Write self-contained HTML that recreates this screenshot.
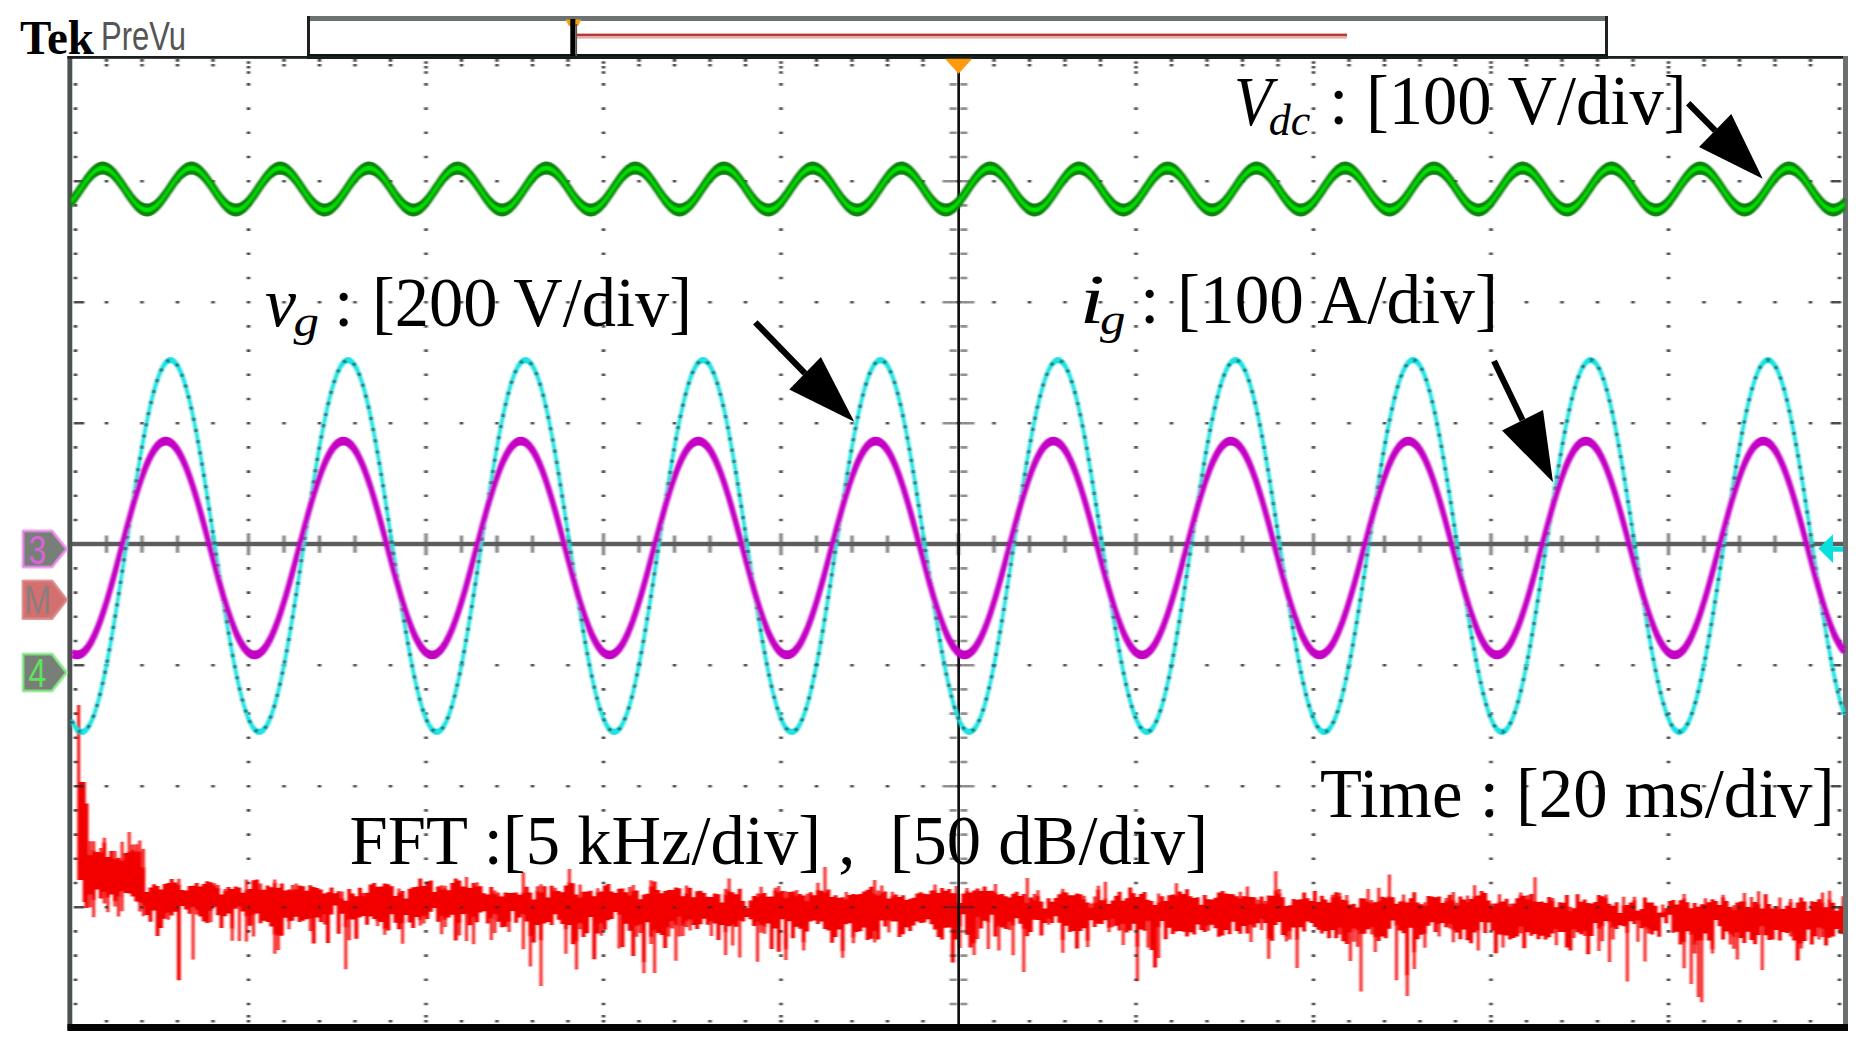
<!DOCTYPE html>
<html lang="en"><head><meta charset="utf-8"><title>Tek PreVu</title>
<style>html,body{margin:0;padding:0;background:#fff;overflow:hidden}svg{display:block}.s{font-family:"Liberation Serif","Times New Roman",serif;fill:#000}.i{font-style:italic}</style></head><body>
<svg width="1871" height="1052" viewBox="0 0 1871 1052">
<defs><filter id="bl" x="0" y="0" width="1871" height="1052" filterUnits="userSpaceOnUse"><feGaussianBlur stdDeviation="0.8 0.65"/></filter></defs>
<rect width="1871" height="1052" fill="#fff"/>
<rect x="307" y="16" width="1301" height="5" fill="#6c7272"/>
<rect x="307" y="16" width="3" height="42" fill="#1c2222"/>
<rect x="1605" y="16" width="3" height="42" fill="#1c2222"/>
<rect x="307" y="54" width="1301" height="5" fill="#0d1414"/>
<rect x="577" y="33.6" width="770" height="2.8" fill="#b83838"/>
<rect x="577" y="36.4" width="770" height="2.2" fill="#e8a8a8"/>
<path d="M565.5 19.5h16l-3.5 6.5h-9z" fill="#f5a010"/>
<rect x="570.3" y="19" width="5" height="39" fill="#000"/>
<rect x="575.3" y="24" width="1.8" height="32" fill="#555"/>
<text class="s" x="20" y="54" font-size="48.5" font-weight="bold" textLength="74" lengthAdjust="spacingAndGlyphs">Tek</text>
<text x="101" y="49.8" font-size="41" font-family="'Liberation Sans',Arial,sans-serif" fill="#555" textLength="85" lengthAdjust="spacingAndGlyphs">PreVu</text>
<g filter="url(#bl)">
<path d="M84.6 803.6h3.9v104.5h-3.9zM88.1 854.7h3.9v40.3h-3.9zM91.7 850.1h3.9v50.2h-3.9zM95.2 852.1h3.9v37.4h-3.9zM98.8 852.1h3.9v46.3h-3.9zM102.3 842.2h3.9v50.2h-3.9zM105.9 857.1h3.9v40.7h-3.9zM109.4 850.9h3.9v43.6h-3.9zM113 858.6h3.9v42.8h-3.9zM116.5 858h3.9v39.1h-3.9zM120.1 860.3h3.9v31.3h-3.9zM123.6 852.9h3.9v40.1h-3.9zM127.2 851.4h3.9v42.2h-3.9zM130.7 849.5h3.9v46.9h-3.9zM134.3 851.3h3.9v50.1h-3.9zM137.8 851.2h3.9v51.9h-3.9zM141.4 867.1h3.9v38.7h-3.9zM145 891.9h3.9v23.2h-3.9zM148.5 887.4h3.9v34.3h-3.9zM152.1 884.3h3.9v26.2h-3.9zM155.6 886h3.9v50h-3.9zM159.2 889.6h3.9v38.3h-3.9zM162.7 883.9h3.9v34.9h-3.9zM166.3 882.9h3.9v30.3h-3.9zM169.8 878.9h3.9v36.7h-3.9zM173.4 882.5h3.9v29.3h-3.9zM176.9 884.7h3.9v95.6h-3.9zM180.5 890.1h3.9v16h-3.9zM184 890.4h3.9v19.1h-3.9zM187.6 886h3.9v27.7h-3.9zM191.1 885.7h3.9v21.8h-3.9zM194.7 883h3.9v27.4h-3.9zM198.2 886.5h3.9v30h-3.9zM201.8 883.9h3.9v37.7h-3.9zM205.3 881.3h3.9v41.6h-3.9zM208.9 882.3h3.9v29h-3.9zM212.4 885.3h3.9v21.4h-3.9zM216 887.8h3.9v27.5h-3.9zM219.5 894.5h3.9v33.6h-3.9zM223.1 891h3.9v25.2h-3.9zM226.6 887h3.9v26.6h-3.9zM230.2 889h3.9v39.8h-3.9zM233.7 886.5h3.9v22.3h-3.9zM237.3 887.5h3.9v19.6h-3.9zM240.8 892.7h3.9v18.7h-3.9zM244.4 889.8h3.9v26.7h-3.9zM247.9 889h3.9v36.7h-3.9zM251.5 880.3h3.9v35.2h-3.9zM255 879.4h3.9v34h-3.9zM258.6 889.2h3.9v34.1h-3.9zM262.1 889.7h3.9v31h-3.9zM265.7 885.6h3.9v36.3h-3.9zM269.2 887.2h3.9v39.4h-3.9zM272.8 882.7h3.9v52h-3.9zM276.3 887.8h3.9v48.3h-3.9zM279.9 883.4h3.9v52.3h-3.9zM283.4 890.5h3.9v27.3h-3.9zM287 889.5h3.9v32.1h-3.9zM290.5 889.7h3.9v31.1h-3.9zM294.1 889h3.9v27.8h-3.9zM297.6 885.5h3.9v36.4h-3.9zM301.2 886.2h3.9v34.5h-3.9zM304.7 890.7h3.9v28.5h-3.9zM308.3 885.2h3.9v33.9h-3.9zM311.8 887h3.9v56.6h-3.9zM315.4 887.9h3.9v29.7h-3.9zM318.9 889.4h3.9v32.7h-3.9zM322.5 893.5h3.9v21.5h-3.9zM326 892.3h3.9v50.7h-3.9zM329.6 887.5h3.9v26.9h-3.9zM333.1 893.3h3.9v12.3h-3.9zM336.7 891.2h3.9v42.6h-3.9zM340.2 898h3.9v15.7h-3.9zM343.8 900.7h3.9v26.7h-3.9zM347.3 889h3.9v30.7h-3.9zM350.9 893.6h3.9v25.9h-3.9zM354.4 896.3h3.9v42.5h-3.9zM358 887.7h3.9v29.7h-3.9zM361.5 895.4h3.9v20.6h-3.9zM365.1 892.7h3.9v32.1h-3.9zM368.6 884.4h3.9v32.2h-3.9zM372.2 882.9h3.9v36.1h-3.9zM375.7 886.7h3.9v34.7h-3.9zM379.3 886.5h3.9v35.4h-3.9zM382.8 883.6h3.9v45.6h-3.9zM386.4 884.2h3.9v46.3h-3.9zM389.9 886.2h3.9v28.1h-3.9zM393.5 896.1h3.9v26.7h-3.9zM397 892.4h3.9v36.8h-3.9zM400.6 891h3.9v32.7h-3.9zM404.1 898.6h3.9v16.4h-3.9zM407.7 888.7h3.9v33.8h-3.9zM411.2 887.3h3.9v40.6h-3.9zM414.8 886.7h3.9v30.4h-3.9zM418.3 878.5h3.9v41.8h-3.9zM421.9 885.9h3.9v30.3h-3.9zM425.4 881.6h3.9v37.4h-3.9zM429 880.6h3.9v31.2h-3.9zM432.5 892h3.9v15.9h-3.9zM436.1 886.6h3.9v35.1h-3.9zM439.6 889.1h3.9v27.6h-3.9zM443.2 888.3h3.9v31.6h-3.9zM446.7 890.2h3.9v27.2h-3.9zM450.3 883h3.9v31.7h-3.9zM453.8 878.5h3.9v62.1h-3.9zM457.4 880.6h3.9v42.7h-3.9zM460.9 886.6h3.9v27.4h-3.9zM464.5 886.4h3.9v28.1h-3.9zM468 887.9h3.9v37.4h-3.9zM471.6 882.9h3.9v34.6h-3.9zM475.1 886.1h3.9v36.2h-3.9zM478.7 886.3h3.9v26.1h-3.9zM482.2 893.2h3.9v18.1h-3.9zM485.8 894.5h3.9v29.1h-3.9zM489.3 887.1h3.9v31.8h-3.9zM492.9 893.2h3.9v21.2h-3.9zM496.4 895.2h3.9v26.5h-3.9zM500 896.5h3.9v30.8h-3.9zM503.5 892.5h3.9v34.2h-3.9zM507.1 892.9h3.9v29h-3.9zM510.6 892.7h3.9v18.3h-3.9zM514.2 892.4h3.9v30.3h-3.9zM517.7 894.7h3.9v22.8h-3.9zM521.3 892.5h3.9v22.2h-3.9zM524.8 886.8h3.9v34.7h-3.9zM528.4 892.5h3.9v44h-3.9zM531.9 899.5h3.9v43.1h-3.9zM535.5 890.6h3.9v34.4h-3.9zM539 891.9h3.9v48.6h-3.9zM542.6 886.2h3.9v37.4h-3.9zM546.1 897.6h3.9v24.5h-3.9zM549.7 885.7h3.9v39.3h-3.9zM553.2 890.4h3.9v23.9h-3.9zM556.8 891h3.9v28.7h-3.9zM560.3 892.3h3.9v31.6h-3.9zM563.9 885.4h3.9v44h-3.9zM567.4 882.3h3.9v42.8h-3.9zM571 883.2h3.9v61h-3.9zM574.5 894.4h3.9v47.4h-3.9zM578.1 897.2h3.9v26.5h-3.9zM581.6 891.7h3.9v45.4h-3.9zM585.2 891.4h3.9v41.9h-3.9zM588.7 890.7h3.9v26.4h-3.9zM592.3 896.3h3.9v62.9h-3.9zM595.8 892h3.9v41.4h-3.9zM599.4 891.5h3.9v32.2h-3.9zM602.9 885.6h3.9v44.2h-3.9zM606.4 883.9h3.9v36.4h-3.9zM610 891.5h3.9v27.5h-3.9zM613.5 893h3.9v19.1h-3.9zM617.1 888.7h3.9v26.3h-3.9zM620.6 888.4h3.9v58.5h-3.9zM624.2 892.3h3.9v31.4h-3.9zM627.7 894.8h3.9v35.9h-3.9zM631.3 890.4h3.9v65.5h-3.9zM634.8 890.6h3.9v35.6h-3.9zM638.4 899.3h3.9v25.8h-3.9zM641.9 894.4h3.9v68h-3.9zM645.5 893.8h3.9v28.5h-3.9zM649 886.3h3.9v50.8h-3.9zM652.6 881.6h3.9v48.9h-3.9zM656.1 890.1h3.9v42.9h-3.9zM659.7 893.3h3.9v41.6h-3.9zM663.2 891.1h3.9v57h-3.9zM666.8 890.1h3.9v37.5h-3.9zM670.3 889.9h3.9v31.6h-3.9zM673.9 887.5h3.9v37.9h-3.9zM677.4 888.3h3.9v28.8h-3.9zM681 896.2h3.9v29.7h-3.9zM684.5 893h3.9v28.7h-3.9zM688.1 887.8h3.9v32.4h-3.9zM691.6 897.3h3.9v27.8h-3.9zM695.2 891.3h3.9v37.6h-3.9zM698.7 890.8h3.9v33.4h-3.9zM702.3 893h3.9v25.7h-3.9zM705.8 896.7h3.9v28h-3.9zM709.4 897h3.9v24.8h-3.9zM712.9 893.4h3.9v30.2h-3.9zM716.5 894.3h3.9v45.6h-3.9zM720 902.6h3.9v22.5h-3.9zM723.6 894.3h3.9v38.2h-3.9zM727.1 890.6h3.9v35.7h-3.9zM730.7 892.2h3.9v33h-3.9zM734.2 894.3h3.9v32.5h-3.9zM737.8 888.8h3.9v32.3h-3.9zM741.3 901.1h3.9v20.5h-3.9zM744.9 908.2h3.9v8.9h-3.9zM748.4 900.6h3.9v18.6h-3.9zM752 896.1h3.9v29.8h-3.9zM755.5 896.6h3.9v26h-3.9zM759.1 893.8h3.9v31.6h-3.9zM762.6 892.9h3.9v34.2h-3.9zM766.2 896.8h3.9v26.6h-3.9zM769.7 896.5h3.9v52.5h-3.9zM773.3 890.1h3.9v38.4h-3.9zM776.8 891.8h3.9v59.9h-3.9zM780.4 891.1h3.9v28.2h-3.9zM783.9 897.6h3.9v51.9h-3.9zM787.5 891.9h3.9v29.4h-3.9zM791 891.5h3.9v46.7h-3.9zM794.6 895.6h3.9v31.1h-3.9zM798.1 893.9h3.9v34.8h-3.9zM801.7 895.5h3.9v46.9h-3.9zM805.2 900.8h3.9v30.7h-3.9zM808.8 892.3h3.9v29.3h-3.9zM812.3 895.2h3.9v25.3h-3.9zM815.9 889.8h3.9v34.3h-3.9zM819.4 890.7h3.9v30.8h-3.9zM823 892.1h3.9v37h-3.9zM826.5 889.6h3.9v40.9h-3.9zM830.1 897h3.9v45.8h-3.9zM833.6 895.3h3.9v41.7h-3.9zM837.2 897.7h3.9v31.8h-3.9zM840.7 897.2h3.9v54.1h-3.9zM844.3 898.8h3.9v25.4h-3.9zM847.8 894.9h3.9v28.4h-3.9zM851.4 894h3.9v43.7h-3.9zM854.9 894.6h3.9v37.5h-3.9zM858.5 894.1h3.9v37.2h-3.9zM862 891.6h3.9v35.8h-3.9zM865.6 889.8h3.9v50.1h-3.9zM869.1 886.8h3.9v52h-3.9zM872.7 893.2h3.9v38.3h-3.9zM876.2 894.9h3.9v44.5h-3.9zM879.8 892.6h3.9v28h-3.9zM883.3 891.4h3.9v35.2h-3.9zM886.9 898.5h3.9v22h-3.9zM890.4 896.2h3.9v25.4h-3.9zM894 894.6h3.9v26.8h-3.9zM897.5 896.9h3.9v40.1h-3.9zM901.1 895.3h3.9v39h-3.9zM904.6 900.1h3.9v27.2h-3.9zM908.2 898.8h3.9v32.1h-3.9zM911.7 897.8h3.9v27.6h-3.9zM915.3 893.4h3.9v28h-3.9zM918.8 892.2h3.9v30.9h-3.9zM922.4 893.8h3.9v28.8h-3.9zM925.9 894.3h3.9v24.9h-3.9zM929.5 890.5h3.9v33.7h-3.9zM933 890.1h3.9v39.4h-3.9zM936.6 893h3.9v43.9h-3.9zM940.1 888.1h3.9v51.5h-3.9zM943.7 890.7h3.9v37.1h-3.9zM947.2 889.1h3.9v38.3h-3.9zM950.8 893.2h3.9v69.2h-3.9zM954.3 893h3.9v46.6h-3.9zM957.9 903.1h3.9v23.4h-3.9zM961.4 893.6h3.9v20.6h-3.9zM965 890.7h3.9v44h-3.9zM968.5 892.5h3.9v55.1h-3.9zM972.1 890.4h3.9v53.1h-3.9zM975.6 888.4h3.9v29.1h-3.9zM979.2 891.1h3.9v37.4h-3.9zM982.7 886.5h3.9v34.3h-3.9zM986.3 891.1h3.9v31.3h-3.9zM989.8 890.8h3.9v24h-3.9zM993.4 892.1h3.9v44.5h-3.9zM996.9 894.4h3.9v32.3h-3.9zM1000.5 894h3.9v33.5h-3.9zM1004 896.2h3.9v32.9h-3.9zM1007.6 897.5h3.9v24.8h-3.9zM1011.1 893.8h3.9v31.9h-3.9zM1014.7 891.8h3.9v26.5h-3.9zM1018.2 895.9h3.9v27.8h-3.9zM1021.8 894h3.9v35.2h-3.9zM1025.3 902.5h3.9v33.7h-3.9zM1028.9 897.6h3.9v34.4h-3.9zM1032.4 899.7h3.9v20h-3.9zM1036 895.7h3.9v24.3h-3.9zM1039.5 901.6h3.9v34h-3.9zM1043.1 908.5h3.9v14.4h-3.9zM1046.6 898.3h3.9v20.9h-3.9zM1050.2 901.7h3.9v21.4h-3.9zM1053.7 898.1h3.9v18.1h-3.9zM1057.3 894.3h3.9v28.5h-3.9zM1060.8 891.5h3.9v48.7h-3.9zM1064.4 892.5h3.9v33.3h-3.9zM1067.9 895.3h3.9v36.7h-3.9zM1071.5 895.2h3.9v35.9h-3.9zM1075 893.6h3.9v55h-3.9zM1078.6 894.2h3.9v36.7h-3.9zM1082.1 898.9h3.9v29.4h-3.9zM1085.7 902.6h3.9v38.5h-3.9zM1089.2 907.2h3.9v13.1h-3.9zM1092.8 902.3h3.9v24.8h-3.9zM1096.3 889.6h3.9v34.2h-3.9zM1099.9 900.3h3.9v23.6h-3.9zM1103.4 898.2h3.9v22.1h-3.9zM1107 904h3.9v23.9h-3.9zM1110.5 900.5h3.9v18.9h-3.9zM1114.1 895.7h3.9v30.1h-3.9zM1117.6 891.7h3.9v38.7h-3.9zM1121.2 900.7h3.9v23.6h-3.9zM1124.7 898.3h3.9v34.2h-3.9zM1128.3 887.5h3.9v43.1h-3.9zM1131.8 893.2h3.9v30.6h-3.9zM1135.4 896.9h3.9v50h-3.9zM1138.9 894.1h3.9v35.4h-3.9zM1142.5 892.1h3.9v38.7h-3.9zM1146 899.7h3.9v21.8h-3.9zM1149.6 900.9h3.9v49.2h-3.9zM1153.1 905h3.9v62.5h-3.9zM1156.7 902h3.9v25.6h-3.9zM1160.2 896.2h3.9v24.8h-3.9zM1163.8 900.9h3.9v38.3h-3.9zM1167.3 895.2h3.9v32.6h-3.9zM1170.9 894.5h3.9v39.6h-3.9zM1174.4 895.2h3.9v36.2h-3.9zM1178 891.5h3.9v39.5h-3.9zM1181.5 893.9h3.9v37.8h-3.9zM1185.1 889.2h3.9v47.3h-3.9zM1188.6 896.3h3.9v35.9h-3.9zM1192.2 898h3.9v36.6h-3.9zM1195.7 897.3h3.9v27.1h-3.9zM1199.3 904.7h3.9v25.4h-3.9zM1202.8 894.9h3.9v37h-3.9zM1206.4 899.2h3.9v26.7h-3.9zM1209.9 899.5h3.9v25.2h-3.9zM1213.5 897.8h3.9v30.5h-3.9zM1217 892.6h3.9v44.2h-3.9zM1220.6 890.9h3.9v44.7h-3.9zM1224.1 893.4h3.9v36.7h-3.9zM1227.7 893.9h3.9v40.4h-3.9zM1231.2 894.3h3.9v27.4h-3.9zM1234.8 896.2h3.9v34.8h-3.9zM1238.3 898.1h3.9v35.7h-3.9zM1241.9 896.2h3.9v29.8h-3.9zM1245.4 896.1h3.9v37.5h-3.9zM1249 896.9h3.9v28.3h-3.9zM1252.5 897.3h3.9v30.2h-3.9zM1256.1 903.5h3.9v19.8h-3.9zM1259.6 896.5h3.9v23.3h-3.9zM1263.2 903.3h3.9v19.6h-3.9zM1266.7 895.6h3.9v43.4h-3.9zM1270.3 895.8h3.9v45h-3.9zM1273.8 889.9h3.9v35.1h-3.9zM1277.4 893.2h3.9v28.9h-3.9zM1280.9 897.3h3.9v37.6h-3.9zM1284.5 906h3.9v30.9h-3.9zM1288 905.2h3.9v26.2h-3.9zM1291.6 899h3.9v28.6h-3.9zM1295.1 899.8h3.9v40.1h-3.9zM1298.7 899.3h3.9v28h-3.9zM1302.2 892.4h3.9v39.1h-3.9zM1305.8 898.3h3.9v23.2h-3.9zM1309.3 900.9h3.9v22.2h-3.9zM1312.9 891.1h3.9v35.9h-3.9zM1316.4 902.1h3.9v27.6h-3.9zM1320 895.7h3.9v37.8h-3.9zM1323.5 899.6h3.9v31.5h-3.9zM1327.1 902.6h3.9v35.6h-3.9zM1330.6 897h3.9v33h-3.9zM1334.2 892.3h3.9v46h-3.9zM1337.7 895.9h3.9v32.3h-3.9zM1341.3 899.8h3.9v41.5h-3.9zM1344.8 900.5h3.9v43.5h-3.9zM1348.4 904.4h3.9v28.4h-3.9zM1351.9 903.7h3.9v25.2h-3.9zM1355.5 907.4h3.9v23.7h-3.9zM1359 898.2h3.9v36h-3.9zM1362.6 898.5h3.9v35.3h-3.9zM1366.1 901.4h3.9v27.8h-3.9zM1369.7 902.7h3.9v25h-3.9zM1373.2 902.3h3.9v34.9h-3.9zM1376.8 900.8h3.9v40.2h-3.9zM1380.3 896.7h3.9v39.8h-3.9zM1383.9 897.5h3.9v40.7h-3.9zM1387.4 896.1h3.9v32.7h-3.9zM1391 897.2h3.9v23.2h-3.9zM1394.5 903.7h3.9v22.2h-3.9zM1398.1 901.6h3.9v28.8h-3.9zM1401.6 900.5h3.9v32.7h-3.9zM1405.2 902.5h3.9v73.1h-3.9zM1408.7 898.3h3.9v29.5h-3.9zM1412.3 892.2h3.9v60.2h-3.9zM1415.8 902.4h3.9v36.9h-3.9zM1419.4 904.2h3.9v30.5h-3.9zM1422.9 905.2h3.9v28.7h-3.9zM1426.5 896h3.9v29.8h-3.9zM1430 896.5h3.9v25.7h-3.9zM1433.6 897.3h3.9v34.7h-3.9zM1437.1 896.4h3.9v28.2h-3.9zM1440.7 902.9h3.9v20h-3.9zM1444.2 900.7h3.9v26.6h-3.9zM1447.8 894.7h3.9v29.8h-3.9zM1451.3 899.7h3.9v30.9h-3.9zM1454.9 905h3.9v27.4h-3.9zM1458.4 896.6h3.9v42.6h-3.9zM1462 899.6h3.9v29.8h-3.9zM1465.5 901.3h3.9v38.9h-3.9zM1469.1 899h3.9v44.2h-3.9zM1472.6 896h3.9v36.4h-3.9zM1476.2 895.6h3.9v35.2h-3.9zM1479.7 890.9h3.9v31.2h-3.9zM1483.3 893h3.9v40.1h-3.9zM1486.8 900.6h3.9v21.9h-3.9zM1490.4 906.3h3.9v24.2h-3.9zM1493.9 903.6h3.9v49.6h-3.9zM1497.5 901.4h3.9v33.1h-3.9zM1501 901.5h3.9v34h-3.9zM1504.6 898.7h3.9v36.7h-3.9zM1508.1 906.3h3.9v33.1h-3.9zM1511.7 903.5h3.9v34.5h-3.9zM1515.2 898.2h3.9v38.4h-3.9zM1518.8 895.2h3.9v31.8h-3.9zM1522.3 895.8h3.9v52.4h-3.9zM1525.9 898.9h3.9v33.3h-3.9zM1529.4 894.1h3.9v41.6h-3.9zM1533 901h3.9v32.9h-3.9zM1536.5 902h3.9v37.3h-3.9zM1540.1 901.4h3.9v34.3h-3.9zM1543.6 903.1h3.9v36.3h-3.9zM1547.2 896.9h3.9v40.3h-3.9zM1550.7 900.4h3.9v33h-3.9zM1554.3 907.3h3.9v22.3h-3.9zM1557.8 902.2h3.9v29.9h-3.9zM1561.4 902.7h3.9v29.3h-3.9zM1564.9 894.9h3.9v52.5h-3.9zM1568.5 910.6h3.9v39.9h-3.9zM1572 908.3h3.9v21.4h-3.9zM1575.6 894.2h3.9v38h-3.9zM1579.1 901.8h3.9v32.4h-3.9zM1582.7 899.5h3.9v31.9h-3.9zM1586.2 903h3.9v51.2h-3.9zM1589.8 903.5h3.9v32.4h-3.9zM1593.3 902.1h3.9v21h-3.9zM1596.9 895.1h3.9v33.9h-3.9zM1600.4 896.3h3.9v30.3h-3.9zM1604 897.7h3.9v23.4h-3.9zM1607.5 903.7h3.9v18.9h-3.9zM1611.1 905.8h3.9v21.9h-3.9zM1614.6 902.2h3.9v26.9h-3.9zM1618.2 913h3.9v12.3h-3.9zM1621.7 905.3h3.9v21h-3.9zM1625.3 905.1h3.9v28.2h-3.9zM1628.8 902.6h3.9v18.6h-3.9zM1632.4 900.1h3.9v23.8h-3.9zM1635.9 910.7h3.9v10.1h-3.9zM1639.5 909h3.9v19.2h-3.9zM1643 897.6h3.9v29.9h-3.9zM1646.6 902.6h3.9v27h-3.9zM1650.1 902.5h3.9v32.1h-3.9zM1653.7 905.8h3.9v24.9h-3.9zM1657.2 912.8h3.9v24h-3.9zM1660.8 911.4h3.9v5.9h-3.9zM1664.3 908.3h3.9v15h-3.9zM1667.9 901.1h3.9v13.6h-3.9zM1671.4 900h3.9v32.8h-3.9zM1675 904.6h3.9v27.2h-3.9zM1678.5 900.2h3.9v44.2h-3.9zM1682.1 898.2h3.9v44h-3.9zM1685.6 902.3h3.9v29h-3.9zM1689.2 908.3h3.9v26.8h-3.9zM1692.7 903h3.9v41.9h-3.9zM1696.3 906.7h3.9v34.2h-3.9zM1699.8 904.2h3.9v36.4h-3.9zM1703.4 904h3.9v29.4h-3.9zM1706.9 902.3h3.9v38.3h-3.9zM1710.5 899.2h3.9v50.4h-3.9zM1714 900.9h3.9v19h-3.9zM1717.6 905h3.9v21.2h-3.9zM1721.1 896.9h3.9v42.7h-3.9zM1724.7 900.9h3.9v30.7h-3.9zM1728.2 907h3.9v27.5h-3.9zM1731.8 909.4h3.9v27.9h-3.9zM1735.3 902.5h3.9v30.5h-3.9zM1738.9 901.5h3.9v36.4h-3.9zM1742.4 900.9h3.9v42.2h-3.9zM1746 907h3.9v24.8h-3.9zM1749.5 907h3.9v33h-3.9zM1753.1 902.1h3.9v42.2h-3.9zM1756.6 903.4h3.9v31.5h-3.9zM1760.2 908.4h3.9v18h-3.9zM1763.7 894.2h3.9v41.1h-3.9zM1767.3 904h3.9v36.1h-3.9zM1770.8 908.6h3.9v30.9h-3.9zM1774.4 906.3h3.9v23.8h-3.9zM1777.9 908.4h3.9v32h-3.9zM1781.5 909.1h3.9v23h-3.9zM1785 905.8h3.9v27.3h-3.9zM1788.6 902.1h3.9v30h-3.9zM1792.1 908h3.9v32.4h-3.9zM1795.7 902.6h3.9v57.8h-3.9zM1799.2 897.6h3.9v46.3h-3.9zM1802.8 901.6h3.9v39.3h-3.9zM1806.3 911.1h3.9v18.4h-3.9zM1809.9 901.3h3.9v43.2h-3.9zM1813.4 902.1h3.9v34.2h-3.9zM1817 899.3h3.9v28.6h-3.9zM1820.5 902.3h3.9v27.2h-3.9zM1824.1 907.2h3.9v38.2h-3.9zM1827.6 899.3h3.9v38.5h-3.9zM1831.2 902.7h3.9v33.9h-3.9zM1834.7 910.7h3.9v18.4h-3.9zM1838.3 906.2h3.9v27.6h-3.9zM1841.8 896.3h3.9v37.9h-3.9zM77.3 705h2.8v77h5.6v120h-3v-22h-5.4z" fill="#f20000"/><path d="M88.6 841.3h3v14.4h-3zM88.6 894h3v13.2h-3zM92.2 841.3h3v9.9h-3zM92.2 899.3h3v18h-3zM99.3 847.9h3v5.2h-3zM102.8 837.7h3v5.5h-3zM102.8 891.4h3v12h-3zM106.4 896.7h3v15.6h-3zM113.5 850.9h3v8.7h-3zM113.5 900.3h3v6.1h-3zM117 896.1h3v20.3h-3zM120.6 841.7h3v19.6h-3zM120.6 890.5h3v20.7h-3zM127.7 832h3v20.4h-3zM131.2 844.5h3v6h-3zM134.8 844.2h3v8.1h-3zM138.3 840.5h3v11.7h-3zM138.3 902.1h3v9.3h-3zM141.9 849h3v19.2h-3zM141.9 904.9h3v11.3h-3zM166.8 912.2h3v7.5h-3zM177.4 878.8h3v6.9h-3zM191.6 906.5h3v53.1h-3zM195.2 909.4h3v5.1h-3zM209.4 910.3h3v11.9h-3zM212.9 883.2h3v3.2h-3zM216.5 885.1h3v3.7h-3zM223.6 888.9h3v3.1h-3zM230.7 927.8h3v12.9h-3zM237.8 906h3v34.9h-3zM244.9 879.6h3v11.3h-3zM244.9 915.6h3v25.9h-3zM252 914.5h3v22h-3zM259.1 883.4h3v6.8h-3zM273.3 879.6h3v4.1h-3zM273.3 933.7h3v20.1h-3zM276.8 935.1h3v14.8h-3zM287.5 920.7h3v8.6h-3zM291 885.1h3v5.6h-3zM294.6 883.5h3v6.5h-3zM308.8 918.1h3v12.9h-3zM323 914h3v10.4h-3zM340.7 891.4h3v7.6h-3zM344.3 926.4h3v42.8h-3zM347.8 918.8h3v21.4h-3zM362 893.1h3v3.3h-3zM376.2 920.4h3v5.8h-3zM383.3 928.1h3v6.7h-3zM397.5 888.6h3v4.8h-3zM401.1 922.7h3v21.1h-3zM418.8 919.3h3v6.1h-3zM422.4 915.2h3v8.2h-3zM440.1 885.2h3v4.8h-3zM440.1 915.7h3v18.6h-3zM443.7 885.7h3v3.6h-3zM443.7 918.9h3v8.2h-3zM457.9 922.3h3v13.3h-3zM465 877.1h3v10.4h-3zM465 913.5h3v27.4h-3zM472.1 916.5h3v27.8h-3zM475.6 882.2h3v4.8h-3zM489.8 917.8h3v22.1h-3zM493.4 890.4h3v3.8h-3zM493.4 913.4h3v19.7h-3zM496.9 892.6h3v3.7h-3zM507.6 920.9h3v11.2h-3zM521.8 872.4h3v21.2h-3zM521.8 913.7h3v35.5h-3zM528.9 935.5h3v31.1h-3zM536 886.2h3v5.4h-3zM539.5 884.3h3v8.6h-3zM539.5 939.5h3v46.6h-3zM553.7 887.7h3v3.7h-3zM564.4 928.4h3v25.4h-3zM567.9 869h3v14.3h-3zM575 940.8h3v28.7h-3zM578.6 884.6h3v13.6h-3zM578.6 922.7h3v6.5h-3zM596.3 888.3h3v4.7h-3zM599.9 922.7h3v13h-3zM617.6 914h3v34.5h-3zM628.2 887h3v8.9h-3zM631.8 885h3v6.4h-3zM635.3 925.2h3v11.5h-3zM638.9 924.1h3v8.8h-3zM642.4 961.5h3v11.7h-3zM649.5 880.3h3v7h-3zM649.5 936.1h3v8h-3zM653.1 929.5h3v43.6h-3zM667.3 926.5h3v9.9h-3zM670.8 920.6h3v8h-3zM674.4 924.4h3v36.3h-3zM677.9 916.2h3v20.2h-3zM681.5 924.8h3v11.3h-3zM685 885.5h3v8.5h-3zM685 920.7h3v6.3h-3zM688.6 919.1h3v11.5h-3zM709.9 920.8h3v15.2h-3zM724.1 888.7h3v6.6h-3zM724.1 931.6h3v23.4h-3zM727.6 878.5h3v13.1h-3zM731.2 924.2h3v21.4h-3zM738.3 920.1h3v37.3h-3zM756 893.6h3v4h-3zM756 921.6h3v40.2h-3zM759.6 886.8h3v7.9h-3zM759.6 924.4h3v8.4h-3zM763.1 926.1h3v7.6h-3zM773.8 887.7h3v3.4h-3zM777.3 886h3v6.7h-3zM784.4 891.3h3v7.3h-3zM784.4 948.5h3v11.4h-3zM795.1 890.1h3v6.5h-3zM802.2 941.4h3v9.2h-3zM805.7 893.8h3v8h-3zM816.4 882.8h3v7.9h-3zM823.5 867.1h3v26.1h-3zM841.2 950.2h3v7.6h-3zM844.8 891.9h3v8h-3zM851.9 936.7h3v6.6h-3zM873.2 879.9h3v14.3h-3zM873.2 930.4h3v12.1h-3zM876.7 890.6h3v5.3h-3zM880.3 885.6h3v8h-3zM887.4 919.5h3v13.1h-3zM890.9 891.7h3v5.5h-3zM933.5 884.4h3v6.8h-3zM954.8 886.1h3v7.9h-3zM958.4 925.5h3v22.4h-3zM965.5 888.1h3v3.6h-3zM972.6 942.5h3v12.4h-3zM976.1 916.4h3v22.6h-3zM986.8 921.4h3v27.6h-3zM993.9 884.1h3v9h-3zM997.4 925.6h3v24.9h-3zM1008.1 921.3h3v8.8h-3zM1011.6 924.8h3v30.5h-3zM1022.3 928.2h3v43.9h-3zM1025.8 878h3v25.5h-3zM1032.9 894h3v6.7h-3zM1036.5 890.3h3v6.3h-3zM1047.1 918.2h3v6.5h-3zM1061.3 888.7h3v3.8h-3zM1061.3 939.2h3v13.5h-3zM1082.6 895.8h3v4.2h-3zM1086.2 940h3v6.9h-3zM1089.7 903.6h3v4.6h-3zM1093.3 896.5h3v6.7h-3zM1096.8 885.7h3v4.9h-3zM1103.9 881.8h3v17.4h-3zM1107.5 927h3v5.3h-3zM1111 918.4h3v8.9h-3zM1121.7 923.3h3v21.7h-3zM1135.9 945.9h3v35.3h-3zM1146.5 920.5h3v26.9h-3zM1157.2 893.5h3v9.5h-3zM1157.2 926.6h3v31.3h-3zM1174.9 883.3h3v12.9h-3zM1206.9 924.8h3v6h-3zM1238.8 891.7h3v7.4h-3zM1245.9 886.5h3v10.6h-3zM1249.5 924.2h3v17.8h-3zM1256.6 899.8h3v4.8h-3zM1260.1 918.8h3v11.1h-3zM1263.7 900.9h3v3.4h-3zM1267.2 938h3v20.8h-3zM1274.3 871.2h3v19.7h-3zM1277.9 889.1h3v5.2h-3zM1285 935.9h3v5.6h-3zM1288.5 930.5h3v9.1h-3zM1295.6 938.8h3v29.3h-3zM1331.1 894.7h3v3.4h-3zM1338.2 892.8h3v4.1h-3zM1338.2 927.2h3v7.3h-3zM1345.3 895.1h3v6.4h-3zM1348.9 931.9h3v29.2h-3zM1352.4 927.9h3v13.8h-3zM1356 930.1h3v16.7h-3zM1359.5 933.2h3v58.4h-3zM1366.6 889h3v13.5h-3zM1370.2 900.1h3v3.6h-3zM1370.2 926.8h3v7.8h-3zM1373.7 936.2h3v15.9h-3zM1377.3 887.8h3v13.9h-3zM1387.9 874.6h3v22.5h-3zM1395 924.8h3v55.4h-3zM1402.1 894.5h3v7.1h-3zM1405.7 974.6h3v21.4h-3zM1412.8 951.4h3v17.5h-3zM1423.4 902.3h3v3.9h-3zM1423.4 932.9h3v14.9h-3zM1437.6 923.7h3v12.9h-3zM1444.7 897.9h3v3.8h-3zM1448.3 923.5h3v5.1h-3zM1451.8 892.1h3v8.6h-3zM1451.8 929.6h3v12.7h-3zM1455.4 902.8h3v3.2h-3zM1466 895.4h3v7h-3zM1473.1 885.2h3v11.8h-3zM1476.7 929.8h3v20.8h-3zM1490.9 903.5h3v3.8h-3zM1498 894.3h3v8.1h-3zM1501.5 934.6h3v12.9h-3zM1508.6 903.8h3v3.5h-3zM1519.3 892.4h3v3.8h-3zM1519.3 926h3v7.3h-3zM1526.4 895.3h3v4.6h-3zM1533.5 877.2h3v24.8h-3zM1551.2 897.9h3v3.4h-3zM1554.8 928.7h3v16.6h-3zM1569 906.8h3v4.8h-3zM1572.5 928.7h3v9.4h-3zM1583.2 930.4h3v5.7h-3zM1597.4 928h3v23.1h-3zM1600.9 925.5h3v15.8h-3zM1604.5 894.4h3v4.3h-3zM1608 921.6h3v40.5h-3zM1611.6 926.7h3v12.7h-3zM1622.2 896.7h3v9.6h-3zM1625.8 932.3h3v49.3h-3zM1632.9 896.8h3v4.3h-3zM1636.4 919.7h3v22.1h-3zM1643.5 926.6h3v34.9h-3zM1647.1 928.6h3v5h-3zM1661.3 904.6h3v7.8h-3zM1682.6 894h3v5.1h-3zM1682.6 941.2h3v27h-3zM1689.7 934.1h3v49.9h-3zM1693.2 943.8h3v9.7h-3zM1696.8 939.9h3v57.1h-3zM1700.3 939.6h3v62.7h-3zM1703.9 898.3h3v6.7h-3zM1711 948.6h3v5h-3zM1721.6 894.7h3v3.2h-3zM1728.7 933.5h3v11h-3zM1732.3 905.2h3v5.2h-3zM1732.3 936.3h3v12.4h-3zM1735.8 932h3v27.5h-3zM1742.9 893h3v8.9h-3zM1750 896.9h3v11.1h-3zM1757.1 891.3h3v13.1h-3zM1760.7 925.4h3v44.6h-3zM1778.4 897.6h3v11.8h-3zM1789.1 899h3v4.1h-3zM1789.1 931.1h3v5.4h-3zM1799.7 942.9h3v5.5h-3zM1817.5 926.9h3v12.5h-3zM1821 892.5h3v10.8h-3zM1821 928.5h3v8.4h-3zM1828.1 890.7h3v9.6h-3z" fill="#f62222"/>
<path d="M247 83.1h3v2.6h-3zM247 107.3h3v2.6h-3zM247 131.5h3v2.6h-3zM247 155.7h3v2.6h-3zM247 179.9h3v2.6h-3zM247 204.1h3v2.6h-3zM247 228.3h3v2.6h-3zM247 252.5h3v2.6h-3zM247 276.7h3v2.6h-3zM247 300.9h3v2.6h-3zM247 325.1h3v2.6h-3zM247 349.3h3v2.6h-3zM247 373.5h3v2.6h-3zM247 397.7h3v2.6h-3zM247 421.9h3v2.6h-3zM247 446.1h3v2.6h-3zM247 470.3h3v2.6h-3zM247 494.5h3v2.6h-3zM247 518.7h3v2.6h-3zM247 542.9h3v2.6h-3zM247 567.1h3v2.6h-3zM247 591.3h3v2.6h-3zM247 615.5h3v2.6h-3zM247 639.7h3v2.6h-3zM247 663.9h3v2.6h-3zM247 688.1h3v2.6h-3zM247 712.3h3v2.6h-3zM247 736.5h3v2.6h-3zM247 760.7h3v2.6h-3zM247 784.9h3v2.6h-3zM247 809.1h3v2.6h-3zM247 833.3h3v2.6h-3zM247 857.5h3v2.6h-3zM247 881.7h3v2.6h-3zM247 905.9h3v2.6h-3zM247 930.1h3v2.6h-3zM247 954.3h3v2.6h-3zM247 978.5h3v2.6h-3zM247 1002.7h3v2.6h-3zM247 61.2h3v2.6h-3zM247 66h3v2.6h-3zM247 71.2h3v2.6h-3zM247 1020h3v2.6h-3zM247 1015h3v2.6h-3zM424.5 83.1h3v2.6h-3zM424.5 107.3h3v2.6h-3zM424.5 131.5h3v2.6h-3zM424.5 155.7h3v2.6h-3zM424.5 179.9h3v2.6h-3zM424.5 204.1h3v2.6h-3zM424.5 228.3h3v2.6h-3zM424.5 252.5h3v2.6h-3zM424.5 276.7h3v2.6h-3zM424.5 300.9h3v2.6h-3zM424.5 325.1h3v2.6h-3zM424.5 349.3h3v2.6h-3zM424.5 373.5h3v2.6h-3zM424.5 397.7h3v2.6h-3zM424.5 421.9h3v2.6h-3zM424.5 446.1h3v2.6h-3zM424.5 470.3h3v2.6h-3zM424.5 494.5h3v2.6h-3zM424.5 518.7h3v2.6h-3zM424.5 542.9h3v2.6h-3zM424.5 567.1h3v2.6h-3zM424.5 591.3h3v2.6h-3zM424.5 615.5h3v2.6h-3zM424.5 639.7h3v2.6h-3zM424.5 663.9h3v2.6h-3zM424.5 688.1h3v2.6h-3zM424.5 712.3h3v2.6h-3zM424.5 736.5h3v2.6h-3zM424.5 760.7h3v2.6h-3zM424.5 784.9h3v2.6h-3zM424.5 809.1h3v2.6h-3zM424.5 833.3h3v2.6h-3zM424.5 857.5h3v2.6h-3zM424.5 881.7h3v2.6h-3zM424.5 905.9h3v2.6h-3zM424.5 930.1h3v2.6h-3zM424.5 954.3h3v2.6h-3zM424.5 978.5h3v2.6h-3zM424.5 1002.7h3v2.6h-3zM424.5 61.2h3v2.6h-3zM424.5 66h3v2.6h-3zM424.5 71.2h3v2.6h-3zM424.5 1020h3v2.6h-3zM424.5 1015h3v2.6h-3zM602 83.1h3v2.6h-3zM602 107.3h3v2.6h-3zM602 131.5h3v2.6h-3zM602 155.7h3v2.6h-3zM602 179.9h3v2.6h-3zM602 204.1h3v2.6h-3zM602 228.3h3v2.6h-3zM602 252.5h3v2.6h-3zM602 276.7h3v2.6h-3zM602 300.9h3v2.6h-3zM602 325.1h3v2.6h-3zM602 349.3h3v2.6h-3zM602 373.5h3v2.6h-3zM602 397.7h3v2.6h-3zM602 421.9h3v2.6h-3zM602 446.1h3v2.6h-3zM602 470.3h3v2.6h-3zM602 494.5h3v2.6h-3zM602 518.7h3v2.6h-3zM602 542.9h3v2.6h-3zM602 567.1h3v2.6h-3zM602 591.3h3v2.6h-3zM602 615.5h3v2.6h-3zM602 639.7h3v2.6h-3zM602 663.9h3v2.6h-3zM602 688.1h3v2.6h-3zM602 712.3h3v2.6h-3zM602 736.5h3v2.6h-3zM602 760.7h3v2.6h-3zM602 784.9h3v2.6h-3zM602 809.1h3v2.6h-3zM602 833.3h3v2.6h-3zM602 857.5h3v2.6h-3zM602 881.7h3v2.6h-3zM602 905.9h3v2.6h-3zM602 930.1h3v2.6h-3zM602 954.3h3v2.6h-3zM602 978.5h3v2.6h-3zM602 1002.7h3v2.6h-3zM602 61.2h3v2.6h-3zM602 66h3v2.6h-3zM602 71.2h3v2.6h-3zM602 1020h3v2.6h-3zM602 1015h3v2.6h-3zM779.5 83.1h3v2.6h-3zM779.5 107.3h3v2.6h-3zM779.5 131.5h3v2.6h-3zM779.5 155.7h3v2.6h-3zM779.5 179.9h3v2.6h-3zM779.5 204.1h3v2.6h-3zM779.5 228.3h3v2.6h-3zM779.5 252.5h3v2.6h-3zM779.5 276.7h3v2.6h-3zM779.5 300.9h3v2.6h-3zM779.5 325.1h3v2.6h-3zM779.5 349.3h3v2.6h-3zM779.5 373.5h3v2.6h-3zM779.5 397.7h3v2.6h-3zM779.5 421.9h3v2.6h-3zM779.5 446.1h3v2.6h-3zM779.5 470.3h3v2.6h-3zM779.5 494.5h3v2.6h-3zM779.5 518.7h3v2.6h-3zM779.5 542.9h3v2.6h-3zM779.5 567.1h3v2.6h-3zM779.5 591.3h3v2.6h-3zM779.5 615.5h3v2.6h-3zM779.5 639.7h3v2.6h-3zM779.5 663.9h3v2.6h-3zM779.5 688.1h3v2.6h-3zM779.5 712.3h3v2.6h-3zM779.5 736.5h3v2.6h-3zM779.5 760.7h3v2.6h-3zM779.5 784.9h3v2.6h-3zM779.5 809.1h3v2.6h-3zM779.5 833.3h3v2.6h-3zM779.5 857.5h3v2.6h-3zM779.5 881.7h3v2.6h-3zM779.5 905.9h3v2.6h-3zM779.5 930.1h3v2.6h-3zM779.5 954.3h3v2.6h-3zM779.5 978.5h3v2.6h-3zM779.5 1002.7h3v2.6h-3zM779.5 61.2h3v2.6h-3zM779.5 66h3v2.6h-3zM779.5 71.2h3v2.6h-3zM779.5 1020h3v2.6h-3zM779.5 1015h3v2.6h-3zM1134.5 83.1h3v2.6h-3zM1134.5 107.3h3v2.6h-3zM1134.5 131.5h3v2.6h-3zM1134.5 155.7h3v2.6h-3zM1134.5 179.9h3v2.6h-3zM1134.5 204.1h3v2.6h-3zM1134.5 228.3h3v2.6h-3zM1134.5 252.5h3v2.6h-3zM1134.5 276.7h3v2.6h-3zM1134.5 300.9h3v2.6h-3zM1134.5 325.1h3v2.6h-3zM1134.5 349.3h3v2.6h-3zM1134.5 373.5h3v2.6h-3zM1134.5 397.7h3v2.6h-3zM1134.5 421.9h3v2.6h-3zM1134.5 446.1h3v2.6h-3zM1134.5 470.3h3v2.6h-3zM1134.5 494.5h3v2.6h-3zM1134.5 518.7h3v2.6h-3zM1134.5 542.9h3v2.6h-3zM1134.5 567.1h3v2.6h-3zM1134.5 591.3h3v2.6h-3zM1134.5 615.5h3v2.6h-3zM1134.5 639.7h3v2.6h-3zM1134.5 663.9h3v2.6h-3zM1134.5 688.1h3v2.6h-3zM1134.5 712.3h3v2.6h-3zM1134.5 736.5h3v2.6h-3zM1134.5 760.7h3v2.6h-3zM1134.5 784.9h3v2.6h-3zM1134.5 809.1h3v2.6h-3zM1134.5 833.3h3v2.6h-3zM1134.5 857.5h3v2.6h-3zM1134.5 881.7h3v2.6h-3zM1134.5 905.9h3v2.6h-3zM1134.5 930.1h3v2.6h-3zM1134.5 954.3h3v2.6h-3zM1134.5 978.5h3v2.6h-3zM1134.5 1002.7h3v2.6h-3zM1134.5 61.2h3v2.6h-3zM1134.5 66h3v2.6h-3zM1134.5 71.2h3v2.6h-3zM1134.5 1020h3v2.6h-3zM1134.5 1015h3v2.6h-3zM1312 83.1h3v2.6h-3zM1312 107.3h3v2.6h-3zM1312 131.5h3v2.6h-3zM1312 155.7h3v2.6h-3zM1312 179.9h3v2.6h-3zM1312 204.1h3v2.6h-3zM1312 228.3h3v2.6h-3zM1312 252.5h3v2.6h-3zM1312 276.7h3v2.6h-3zM1312 300.9h3v2.6h-3zM1312 325.1h3v2.6h-3zM1312 349.3h3v2.6h-3zM1312 373.5h3v2.6h-3zM1312 397.7h3v2.6h-3zM1312 421.9h3v2.6h-3zM1312 446.1h3v2.6h-3zM1312 470.3h3v2.6h-3zM1312 494.5h3v2.6h-3zM1312 518.7h3v2.6h-3zM1312 542.9h3v2.6h-3zM1312 567.1h3v2.6h-3zM1312 591.3h3v2.6h-3zM1312 615.5h3v2.6h-3zM1312 639.7h3v2.6h-3zM1312 663.9h3v2.6h-3zM1312 688.1h3v2.6h-3zM1312 712.3h3v2.6h-3zM1312 736.5h3v2.6h-3zM1312 760.7h3v2.6h-3zM1312 784.9h3v2.6h-3zM1312 809.1h3v2.6h-3zM1312 833.3h3v2.6h-3zM1312 857.5h3v2.6h-3zM1312 881.7h3v2.6h-3zM1312 905.9h3v2.6h-3zM1312 930.1h3v2.6h-3zM1312 954.3h3v2.6h-3zM1312 978.5h3v2.6h-3zM1312 1002.7h3v2.6h-3zM1312 61.2h3v2.6h-3zM1312 66h3v2.6h-3zM1312 71.2h3v2.6h-3zM1312 1020h3v2.6h-3zM1312 1015h3v2.6h-3zM1489.5 83.1h3v2.6h-3zM1489.5 107.3h3v2.6h-3zM1489.5 131.5h3v2.6h-3zM1489.5 155.7h3v2.6h-3zM1489.5 179.9h3v2.6h-3zM1489.5 204.1h3v2.6h-3zM1489.5 228.3h3v2.6h-3zM1489.5 252.5h3v2.6h-3zM1489.5 276.7h3v2.6h-3zM1489.5 300.9h3v2.6h-3zM1489.5 325.1h3v2.6h-3zM1489.5 349.3h3v2.6h-3zM1489.5 373.5h3v2.6h-3zM1489.5 397.7h3v2.6h-3zM1489.5 421.9h3v2.6h-3zM1489.5 446.1h3v2.6h-3zM1489.5 470.3h3v2.6h-3zM1489.5 494.5h3v2.6h-3zM1489.5 518.7h3v2.6h-3zM1489.5 542.9h3v2.6h-3zM1489.5 567.1h3v2.6h-3zM1489.5 591.3h3v2.6h-3zM1489.5 615.5h3v2.6h-3zM1489.5 639.7h3v2.6h-3zM1489.5 663.9h3v2.6h-3zM1489.5 688.1h3v2.6h-3zM1489.5 712.3h3v2.6h-3zM1489.5 736.5h3v2.6h-3zM1489.5 760.7h3v2.6h-3zM1489.5 784.9h3v2.6h-3zM1489.5 809.1h3v2.6h-3zM1489.5 833.3h3v2.6h-3zM1489.5 857.5h3v2.6h-3zM1489.5 881.7h3v2.6h-3zM1489.5 905.9h3v2.6h-3zM1489.5 930.1h3v2.6h-3zM1489.5 954.3h3v2.6h-3zM1489.5 978.5h3v2.6h-3zM1489.5 1002.7h3v2.6h-3zM1489.5 61.2h3v2.6h-3zM1489.5 66h3v2.6h-3zM1489.5 71.2h3v2.6h-3zM1489.5 1020h3v2.6h-3zM1489.5 1015h3v2.6h-3zM1667 83.1h3v2.6h-3zM1667 107.3h3v2.6h-3zM1667 131.5h3v2.6h-3zM1667 155.7h3v2.6h-3zM1667 179.9h3v2.6h-3zM1667 204.1h3v2.6h-3zM1667 228.3h3v2.6h-3zM1667 252.5h3v2.6h-3zM1667 276.7h3v2.6h-3zM1667 300.9h3v2.6h-3zM1667 325.1h3v2.6h-3zM1667 349.3h3v2.6h-3zM1667 373.5h3v2.6h-3zM1667 397.7h3v2.6h-3zM1667 421.9h3v2.6h-3zM1667 446.1h3v2.6h-3zM1667 470.3h3v2.6h-3zM1667 494.5h3v2.6h-3zM1667 518.7h3v2.6h-3zM1667 542.9h3v2.6h-3zM1667 567.1h3v2.6h-3zM1667 591.3h3v2.6h-3zM1667 615.5h3v2.6h-3zM1667 639.7h3v2.6h-3zM1667 663.9h3v2.6h-3zM1667 688.1h3v2.6h-3zM1667 712.3h3v2.6h-3zM1667 736.5h3v2.6h-3zM1667 760.7h3v2.6h-3zM1667 784.9h3v2.6h-3zM1667 809.1h3v2.6h-3zM1667 833.3h3v2.6h-3zM1667 857.5h3v2.6h-3zM1667 881.7h3v2.6h-3zM1667 905.9h3v2.6h-3zM1667 930.1h3v2.6h-3zM1667 954.3h3v2.6h-3zM1667 978.5h3v2.6h-3zM1667 1002.7h3v2.6h-3zM1667 61.2h3v2.6h-3zM1667 66h3v2.6h-3zM1667 71.2h3v2.6h-3zM1667 1020h3v2.6h-3zM1667 1015h3v2.6h-3zM105 179.9h3v2.6h-3zM140.5 179.9h3v2.6h-3zM176 179.9h3v2.6h-3zM211.5 179.9h3v2.6h-3zM247 179.9h3v2.6h-3zM282.5 179.9h3v2.6h-3zM318 179.9h3v2.6h-3zM353.5 179.9h3v2.6h-3zM389 179.9h3v2.6h-3zM424.5 179.9h3v2.6h-3zM460 179.9h3v2.6h-3zM495.5 179.9h3v2.6h-3zM531 179.9h3v2.6h-3zM566.5 179.9h3v2.6h-3zM602 179.9h3v2.6h-3zM637.5 179.9h3v2.6h-3zM673 179.9h3v2.6h-3zM708.5 179.9h3v2.6h-3zM744 179.9h3v2.6h-3zM779.5 179.9h3v2.6h-3zM815 179.9h3v2.6h-3zM850.5 179.9h3v2.6h-3zM886 179.9h3v2.6h-3zM921.5 179.9h3v2.6h-3zM957 179.9h3v2.6h-3zM992.5 179.9h3v2.6h-3zM1028 179.9h3v2.6h-3zM1063.5 179.9h3v2.6h-3zM1099 179.9h3v2.6h-3zM1134.5 179.9h3v2.6h-3zM1170 179.9h3v2.6h-3zM1205.5 179.9h3v2.6h-3zM1241 179.9h3v2.6h-3zM1276.5 179.9h3v2.6h-3zM1312 179.9h3v2.6h-3zM1347.5 179.9h3v2.6h-3zM1383 179.9h3v2.6h-3zM1418.5 179.9h3v2.6h-3zM1454 179.9h3v2.6h-3zM1489.5 179.9h3v2.6h-3zM1525 179.9h3v2.6h-3zM1560.5 179.9h3v2.6h-3zM1596 179.9h3v2.6h-3zM1631.5 179.9h3v2.6h-3zM1667 179.9h3v2.6h-3zM1702.5 179.9h3v2.6h-3zM1738 179.9h3v2.6h-3zM1773.5 179.9h3v2.6h-3zM1809 179.9h3v2.6h-3zM105 300.9h3v2.6h-3zM140.5 300.9h3v2.6h-3zM176 300.9h3v2.6h-3zM211.5 300.9h3v2.6h-3zM247 300.9h3v2.6h-3zM282.5 300.9h3v2.6h-3zM318 300.9h3v2.6h-3zM353.5 300.9h3v2.6h-3zM389 300.9h3v2.6h-3zM424.5 300.9h3v2.6h-3zM460 300.9h3v2.6h-3zM495.5 300.9h3v2.6h-3zM531 300.9h3v2.6h-3zM566.5 300.9h3v2.6h-3zM602 300.9h3v2.6h-3zM637.5 300.9h3v2.6h-3zM673 300.9h3v2.6h-3zM708.5 300.9h3v2.6h-3zM744 300.9h3v2.6h-3zM779.5 300.9h3v2.6h-3zM815 300.9h3v2.6h-3zM850.5 300.9h3v2.6h-3zM886 300.9h3v2.6h-3zM921.5 300.9h3v2.6h-3zM957 300.9h3v2.6h-3zM992.5 300.9h3v2.6h-3zM1028 300.9h3v2.6h-3zM1063.5 300.9h3v2.6h-3zM1099 300.9h3v2.6h-3zM1134.5 300.9h3v2.6h-3zM1170 300.9h3v2.6h-3zM1205.5 300.9h3v2.6h-3zM1241 300.9h3v2.6h-3zM1276.5 300.9h3v2.6h-3zM1312 300.9h3v2.6h-3zM1347.5 300.9h3v2.6h-3zM1383 300.9h3v2.6h-3zM1418.5 300.9h3v2.6h-3zM1454 300.9h3v2.6h-3zM1489.5 300.9h3v2.6h-3zM1525 300.9h3v2.6h-3zM1560.5 300.9h3v2.6h-3zM1596 300.9h3v2.6h-3zM1631.5 300.9h3v2.6h-3zM1667 300.9h3v2.6h-3zM1702.5 300.9h3v2.6h-3zM1738 300.9h3v2.6h-3zM1773.5 300.9h3v2.6h-3zM1809 300.9h3v2.6h-3zM105 421.9h3v2.6h-3zM140.5 421.9h3v2.6h-3zM176 421.9h3v2.6h-3zM211.5 421.9h3v2.6h-3zM247 421.9h3v2.6h-3zM282.5 421.9h3v2.6h-3zM318 421.9h3v2.6h-3zM353.5 421.9h3v2.6h-3zM389 421.9h3v2.6h-3zM424.5 421.9h3v2.6h-3zM460 421.9h3v2.6h-3zM495.5 421.9h3v2.6h-3zM531 421.9h3v2.6h-3zM566.5 421.9h3v2.6h-3zM602 421.9h3v2.6h-3zM637.5 421.9h3v2.6h-3zM673 421.9h3v2.6h-3zM708.5 421.9h3v2.6h-3zM744 421.9h3v2.6h-3zM779.5 421.9h3v2.6h-3zM815 421.9h3v2.6h-3zM850.5 421.9h3v2.6h-3zM886 421.9h3v2.6h-3zM921.5 421.9h3v2.6h-3zM957 421.9h3v2.6h-3zM992.5 421.9h3v2.6h-3zM1028 421.9h3v2.6h-3zM1063.5 421.9h3v2.6h-3zM1099 421.9h3v2.6h-3zM1134.5 421.9h3v2.6h-3zM1170 421.9h3v2.6h-3zM1205.5 421.9h3v2.6h-3zM1241 421.9h3v2.6h-3zM1276.5 421.9h3v2.6h-3zM1312 421.9h3v2.6h-3zM1347.5 421.9h3v2.6h-3zM1383 421.9h3v2.6h-3zM1418.5 421.9h3v2.6h-3zM1454 421.9h3v2.6h-3zM1489.5 421.9h3v2.6h-3zM1525 421.9h3v2.6h-3zM1560.5 421.9h3v2.6h-3zM1596 421.9h3v2.6h-3zM1631.5 421.9h3v2.6h-3zM1667 421.9h3v2.6h-3zM1702.5 421.9h3v2.6h-3zM1738 421.9h3v2.6h-3zM1773.5 421.9h3v2.6h-3zM1809 421.9h3v2.6h-3zM105 663.9h3v2.6h-3zM140.5 663.9h3v2.6h-3zM176 663.9h3v2.6h-3zM211.5 663.9h3v2.6h-3zM247 663.9h3v2.6h-3zM282.5 663.9h3v2.6h-3zM318 663.9h3v2.6h-3zM353.5 663.9h3v2.6h-3zM389 663.9h3v2.6h-3zM424.5 663.9h3v2.6h-3zM460 663.9h3v2.6h-3zM495.5 663.9h3v2.6h-3zM531 663.9h3v2.6h-3zM566.5 663.9h3v2.6h-3zM602 663.9h3v2.6h-3zM637.5 663.9h3v2.6h-3zM673 663.9h3v2.6h-3zM708.5 663.9h3v2.6h-3zM744 663.9h3v2.6h-3zM779.5 663.9h3v2.6h-3zM815 663.9h3v2.6h-3zM850.5 663.9h3v2.6h-3zM886 663.9h3v2.6h-3zM921.5 663.9h3v2.6h-3zM957 663.9h3v2.6h-3zM992.5 663.9h3v2.6h-3zM1028 663.9h3v2.6h-3zM1063.5 663.9h3v2.6h-3zM1099 663.9h3v2.6h-3zM1134.5 663.9h3v2.6h-3zM1170 663.9h3v2.6h-3zM1205.5 663.9h3v2.6h-3zM1241 663.9h3v2.6h-3zM1276.5 663.9h3v2.6h-3zM1312 663.9h3v2.6h-3zM1347.5 663.9h3v2.6h-3zM1383 663.9h3v2.6h-3zM1418.5 663.9h3v2.6h-3zM1454 663.9h3v2.6h-3zM1489.5 663.9h3v2.6h-3zM1525 663.9h3v2.6h-3zM1560.5 663.9h3v2.6h-3zM1596 663.9h3v2.6h-3zM1631.5 663.9h3v2.6h-3zM1667 663.9h3v2.6h-3zM1702.5 663.9h3v2.6h-3zM1738 663.9h3v2.6h-3zM1773.5 663.9h3v2.6h-3zM1809 663.9h3v2.6h-3zM105 784.9h3v2.6h-3zM140.5 784.9h3v2.6h-3zM176 784.9h3v2.6h-3zM211.5 784.9h3v2.6h-3zM247 784.9h3v2.6h-3zM282.5 784.9h3v2.6h-3zM318 784.9h3v2.6h-3zM353.5 784.9h3v2.6h-3zM389 784.9h3v2.6h-3zM424.5 784.9h3v2.6h-3zM460 784.9h3v2.6h-3zM495.5 784.9h3v2.6h-3zM531 784.9h3v2.6h-3zM566.5 784.9h3v2.6h-3zM602 784.9h3v2.6h-3zM637.5 784.9h3v2.6h-3zM673 784.9h3v2.6h-3zM708.5 784.9h3v2.6h-3zM744 784.9h3v2.6h-3zM779.5 784.9h3v2.6h-3zM815 784.9h3v2.6h-3zM850.5 784.9h3v2.6h-3zM886 784.9h3v2.6h-3zM921.5 784.9h3v2.6h-3zM957 784.9h3v2.6h-3zM992.5 784.9h3v2.6h-3zM1028 784.9h3v2.6h-3zM1063.5 784.9h3v2.6h-3zM1099 784.9h3v2.6h-3zM1134.5 784.9h3v2.6h-3zM1170 784.9h3v2.6h-3zM1205.5 784.9h3v2.6h-3zM1241 784.9h3v2.6h-3zM1276.5 784.9h3v2.6h-3zM1312 784.9h3v2.6h-3zM1347.5 784.9h3v2.6h-3zM1383 784.9h3v2.6h-3zM1418.5 784.9h3v2.6h-3zM1454 784.9h3v2.6h-3zM1489.5 784.9h3v2.6h-3zM1525 784.9h3v2.6h-3zM1560.5 784.9h3v2.6h-3zM1596 784.9h3v2.6h-3zM1631.5 784.9h3v2.6h-3zM1667 784.9h3v2.6h-3zM1702.5 784.9h3v2.6h-3zM1738 784.9h3v2.6h-3zM1773.5 784.9h3v2.6h-3zM1809 784.9h3v2.6h-3zM105 905.9h3v2.6h-3zM140.5 905.9h3v2.6h-3zM176 905.9h3v2.6h-3zM211.5 905.9h3v2.6h-3zM247 905.9h3v2.6h-3zM282.5 905.9h3v2.6h-3zM318 905.9h3v2.6h-3zM353.5 905.9h3v2.6h-3zM389 905.9h3v2.6h-3zM424.5 905.9h3v2.6h-3zM460 905.9h3v2.6h-3zM495.5 905.9h3v2.6h-3zM531 905.9h3v2.6h-3zM566.5 905.9h3v2.6h-3zM602 905.9h3v2.6h-3zM637.5 905.9h3v2.6h-3zM673 905.9h3v2.6h-3zM708.5 905.9h3v2.6h-3zM744 905.9h3v2.6h-3zM779.5 905.9h3v2.6h-3zM815 905.9h3v2.6h-3zM850.5 905.9h3v2.6h-3zM886 905.9h3v2.6h-3zM921.5 905.9h3v2.6h-3zM957 905.9h3v2.6h-3zM992.5 905.9h3v2.6h-3zM1028 905.9h3v2.6h-3zM1063.5 905.9h3v2.6h-3zM1099 905.9h3v2.6h-3zM1134.5 905.9h3v2.6h-3zM1170 905.9h3v2.6h-3zM1205.5 905.9h3v2.6h-3zM1241 905.9h3v2.6h-3zM1276.5 905.9h3v2.6h-3zM1312 905.9h3v2.6h-3zM1347.5 905.9h3v2.6h-3zM1383 905.9h3v2.6h-3zM1418.5 905.9h3v2.6h-3zM1454 905.9h3v2.6h-3zM1489.5 905.9h3v2.6h-3zM1525 905.9h3v2.6h-3zM1560.5 905.9h3v2.6h-3zM1596 905.9h3v2.6h-3zM1631.5 905.9h3v2.6h-3zM1667 905.9h3v2.6h-3zM1702.5 905.9h3v2.6h-3zM1738 905.9h3v2.6h-3zM1773.5 905.9h3v2.6h-3zM1809 905.9h3v2.6h-3zM105 59.1h3v2.6h-3zM105 63.9h3v2.6h-3zM105 1020h3v2.6h-3zM140.5 59.1h3v2.6h-3zM140.5 63.9h3v2.6h-3zM140.5 1020h3v2.6h-3zM176 59.1h3v2.6h-3zM176 63.9h3v2.6h-3zM176 1020h3v2.6h-3zM211.5 59.1h3v2.6h-3zM211.5 63.9h3v2.6h-3zM211.5 1020h3v2.6h-3zM282.5 59.1h3v2.6h-3zM282.5 63.9h3v2.6h-3zM282.5 1020h3v2.6h-3zM318 59.1h3v2.6h-3zM318 63.9h3v2.6h-3zM318 1020h3v2.6h-3zM353.5 59.1h3v2.6h-3zM353.5 63.9h3v2.6h-3zM353.5 1020h3v2.6h-3zM389 59.1h3v2.6h-3zM389 63.9h3v2.6h-3zM389 1020h3v2.6h-3zM460 59.1h3v2.6h-3zM460 63.9h3v2.6h-3zM460 1020h3v2.6h-3zM495.5 59.1h3v2.6h-3zM495.5 63.9h3v2.6h-3zM495.5 1020h3v2.6h-3zM531 59.1h3v2.6h-3zM531 63.9h3v2.6h-3zM531 1020h3v2.6h-3zM566.5 59.1h3v2.6h-3zM566.5 63.9h3v2.6h-3zM566.5 1020h3v2.6h-3zM637.5 59.1h3v2.6h-3zM637.5 63.9h3v2.6h-3zM637.5 1020h3v2.6h-3zM673 59.1h3v2.6h-3zM673 63.9h3v2.6h-3zM673 1020h3v2.6h-3zM708.5 59.1h3v2.6h-3zM708.5 63.9h3v2.6h-3zM708.5 1020h3v2.6h-3zM744 59.1h3v2.6h-3zM744 63.9h3v2.6h-3zM744 1020h3v2.6h-3zM815 59.1h3v2.6h-3zM815 63.9h3v2.6h-3zM815 1020h3v2.6h-3zM850.5 59.1h3v2.6h-3zM850.5 63.9h3v2.6h-3zM850.5 1020h3v2.6h-3zM886 59.1h3v2.6h-3zM886 63.9h3v2.6h-3zM886 1020h3v2.6h-3zM921.5 59.1h3v2.6h-3zM921.5 63.9h3v2.6h-3zM921.5 1020h3v2.6h-3zM992.5 59.1h3v2.6h-3zM992.5 63.9h3v2.6h-3zM992.5 1020h3v2.6h-3zM1028 59.1h3v2.6h-3zM1028 63.9h3v2.6h-3zM1028 1020h3v2.6h-3zM1063.5 59.1h3v2.6h-3zM1063.5 63.9h3v2.6h-3zM1063.5 1020h3v2.6h-3zM1099 59.1h3v2.6h-3zM1099 63.9h3v2.6h-3zM1099 1020h3v2.6h-3zM1170 59.1h3v2.6h-3zM1170 63.9h3v2.6h-3zM1170 1020h3v2.6h-3zM1205.5 59.1h3v2.6h-3zM1205.5 63.9h3v2.6h-3zM1205.5 1020h3v2.6h-3zM1241 59.1h3v2.6h-3zM1241 63.9h3v2.6h-3zM1241 1020h3v2.6h-3zM1276.5 59.1h3v2.6h-3zM1276.5 63.9h3v2.6h-3zM1276.5 1020h3v2.6h-3zM1347.5 59.1h3v2.6h-3zM1347.5 63.9h3v2.6h-3zM1347.5 1020h3v2.6h-3zM1383 59.1h3v2.6h-3zM1383 63.9h3v2.6h-3zM1383 1020h3v2.6h-3zM1418.5 59.1h3v2.6h-3zM1418.5 63.9h3v2.6h-3zM1418.5 1020h3v2.6h-3zM1454 59.1h3v2.6h-3zM1454 63.9h3v2.6h-3zM1454 1020h3v2.6h-3zM1525 59.1h3v2.6h-3zM1525 63.9h3v2.6h-3zM1525 1020h3v2.6h-3zM1560.5 59.1h3v2.6h-3zM1560.5 63.9h3v2.6h-3zM1560.5 1020h3v2.6h-3zM1596 59.1h3v2.6h-3zM1596 63.9h3v2.6h-3zM1596 1020h3v2.6h-3zM1631.5 59.1h3v2.6h-3zM1631.5 63.9h3v2.6h-3zM1631.5 1020h3v2.6h-3zM1702.5 59.1h3v2.6h-3zM1702.5 63.9h3v2.6h-3zM1702.5 1020h3v2.6h-3zM1738 59.1h3v2.6h-3zM1738 63.9h3v2.6h-3zM1738 1020h3v2.6h-3zM1773.5 59.1h3v2.6h-3zM1773.5 63.9h3v2.6h-3zM1773.5 1020h3v2.6h-3zM1809 59.1h3v2.6h-3zM1809 63.9h3v2.6h-3zM1809 1020h3v2.6h-3zM74 83.1h3v2.6h-3zM1838 83.1h3v2.6h-3zM74 107.3h3v2.6h-3zM1838 107.3h3v2.6h-3zM74 131.5h3v2.6h-3zM1838 131.5h3v2.6h-3zM74 155.7h3v2.6h-3zM1838 155.7h3v2.6h-3zM74 179.9h3v2.6h-3zM1838 179.9h3v2.6h-3zM77.5 179.9h3v2.6h-3zM81 179.9h3v2.6h-3zM1834.5 179.9h3v2.6h-3zM1831 179.9h3v2.6h-3zM74 204.1h3v2.6h-3zM1838 204.1h3v2.6h-3zM74 228.3h3v2.6h-3zM1838 228.3h3v2.6h-3zM74 252.5h3v2.6h-3zM1838 252.5h3v2.6h-3zM74 276.7h3v2.6h-3zM1838 276.7h3v2.6h-3zM74 300.9h3v2.6h-3zM1838 300.9h3v2.6h-3zM77.5 300.9h3v2.6h-3zM81 300.9h3v2.6h-3zM1834.5 300.9h3v2.6h-3zM1831 300.9h3v2.6h-3zM74 325.1h3v2.6h-3zM1838 325.1h3v2.6h-3zM74 349.3h3v2.6h-3zM1838 349.3h3v2.6h-3zM74 373.5h3v2.6h-3zM1838 373.5h3v2.6h-3zM74 397.7h3v2.6h-3zM1838 397.7h3v2.6h-3zM74 421.9h3v2.6h-3zM1838 421.9h3v2.6h-3zM77.5 421.9h3v2.6h-3zM81 421.9h3v2.6h-3zM1834.5 421.9h3v2.6h-3zM1831 421.9h3v2.6h-3zM74 446.1h3v2.6h-3zM1838 446.1h3v2.6h-3zM74 470.3h3v2.6h-3zM1838 470.3h3v2.6h-3zM74 494.5h3v2.6h-3zM1838 494.5h3v2.6h-3zM74 518.7h3v2.6h-3zM1838 518.7h3v2.6h-3zM74 542.9h3v2.6h-3zM1838 542.9h3v2.6h-3zM77.5 542.9h3v2.6h-3zM81 542.9h3v2.6h-3zM1834.5 542.9h3v2.6h-3zM1831 542.9h3v2.6h-3zM74 567.1h3v2.6h-3zM1838 567.1h3v2.6h-3zM74 591.3h3v2.6h-3zM1838 591.3h3v2.6h-3zM74 615.5h3v2.6h-3zM1838 615.5h3v2.6h-3zM74 639.7h3v2.6h-3zM1838 639.7h3v2.6h-3zM74 663.9h3v2.6h-3zM1838 663.9h3v2.6h-3zM77.5 663.9h3v2.6h-3zM81 663.9h3v2.6h-3zM1834.5 663.9h3v2.6h-3zM1831 663.9h3v2.6h-3zM74 688.1h3v2.6h-3zM1838 688.1h3v2.6h-3zM74 712.3h3v2.6h-3zM1838 712.3h3v2.6h-3zM74 736.5h3v2.6h-3zM1838 736.5h3v2.6h-3zM74 760.7h3v2.6h-3zM1838 760.7h3v2.6h-3zM74 784.9h3v2.6h-3zM1838 784.9h3v2.6h-3zM77.5 784.9h3v2.6h-3zM81 784.9h3v2.6h-3zM1834.5 784.9h3v2.6h-3zM1831 784.9h3v2.6h-3zM74 809.1h3v2.6h-3zM1838 809.1h3v2.6h-3zM74 833.3h3v2.6h-3zM1838 833.3h3v2.6h-3zM74 857.5h3v2.6h-3zM1838 857.5h3v2.6h-3zM74 881.7h3v2.6h-3zM1838 881.7h3v2.6h-3zM74 905.9h3v2.6h-3zM1838 905.9h3v2.6h-3zM77.5 905.9h3v2.6h-3zM81 905.9h3v2.6h-3zM1834.5 905.9h3v2.6h-3zM1831 905.9h3v2.6h-3zM74 930.1h3v2.6h-3zM1838 930.1h3v2.6h-3zM74 954.3h3v2.6h-3zM1838 954.3h3v2.6h-3zM74 978.5h3v2.6h-3zM1838 978.5h3v2.6h-3zM74 1002.7h3v2.6h-3zM1838 1002.7h3v2.6h-3z" fill="#1e1e1e" opacity="0.95"/><path d="M949.9 83.1h3v2.6h-3zM953.5 83.1h3v2.6h-3zM960.5 83.1h3v2.6h-3zM964.1 83.1h3v2.6h-3zM949.9 107.3h3v2.6h-3zM953.5 107.3h3v2.6h-3zM960.5 107.3h3v2.6h-3zM964.1 107.3h3v2.6h-3zM949.9 131.5h3v2.6h-3zM953.5 131.5h3v2.6h-3zM960.5 131.5h3v2.6h-3zM964.1 131.5h3v2.6h-3zM949.9 155.7h3v2.6h-3zM953.5 155.7h3v2.6h-3zM960.5 155.7h3v2.6h-3zM964.1 155.7h3v2.6h-3zM942.8 179.9h3v2.6h-3zM946.4 179.9h3v2.6h-3zM949.9 179.9h3v2.6h-3zM953.5 179.9h3v2.6h-3zM960.5 179.9h3v2.6h-3zM964.1 179.9h3v2.6h-3zM967.6 179.9h3v2.6h-3zM971.2 179.9h3v2.6h-3zM949.9 204.1h3v2.6h-3zM953.5 204.1h3v2.6h-3zM960.5 204.1h3v2.6h-3zM964.1 204.1h3v2.6h-3zM949.9 228.3h3v2.6h-3zM953.5 228.3h3v2.6h-3zM960.5 228.3h3v2.6h-3zM964.1 228.3h3v2.6h-3zM949.9 252.5h3v2.6h-3zM953.5 252.5h3v2.6h-3zM960.5 252.5h3v2.6h-3zM964.1 252.5h3v2.6h-3zM949.9 276.7h3v2.6h-3zM953.5 276.7h3v2.6h-3zM960.5 276.7h3v2.6h-3zM964.1 276.7h3v2.6h-3zM942.8 300.9h3v2.6h-3zM946.4 300.9h3v2.6h-3zM949.9 300.9h3v2.6h-3zM953.5 300.9h3v2.6h-3zM960.5 300.9h3v2.6h-3zM964.1 300.9h3v2.6h-3zM967.6 300.9h3v2.6h-3zM971.2 300.9h3v2.6h-3zM949.9 325.1h3v2.6h-3zM953.5 325.1h3v2.6h-3zM960.5 325.1h3v2.6h-3zM964.1 325.1h3v2.6h-3zM949.9 349.3h3v2.6h-3zM953.5 349.3h3v2.6h-3zM960.5 349.3h3v2.6h-3zM964.1 349.3h3v2.6h-3zM949.9 373.5h3v2.6h-3zM953.5 373.5h3v2.6h-3zM960.5 373.5h3v2.6h-3zM964.1 373.5h3v2.6h-3zM949.9 397.7h3v2.6h-3zM953.5 397.7h3v2.6h-3zM960.5 397.7h3v2.6h-3zM964.1 397.7h3v2.6h-3zM942.8 421.9h3v2.6h-3zM946.4 421.9h3v2.6h-3zM949.9 421.9h3v2.6h-3zM953.5 421.9h3v2.6h-3zM960.5 421.9h3v2.6h-3zM964.1 421.9h3v2.6h-3zM967.6 421.9h3v2.6h-3zM971.2 421.9h3v2.6h-3zM949.9 446.1h3v2.6h-3zM953.5 446.1h3v2.6h-3zM960.5 446.1h3v2.6h-3zM964.1 446.1h3v2.6h-3zM949.9 470.3h3v2.6h-3zM953.5 470.3h3v2.6h-3zM960.5 470.3h3v2.6h-3zM964.1 470.3h3v2.6h-3zM949.9 494.5h3v2.6h-3zM953.5 494.5h3v2.6h-3zM960.5 494.5h3v2.6h-3zM964.1 494.5h3v2.6h-3zM949.9 518.7h3v2.6h-3zM953.5 518.7h3v2.6h-3zM960.5 518.7h3v2.6h-3zM964.1 518.7h3v2.6h-3zM942.8 542.9h3v2.6h-3zM946.4 542.9h3v2.6h-3zM949.9 542.9h3v2.6h-3zM953.5 542.9h3v2.6h-3zM960.5 542.9h3v2.6h-3zM964.1 542.9h3v2.6h-3zM967.6 542.9h3v2.6h-3zM971.2 542.9h3v2.6h-3zM949.9 567.1h3v2.6h-3zM953.5 567.1h3v2.6h-3zM960.5 567.1h3v2.6h-3zM964.1 567.1h3v2.6h-3zM949.9 591.3h3v2.6h-3zM953.5 591.3h3v2.6h-3zM960.5 591.3h3v2.6h-3zM964.1 591.3h3v2.6h-3zM949.9 615.5h3v2.6h-3zM953.5 615.5h3v2.6h-3zM960.5 615.5h3v2.6h-3zM964.1 615.5h3v2.6h-3zM949.9 639.7h3v2.6h-3zM953.5 639.7h3v2.6h-3zM960.5 639.7h3v2.6h-3zM964.1 639.7h3v2.6h-3zM942.8 663.9h3v2.6h-3zM946.4 663.9h3v2.6h-3zM949.9 663.9h3v2.6h-3zM953.5 663.9h3v2.6h-3zM960.5 663.9h3v2.6h-3zM964.1 663.9h3v2.6h-3zM967.6 663.9h3v2.6h-3zM971.2 663.9h3v2.6h-3zM949.9 688.1h3v2.6h-3zM953.5 688.1h3v2.6h-3zM960.5 688.1h3v2.6h-3zM964.1 688.1h3v2.6h-3zM949.9 712.3h3v2.6h-3zM953.5 712.3h3v2.6h-3zM960.5 712.3h3v2.6h-3zM964.1 712.3h3v2.6h-3zM949.9 736.5h3v2.6h-3zM953.5 736.5h3v2.6h-3zM960.5 736.5h3v2.6h-3zM964.1 736.5h3v2.6h-3zM949.9 760.7h3v2.6h-3zM953.5 760.7h3v2.6h-3zM960.5 760.7h3v2.6h-3zM964.1 760.7h3v2.6h-3zM942.8 784.9h3v2.6h-3zM946.4 784.9h3v2.6h-3zM949.9 784.9h3v2.6h-3zM953.5 784.9h3v2.6h-3zM960.5 784.9h3v2.6h-3zM964.1 784.9h3v2.6h-3zM967.6 784.9h3v2.6h-3zM971.2 784.9h3v2.6h-3zM949.9 809.1h3v2.6h-3zM953.5 809.1h3v2.6h-3zM960.5 809.1h3v2.6h-3zM964.1 809.1h3v2.6h-3zM949.9 833.3h3v2.6h-3zM953.5 833.3h3v2.6h-3zM960.5 833.3h3v2.6h-3zM964.1 833.3h3v2.6h-3zM949.9 857.5h3v2.6h-3zM953.5 857.5h3v2.6h-3zM960.5 857.5h3v2.6h-3zM964.1 857.5h3v2.6h-3zM949.9 881.7h3v2.6h-3zM953.5 881.7h3v2.6h-3zM960.5 881.7h3v2.6h-3zM964.1 881.7h3v2.6h-3zM942.8 905.9h3v2.6h-3zM946.4 905.9h3v2.6h-3zM949.9 905.9h3v2.6h-3zM953.5 905.9h3v2.6h-3zM960.5 905.9h3v2.6h-3zM964.1 905.9h3v2.6h-3zM967.6 905.9h3v2.6h-3zM971.2 905.9h3v2.6h-3zM949.9 930.1h3v2.6h-3zM953.5 930.1h3v2.6h-3zM960.5 930.1h3v2.6h-3zM964.1 930.1h3v2.6h-3zM949.9 954.3h3v2.6h-3zM953.5 954.3h3v2.6h-3zM960.5 954.3h3v2.6h-3zM964.1 954.3h3v2.6h-3zM949.9 978.5h3v2.6h-3zM953.5 978.5h3v2.6h-3zM960.5 978.5h3v2.6h-3zM964.1 978.5h3v2.6h-3zM949.9 1002.7h3v2.6h-3zM953.5 1002.7h3v2.6h-3zM960.5 1002.7h3v2.6h-3zM964.1 1002.7h3v2.6h-3zM105 535.6h3v2.6h-3zM105 538h3v2.6h-3zM105 540.5h3v2.6h-3zM105 545.3h3v2.6h-3zM105 547.8h3v2.6h-3zM105 550.2h3v2.6h-3zM140.5 535.6h3v2.6h-3zM140.5 538h3v2.6h-3zM140.5 540.5h3v2.6h-3zM140.5 545.3h3v2.6h-3zM140.5 547.8h3v2.6h-3zM140.5 550.2h3v2.6h-3zM176 535.6h3v2.6h-3zM176 538h3v2.6h-3zM176 540.5h3v2.6h-3zM176 545.3h3v2.6h-3zM176 547.8h3v2.6h-3zM176 550.2h3v2.6h-3zM211.5 535.6h3v2.6h-3zM211.5 538h3v2.6h-3zM211.5 540.5h3v2.6h-3zM211.5 545.3h3v2.6h-3zM211.5 547.8h3v2.6h-3zM211.5 550.2h3v2.6h-3zM247 533.2h3v2.6h-3zM247 535.6h3v2.6h-3zM247 538h3v2.6h-3zM247 540.5h3v2.6h-3zM247 545.3h3v2.6h-3zM247 547.8h3v2.6h-3zM247 550.2h3v2.6h-3zM247 552.6h3v2.6h-3zM282.5 535.6h3v2.6h-3zM282.5 538h3v2.6h-3zM282.5 540.5h3v2.6h-3zM282.5 545.3h3v2.6h-3zM282.5 547.8h3v2.6h-3zM282.5 550.2h3v2.6h-3zM318 535.6h3v2.6h-3zM318 538h3v2.6h-3zM318 540.5h3v2.6h-3zM318 545.3h3v2.6h-3zM318 547.8h3v2.6h-3zM318 550.2h3v2.6h-3zM353.5 535.6h3v2.6h-3zM353.5 538h3v2.6h-3zM353.5 540.5h3v2.6h-3zM353.5 545.3h3v2.6h-3zM353.5 547.8h3v2.6h-3zM353.5 550.2h3v2.6h-3zM389 535.6h3v2.6h-3zM389 538h3v2.6h-3zM389 540.5h3v2.6h-3zM389 545.3h3v2.6h-3zM389 547.8h3v2.6h-3zM389 550.2h3v2.6h-3zM424.5 533.2h3v2.6h-3zM424.5 535.6h3v2.6h-3zM424.5 538h3v2.6h-3zM424.5 540.5h3v2.6h-3zM424.5 545.3h3v2.6h-3zM424.5 547.8h3v2.6h-3zM424.5 550.2h3v2.6h-3zM424.5 552.6h3v2.6h-3zM460 535.6h3v2.6h-3zM460 538h3v2.6h-3zM460 540.5h3v2.6h-3zM460 545.3h3v2.6h-3zM460 547.8h3v2.6h-3zM460 550.2h3v2.6h-3zM495.5 535.6h3v2.6h-3zM495.5 538h3v2.6h-3zM495.5 540.5h3v2.6h-3zM495.5 545.3h3v2.6h-3zM495.5 547.8h3v2.6h-3zM495.5 550.2h3v2.6h-3zM531 535.6h3v2.6h-3zM531 538h3v2.6h-3zM531 540.5h3v2.6h-3zM531 545.3h3v2.6h-3zM531 547.8h3v2.6h-3zM531 550.2h3v2.6h-3zM566.5 535.6h3v2.6h-3zM566.5 538h3v2.6h-3zM566.5 540.5h3v2.6h-3zM566.5 545.3h3v2.6h-3zM566.5 547.8h3v2.6h-3zM566.5 550.2h3v2.6h-3zM602 533.2h3v2.6h-3zM602 535.6h3v2.6h-3zM602 538h3v2.6h-3zM602 540.5h3v2.6h-3zM602 545.3h3v2.6h-3zM602 547.8h3v2.6h-3zM602 550.2h3v2.6h-3zM602 552.6h3v2.6h-3zM637.5 535.6h3v2.6h-3zM637.5 538h3v2.6h-3zM637.5 540.5h3v2.6h-3zM637.5 545.3h3v2.6h-3zM637.5 547.8h3v2.6h-3zM637.5 550.2h3v2.6h-3zM673 535.6h3v2.6h-3zM673 538h3v2.6h-3zM673 540.5h3v2.6h-3zM673 545.3h3v2.6h-3zM673 547.8h3v2.6h-3zM673 550.2h3v2.6h-3zM708.5 535.6h3v2.6h-3zM708.5 538h3v2.6h-3zM708.5 540.5h3v2.6h-3zM708.5 545.3h3v2.6h-3zM708.5 547.8h3v2.6h-3zM708.5 550.2h3v2.6h-3zM744 535.6h3v2.6h-3zM744 538h3v2.6h-3zM744 540.5h3v2.6h-3zM744 545.3h3v2.6h-3zM744 547.8h3v2.6h-3zM744 550.2h3v2.6h-3zM779.5 533.2h3v2.6h-3zM779.5 535.6h3v2.6h-3zM779.5 538h3v2.6h-3zM779.5 540.5h3v2.6h-3zM779.5 545.3h3v2.6h-3zM779.5 547.8h3v2.6h-3zM779.5 550.2h3v2.6h-3zM779.5 552.6h3v2.6h-3zM815 535.6h3v2.6h-3zM815 538h3v2.6h-3zM815 540.5h3v2.6h-3zM815 545.3h3v2.6h-3zM815 547.8h3v2.6h-3zM815 550.2h3v2.6h-3zM850.5 535.6h3v2.6h-3zM850.5 538h3v2.6h-3zM850.5 540.5h3v2.6h-3zM850.5 545.3h3v2.6h-3zM850.5 547.8h3v2.6h-3zM850.5 550.2h3v2.6h-3zM886 535.6h3v2.6h-3zM886 538h3v2.6h-3zM886 540.5h3v2.6h-3zM886 545.3h3v2.6h-3zM886 547.8h3v2.6h-3zM886 550.2h3v2.6h-3zM921.5 535.6h3v2.6h-3zM921.5 538h3v2.6h-3zM921.5 540.5h3v2.6h-3zM921.5 545.3h3v2.6h-3zM921.5 547.8h3v2.6h-3zM921.5 550.2h3v2.6h-3zM957 533.2h3v2.6h-3zM957 535.6h3v2.6h-3zM957 538h3v2.6h-3zM957 540.5h3v2.6h-3zM957 545.3h3v2.6h-3zM957 547.8h3v2.6h-3zM957 550.2h3v2.6h-3zM957 552.6h3v2.6h-3zM992.5 535.6h3v2.6h-3zM992.5 538h3v2.6h-3zM992.5 540.5h3v2.6h-3zM992.5 545.3h3v2.6h-3zM992.5 547.8h3v2.6h-3zM992.5 550.2h3v2.6h-3zM1028 535.6h3v2.6h-3zM1028 538h3v2.6h-3zM1028 540.5h3v2.6h-3zM1028 545.3h3v2.6h-3zM1028 547.8h3v2.6h-3zM1028 550.2h3v2.6h-3zM1063.5 535.6h3v2.6h-3zM1063.5 538h3v2.6h-3zM1063.5 540.5h3v2.6h-3zM1063.5 545.3h3v2.6h-3zM1063.5 547.8h3v2.6h-3zM1063.5 550.2h3v2.6h-3zM1099 535.6h3v2.6h-3zM1099 538h3v2.6h-3zM1099 540.5h3v2.6h-3zM1099 545.3h3v2.6h-3zM1099 547.8h3v2.6h-3zM1099 550.2h3v2.6h-3zM1134.5 533.2h3v2.6h-3zM1134.5 535.6h3v2.6h-3zM1134.5 538h3v2.6h-3zM1134.5 540.5h3v2.6h-3zM1134.5 545.3h3v2.6h-3zM1134.5 547.8h3v2.6h-3zM1134.5 550.2h3v2.6h-3zM1134.5 552.6h3v2.6h-3zM1170 535.6h3v2.6h-3zM1170 538h3v2.6h-3zM1170 540.5h3v2.6h-3zM1170 545.3h3v2.6h-3zM1170 547.8h3v2.6h-3zM1170 550.2h3v2.6h-3zM1205.5 535.6h3v2.6h-3zM1205.5 538h3v2.6h-3zM1205.5 540.5h3v2.6h-3zM1205.5 545.3h3v2.6h-3zM1205.5 547.8h3v2.6h-3zM1205.5 550.2h3v2.6h-3zM1241 535.6h3v2.6h-3zM1241 538h3v2.6h-3zM1241 540.5h3v2.6h-3zM1241 545.3h3v2.6h-3zM1241 547.8h3v2.6h-3zM1241 550.2h3v2.6h-3zM1276.5 535.6h3v2.6h-3zM1276.5 538h3v2.6h-3zM1276.5 540.5h3v2.6h-3zM1276.5 545.3h3v2.6h-3zM1276.5 547.8h3v2.6h-3zM1276.5 550.2h3v2.6h-3zM1312 533.2h3v2.6h-3zM1312 535.6h3v2.6h-3zM1312 538h3v2.6h-3zM1312 540.5h3v2.6h-3zM1312 545.3h3v2.6h-3zM1312 547.8h3v2.6h-3zM1312 550.2h3v2.6h-3zM1312 552.6h3v2.6h-3zM1347.5 535.6h3v2.6h-3zM1347.5 538h3v2.6h-3zM1347.5 540.5h3v2.6h-3zM1347.5 545.3h3v2.6h-3zM1347.5 547.8h3v2.6h-3zM1347.5 550.2h3v2.6h-3zM1383 535.6h3v2.6h-3zM1383 538h3v2.6h-3zM1383 540.5h3v2.6h-3zM1383 545.3h3v2.6h-3zM1383 547.8h3v2.6h-3zM1383 550.2h3v2.6h-3zM1418.5 535.6h3v2.6h-3zM1418.5 538h3v2.6h-3zM1418.5 540.5h3v2.6h-3zM1418.5 545.3h3v2.6h-3zM1418.5 547.8h3v2.6h-3zM1418.5 550.2h3v2.6h-3zM1454 535.6h3v2.6h-3zM1454 538h3v2.6h-3zM1454 540.5h3v2.6h-3zM1454 545.3h3v2.6h-3zM1454 547.8h3v2.6h-3zM1454 550.2h3v2.6h-3zM1489.5 533.2h3v2.6h-3zM1489.5 535.6h3v2.6h-3zM1489.5 538h3v2.6h-3zM1489.5 540.5h3v2.6h-3zM1489.5 545.3h3v2.6h-3zM1489.5 547.8h3v2.6h-3zM1489.5 550.2h3v2.6h-3zM1489.5 552.6h3v2.6h-3zM1525 535.6h3v2.6h-3zM1525 538h3v2.6h-3zM1525 540.5h3v2.6h-3zM1525 545.3h3v2.6h-3zM1525 547.8h3v2.6h-3zM1525 550.2h3v2.6h-3zM1560.5 535.6h3v2.6h-3zM1560.5 538h3v2.6h-3zM1560.5 540.5h3v2.6h-3zM1560.5 545.3h3v2.6h-3zM1560.5 547.8h3v2.6h-3zM1560.5 550.2h3v2.6h-3zM1596 535.6h3v2.6h-3zM1596 538h3v2.6h-3zM1596 540.5h3v2.6h-3zM1596 545.3h3v2.6h-3zM1596 547.8h3v2.6h-3zM1596 550.2h3v2.6h-3zM1631.5 535.6h3v2.6h-3zM1631.5 538h3v2.6h-3zM1631.5 540.5h3v2.6h-3zM1631.5 545.3h3v2.6h-3zM1631.5 547.8h3v2.6h-3zM1631.5 550.2h3v2.6h-3zM1667 533.2h3v2.6h-3zM1667 535.6h3v2.6h-3zM1667 538h3v2.6h-3zM1667 540.5h3v2.6h-3zM1667 545.3h3v2.6h-3zM1667 547.8h3v2.6h-3zM1667 550.2h3v2.6h-3zM1667 552.6h3v2.6h-3zM1702.5 535.6h3v2.6h-3zM1702.5 538h3v2.6h-3zM1702.5 540.5h3v2.6h-3zM1702.5 545.3h3v2.6h-3zM1702.5 547.8h3v2.6h-3zM1702.5 550.2h3v2.6h-3zM1738 535.6h3v2.6h-3zM1738 538h3v2.6h-3zM1738 540.5h3v2.6h-3zM1738 545.3h3v2.6h-3zM1738 547.8h3v2.6h-3zM1738 550.2h3v2.6h-3zM1773.5 535.6h3v2.6h-3zM1773.5 538h3v2.6h-3zM1773.5 540.5h3v2.6h-3zM1773.5 545.3h3v2.6h-3zM1773.5 547.8h3v2.6h-3zM1773.5 550.2h3v2.6h-3zM1809 535.6h3v2.6h-3zM1809 538h3v2.6h-3zM1809 540.5h3v2.6h-3zM1809 545.3h3v2.6h-3zM1809 547.8h3v2.6h-3zM1809 550.2h3v2.6h-3z" fill="#1e1e1e" opacity="0.6"/>
</g>
<rect x="71" y="541.8" width="1775" height="4.4" fill="#5c5c5c"/>
<rect x="957.3" y="58" width="2.7" height="970" fill="#111"/>
<rect x="67.4" y="56" width="4.9" height="974" fill="#4c5252"/>
<rect x="67.4" y="56" width="1780" height="2.8" fill="#1a2020"/>
<rect x="1843" y="56" width="5" height="974" fill="#6a7070"/>
<rect x="67.4" y="1024" width="1780.6" height="7" fill="#050505"/>
<path d="M945 58.7h27.2l-13.6 15z" fill="#ff9a10"/>
<g filter="url(#bl)">
<polygon points="72,195.8 74,193.2 76,190.5 78,187.6 80,184.7 82,181.7 84,178.8 86,175.9 88,173.3 90,170.8 92,168.6 94,166.8 96,165.2 98,164.1 100,163.3 102,162.9 104,163 106,163.5 108,164.4 110,165.6 112,167.3 114,169.3 116,171.5 118,174.1 120,176.8 122,179.6 124,182.6 126,185.6 128,188.5 130,191.3 132,194 134,196.5 136,198.8 138,200.7 140,202.3 142,203.6 144,204.4 146,204.8 148,204.9 150,204.5 152,203.6 154,202.4 156,200.8 158,198.9 160,196.7 162,194.2 164,191.5 166,188.7 168,185.8 170,182.8 172,179.9 174,177 176,174.3 178,171.7 180,169.4 182,167.4 184,165.8 186,164.4 188,163.5 190,163 192,162.9 194,163.2 196,164 198,165.1 200,166.6 202,168.5 204,170.7 206,173.1 208,175.7 210,178.6 212,181.5 214,184.4 216,187.4 218,190.3 220,193 222,195.6 224,198 226,200 228,201.8 230,203.1 232,204.1 234,204.7 236,204.9 238,204.7 240,204 242,202.9 244,201.5 246,199.7 248,197.6 250,195.2 252,192.6 254,189.8 256,186.9 258,183.9 260,181 262,178.1 264,175.3 266,172.6 268,170.3 270,168.1 272,166.3 274,164.9 276,163.8 278,163.2 280,162.9 282,163.1 284,163.7 286,164.6 288,166 290,167.8 292,169.8 294,172.2 296,174.7 298,177.5 300,180.4 302,183.3 304,186.3 306,189.2 308,192 310,194.7 312,197.1 314,199.3 316,201.1 318,202.7 320,203.8 322,204.6 324,204.9 326,204.8 328,204.3 330,203.4 332,202.1 334,200.4 336,198.4 338,196.1 340,193.6 342,190.8 344,188 346,185 348,182.1 350,179.1 352,176.3 354,173.6 356,171.1 358,168.9 360,167 362,165.4 364,164.2 366,163.4 368,162.9 370,163 372,163.4 374,164.2 376,165.5 378,167.1 380,169 382,171.2 384,173.7 386,176.4 388,179.3 390,182.2 392,185.2 394,188.1 396,191 398,193.7 400,196.2 402,198.5 404,200.5 406,202.1 408,203.4 410,204.3 412,204.8 414,204.9 416,204.5 418,203.8 420,202.6 422,201.1 424,199.2 426,197 428,194.5 430,191.9 432,189.1 434,186.1 436,183.2 438,180.2 440,177.3 442,174.6 444,172 446,169.7 448,167.7 450,165.9 452,164.6 454,163.6 456,163.1 458,162.9 460,163.2 462,163.9 464,165 466,166.4 468,168.2 470,170.4 472,172.8 474,175.4 476,178.2 478,181.1 480,184.1 482,187 484,189.9 486,192.7 488,195.3 490,197.7 492,199.8 494,201.6 496,203 498,204 500,204.7 502,204.9 504,204.7 506,204.1 508,203.1 510,201.7 512,199.9 514,197.9 516,195.5 518,192.9 520,190.1 522,187.2 524,184.3 526,181.3 528,178.4 530,175.6 532,173 534,170.5 536,168.4 538,166.5 540,165.1 542,163.9 544,163.2 546,162.9 548,163 550,163.6 552,164.5 554,165.8 556,167.5 558,169.5 560,171.8 562,174.4 564,177.1 566,180 568,183 570,185.9 572,188.9 574,191.7 576,194.4 578,196.8 580,199 582,200.9 584,202.5 586,203.7 588,204.5 590,204.9 592,204.8 594,204.4 596,203.5 598,202.2 600,200.6 602,198.7 604,196.4 606,193.9 608,191.2 610,188.3 612,185.4 614,182.4 616,179.5 618,176.6 620,173.9 622,171.4 624,169.2 626,167.2 628,165.6 630,164.3 632,163.4 634,163 636,162.9 638,163.3 640,164.1 642,165.3 644,166.8 646,168.7 648,170.9 650,173.4 652,176.1 654,178.9 656,181.8 658,184.8 660,187.8 662,190.6 664,193.4 666,195.9 668,198.2 670,200.3 672,202 674,203.3 676,204.2 678,204.8 680,204.9 682,204.6 684,203.9 686,202.8 688,201.3 690,199.4 692,197.3 694,194.9 696,192.2 698,189.4 700,186.5 702,183.5 704,180.6 706,177.7 708,174.9 710,172.3 712,170 714,167.9 716,166.1 718,164.7 720,163.7 722,163.1 724,162.9 726,163.1 728,163.8 730,164.8 732,166.2 734,168 736,170.1 738,172.5 740,175.1 742,177.8 744,180.7 746,183.7 748,186.7 750,189.6 752,192.4 754,195 756,197.4 758,199.5 760,201.4 762,202.8 764,203.9 766,204.6 768,204.9 770,204.8 772,204.2 774,203.2 776,201.9 778,200.2 780,198.1 782,195.8 784,193.2 786,190.5 788,187.6 790,184.7 792,181.7 794,178.8 796,175.9 798,173.3 800,170.8 802,168.6 804,166.8 806,165.2 808,164.1 810,163.3 812,162.9 814,163 816,163.5 818,164.4 820,165.6 822,167.3 824,169.3 826,171.5 828,174.1 830,176.8 832,179.6 834,182.6 836,185.6 838,188.5 840,191.3 842,194 844,196.5 846,198.8 848,200.7 850,202.3 852,203.6 854,204.4 856,204.8 858,204.9 860,204.5 862,203.6 864,202.4 866,200.8 868,198.9 870,196.7 872,194.2 874,191.5 876,188.7 878,185.8 880,182.8 882,179.9 884,177 886,174.3 888,171.7 890,169.4 892,167.4 894,165.8 896,164.4 898,163.5 900,163 902,162.9 904,163.2 906,164 908,165.1 910,166.6 912,168.5 914,170.7 916,173.1 918,175.7 920,178.6 922,181.5 924,184.4 926,187.4 928,190.3 930,193 932,195.6 934,198 936,200 938,201.8 940,203.1 942,204.1 944,204.7 946,204.9 948,204.7 950,204 952,202.9 954,201.5 956,199.7 958,197.6 960,195.2 962,192.6 964,189.8 966,186.9 968,183.9 970,181 972,178.1 974,175.3 976,172.6 978,170.3 980,168.1 982,166.3 984,164.9 986,163.8 988,163.2 990,162.9 992,163.1 994,163.7 996,164.6 998,166 1000,167.8 1002,169.8 1004,172.2 1006,174.7 1008,177.5 1010,180.4 1012,183.3 1014,186.3 1016,189.2 1018,192 1020,194.7 1022,197.1 1024,199.3 1026,201.1 1028,202.7 1030,203.8 1032,204.6 1034,204.9 1036,204.8 1038,204.3 1040,203.4 1042,202.1 1044,200.4 1046,198.4 1048,196.1 1050,193.6 1052,190.8 1054,188 1056,185 1058,182.1 1060,179.1 1062,176.3 1064,173.6 1066,171.1 1068,168.9 1070,167 1072,165.4 1074,164.2 1076,163.4 1078,162.9 1080,163 1082,163.4 1084,164.2 1086,165.5 1088,167.1 1090,169 1092,171.2 1094,173.7 1096,176.4 1098,179.3 1100,182.2 1102,185.2 1104,188.1 1106,191 1108,193.7 1110,196.2 1112,198.5 1114,200.5 1116,202.1 1118,203.4 1120,204.3 1122,204.8 1124,204.9 1126,204.5 1128,203.8 1130,202.6 1132,201.1 1134,199.2 1136,197 1138,194.5 1140,191.9 1142,189.1 1144,186.1 1146,183.2 1148,180.2 1150,177.3 1152,174.6 1154,172 1156,169.7 1158,167.7 1160,165.9 1162,164.6 1164,163.6 1166,163.1 1168,162.9 1170,163.2 1172,163.9 1174,165 1176,166.4 1178,168.2 1180,170.4 1182,172.8 1184,175.4 1186,178.2 1188,181.1 1190,184.1 1192,187 1194,189.9 1196,192.7 1198,195.3 1200,197.7 1202,199.8 1204,201.6 1206,203 1208,204 1210,204.7 1212,204.9 1214,204.7 1216,204.1 1218,203.1 1220,201.7 1222,199.9 1224,197.9 1226,195.5 1228,192.9 1230,190.1 1232,187.2 1234,184.3 1236,181.3 1238,178.4 1240,175.6 1242,173 1244,170.5 1246,168.4 1248,166.5 1250,165.1 1252,163.9 1254,163.2 1256,162.9 1258,163 1260,163.6 1262,164.5 1264,165.8 1266,167.5 1268,169.5 1270,171.8 1272,174.4 1274,177.1 1276,180 1278,183 1280,185.9 1282,188.9 1284,191.7 1286,194.4 1288,196.8 1290,199 1292,200.9 1294,202.5 1296,203.7 1298,204.5 1300,204.9 1302,204.8 1304,204.4 1306,203.5 1308,202.2 1310,200.6 1312,198.7 1314,196.4 1316,193.9 1318,191.2 1320,188.3 1322,185.4 1324,182.4 1326,179.5 1328,176.6 1330,173.9 1332,171.4 1334,169.2 1336,167.2 1338,165.6 1340,164.3 1342,163.4 1344,163 1346,162.9 1348,163.3 1350,164.1 1352,165.3 1354,166.8 1356,168.7 1358,170.9 1360,173.4 1362,176.1 1364,178.9 1366,181.8 1368,184.8 1370,187.8 1372,190.6 1374,193.4 1376,195.9 1378,198.2 1380,200.3 1382,202 1384,203.3 1386,204.2 1388,204.8 1390,204.9 1392,204.6 1394,203.9 1396,202.8 1398,201.3 1400,199.4 1402,197.3 1404,194.9 1406,192.2 1408,189.4 1410,186.5 1412,183.5 1414,180.6 1416,177.7 1418,174.9 1420,172.3 1422,170 1424,167.9 1426,166.1 1428,164.7 1430,163.7 1432,163.1 1434,162.9 1436,163.1 1438,163.8 1440,164.8 1442,166.2 1444,168 1446,170.1 1448,172.5 1450,175.1 1452,177.8 1454,180.7 1456,183.7 1458,186.7 1460,189.6 1462,192.4 1464,195 1466,197.4 1468,199.5 1470,201.4 1472,202.8 1474,203.9 1476,204.6 1478,204.9 1480,204.8 1482,204.2 1484,203.2 1486,201.9 1488,200.2 1490,198.1 1492,195.8 1494,193.2 1496,190.5 1498,187.6 1500,184.7 1502,181.7 1504,178.8 1506,175.9 1508,173.3 1510,170.8 1512,168.6 1514,166.8 1516,165.2 1518,164.1 1520,163.3 1522,162.9 1524,163 1526,163.5 1528,164.4 1530,165.6 1532,167.3 1534,169.3 1536,171.5 1538,174.1 1540,176.8 1542,179.6 1544,182.6 1546,185.6 1548,188.5 1550,191.3 1552,194 1554,196.5 1556,198.8 1558,200.7 1560,202.3 1562,203.6 1564,204.4 1566,204.8 1568,204.9 1570,204.5 1572,203.6 1574,202.4 1576,200.8 1578,198.9 1580,196.7 1582,194.2 1584,191.5 1586,188.7 1588,185.8 1590,182.8 1592,179.9 1594,177 1596,174.3 1598,171.7 1600,169.4 1602,167.4 1604,165.8 1606,164.4 1608,163.5 1610,163 1612,162.9 1614,163.2 1616,164 1618,165.1 1620,166.6 1622,168.5 1624,170.7 1626,173.1 1628,175.7 1630,178.6 1632,181.5 1634,184.4 1636,187.4 1638,190.3 1640,193 1642,195.6 1644,198 1646,200 1648,201.8 1650,203.1 1652,204.1 1654,204.7 1656,204.9 1658,204.7 1660,204 1662,202.9 1664,201.5 1666,199.7 1668,197.6 1670,195.2 1672,192.6 1674,189.8 1676,186.9 1678,183.9 1680,181 1682,178.1 1684,175.3 1686,172.6 1688,170.3 1690,168.1 1692,166.3 1694,164.9 1696,163.8 1698,163.2 1700,162.9 1702,163.1 1704,163.7 1706,164.6 1708,166 1710,167.8 1712,169.8 1714,172.2 1716,174.7 1718,177.5 1720,180.4 1722,183.3 1724,186.3 1726,189.2 1728,192 1730,194.7 1732,197.1 1734,199.3 1736,201.1 1738,202.7 1740,203.8 1742,204.6 1744,204.9 1746,204.8 1748,204.3 1750,203.4 1752,202.1 1754,200.4 1756,198.4 1758,196.1 1760,193.6 1762,190.8 1764,188 1766,185 1768,182.1 1770,179.1 1772,176.3 1774,173.6 1776,171.1 1778,168.9 1780,167 1782,165.4 1784,164.2 1786,163.4 1788,162.9 1790,163 1792,163.4 1794,164.2 1796,165.5 1798,167.1 1800,169 1802,171.2 1804,173.7 1806,176.4 1808,179.3 1810,182.2 1812,185.2 1814,188.1 1816,191 1818,193.7 1820,196.2 1822,198.5 1824,200.5 1826,202.1 1828,203.4 1830,204.3 1832,204.8 1834,204.9 1836,204.5 1838,203.8 1840,202.6 1842,201.1 1844,199.2 1844,209.4 1842,211.3 1840,212.8 1838,214 1836,214.7 1834,215.1 1832,215 1830,214.5 1828,213.6 1826,212.3 1824,210.7 1822,208.7 1820,206.4 1818,203.9 1816,201.2 1814,198.3 1812,195.4 1810,192.4 1808,189.5 1806,186.6 1804,183.9 1802,181.4 1800,179.2 1798,177.3 1796,175.7 1794,174.4 1792,173.6 1790,173.2 1788,173.1 1786,173.6 1784,174.4 1782,175.6 1780,177.2 1778,179.1 1776,181.3 1774,183.8 1772,186.5 1770,189.3 1768,192.3 1766,195.2 1764,198.2 1762,201 1760,203.8 1758,206.3 1756,208.6 1754,210.6 1752,212.3 1750,213.6 1748,214.5 1746,215 1744,215.1 1742,214.8 1740,214 1738,212.9 1736,211.3 1734,209.5 1732,207.3 1730,204.9 1728,202.2 1726,199.4 1724,196.5 1722,193.5 1720,190.6 1718,187.7 1716,184.9 1714,182.4 1712,180 1710,178 1708,176.2 1706,174.8 1704,173.9 1702,173.3 1700,173.1 1698,173.4 1696,174 1694,175.1 1692,176.5 1690,178.3 1688,180.5 1686,182.8 1684,185.5 1682,188.3 1680,191.2 1678,194.1 1676,197.1 1674,200 1672,202.8 1670,205.4 1668,207.8 1666,209.9 1664,211.7 1662,213.1 1660,214.2 1658,214.9 1656,215.1 1654,214.9 1652,214.3 1650,213.3 1648,212 1646,210.2 1644,208.2 1642,205.8 1640,203.2 1638,200.5 1636,197.6 1634,194.6 1632,191.7 1630,188.8 1628,185.9 1626,183.3 1624,180.9 1622,178.7 1620,176.8 1618,175.3 1616,174.2 1614,173.4 1612,173.1 1610,173.2 1608,173.7 1606,174.6 1604,176 1602,177.6 1600,179.6 1598,181.9 1596,184.5 1594,187.2 1592,190.1 1590,193 1588,196 1586,198.9 1584,201.7 1582,204.4 1580,206.9 1578,209.1 1576,211 1574,212.6 1572,213.8 1570,214.7 1568,215.1 1566,215 1564,214.6 1562,213.8 1560,212.5 1558,210.9 1556,209 1554,206.7 1552,204.2 1550,201.5 1548,198.7 1546,195.8 1544,192.8 1542,189.8 1540,187 1538,184.3 1536,181.7 1534,179.5 1532,177.5 1530,175.8 1528,174.6 1526,173.7 1524,173.2 1522,173.1 1520,173.5 1518,174.3 1516,175.4 1514,177 1512,178.8 1510,181 1508,183.5 1506,186.1 1504,189 1502,191.9 1500,194.9 1498,197.8 1496,200.7 1494,203.4 1492,206 1490,208.3 1488,210.4 1486,212.1 1484,213.4 1482,214.4 1480,215 1478,215.1 1476,214.8 1474,214.1 1472,213 1470,211.6 1468,209.7 1466,207.6 1464,205.2 1462,202.6 1460,199.8 1458,196.9 1456,193.9 1454,190.9 1452,188 1450,185.3 1448,182.7 1446,180.3 1444,178.2 1442,176.4 1440,175 1438,174 1436,173.3 1434,173.1 1432,173.3 1430,173.9 1428,174.9 1426,176.3 1424,178.1 1422,180.2 1420,182.5 1418,185.1 1416,187.9 1414,190.8 1412,193.7 1410,196.7 1408,199.6 1406,202.4 1404,205.1 1402,207.5 1400,209.6 1398,211.5 1396,213 1394,214.1 1392,214.8 1390,215.1 1388,215 1386,214.4 1384,213.5 1382,212.2 1380,210.5 1378,208.4 1376,206.1 1374,203.6 1372,200.8 1370,198 1368,195 1366,192 1364,189.1 1362,186.3 1360,183.6 1358,181.1 1356,178.9 1354,177 1352,175.5 1350,174.3 1348,173.5 1346,173.1 1344,173.2 1342,173.6 1340,174.5 1338,175.8 1336,177.4 1334,179.4 1332,181.6 1330,184.1 1328,186.8 1326,189.7 1324,192.6 1322,195.6 1320,198.5 1318,201.4 1316,204.1 1314,206.6 1312,208.9 1310,210.8 1308,212.4 1306,213.7 1304,214.6 1302,215 1300,215.1 1298,214.7 1296,213.9 1294,212.7 1292,211.1 1290,209.2 1288,207 1286,204.6 1284,201.9 1282,199.1 1280,196.1 1278,193.2 1276,190.2 1274,187.3 1272,184.6 1270,182 1268,179.7 1266,177.7 1264,176 1262,174.7 1260,173.8 1258,173.2 1256,173.1 1254,173.4 1252,174.1 1250,175.3 1248,176.7 1246,178.6 1244,180.7 1242,183.2 1240,185.8 1238,188.6 1236,191.5 1234,194.5 1232,197.4 1230,200.3 1228,203.1 1226,205.7 1224,208.1 1222,210.1 1220,211.9 1218,213.3 1216,214.3 1214,214.9 1212,215.1 1210,214.9 1208,214.2 1206,213.2 1204,211.8 1202,210 1200,207.9 1198,205.5 1196,202.9 1194,200.1 1192,197.2 1190,194.3 1188,191.3 1186,188.4 1184,185.6 1182,183 1180,180.6 1178,178.4 1176,176.6 1174,175.2 1172,174.1 1170,173.4 1168,173.1 1166,173.3 1164,173.8 1162,174.8 1160,176.1 1158,177.9 1156,179.9 1154,182.2 1152,184.8 1150,187.5 1148,190.4 1146,193.4 1144,196.3 1142,199.3 1140,202.1 1138,204.7 1136,207.2 1134,209.4 1132,211.3 1130,212.8 1128,214 1126,214.7 1124,215.1 1122,215 1120,214.5 1118,213.6 1116,212.3 1114,210.7 1112,208.7 1110,206.4 1108,203.9 1106,201.2 1104,198.3 1102,195.4 1100,192.4 1098,189.5 1096,186.6 1094,183.9 1092,181.4 1090,179.2 1088,177.3 1086,175.7 1084,174.4 1082,173.6 1080,173.2 1078,173.1 1076,173.6 1074,174.4 1072,175.6 1070,177.2 1068,179.1 1066,181.3 1064,183.8 1062,186.5 1060,189.3 1058,192.3 1056,195.2 1054,198.2 1052,201 1050,203.8 1048,206.3 1046,208.6 1044,210.6 1042,212.3 1040,213.6 1038,214.5 1036,215 1034,215.1 1032,214.8 1030,214 1028,212.9 1026,211.3 1024,209.5 1022,207.3 1020,204.9 1018,202.2 1016,199.4 1014,196.5 1012,193.5 1010,190.6 1008,187.7 1006,184.9 1004,182.4 1002,180 1000,178 998,176.2 996,174.8 994,173.9 992,173.3 990,173.1 988,173.4 986,174 984,175.1 982,176.5 980,178.3 978,180.5 976,182.8 974,185.5 972,188.3 970,191.2 968,194.1 966,197.1 964,200 962,202.8 960,205.4 958,207.8 956,209.9 954,211.7 952,213.1 950,214.2 948,214.9 946,215.1 944,214.9 942,214.3 940,213.3 938,212 936,210.2 934,208.2 932,205.8 930,203.2 928,200.5 926,197.6 924,194.6 922,191.7 920,188.8 918,185.9 916,183.3 914,180.9 912,178.7 910,176.8 908,175.3 906,174.2 904,173.4 902,173.1 900,173.2 898,173.7 896,174.6 894,176 892,177.6 890,179.6 888,181.9 886,184.5 884,187.2 882,190.1 880,193 878,196 876,198.9 874,201.7 872,204.4 870,206.9 868,209.1 866,211 864,212.6 862,213.8 860,214.7 858,215.1 856,215 854,214.6 852,213.8 850,212.5 848,210.9 846,209 844,206.7 842,204.2 840,201.5 838,198.7 836,195.8 834,192.8 832,189.8 830,187 828,184.3 826,181.7 824,179.5 822,177.5 820,175.8 818,174.6 816,173.7 814,173.2 812,173.1 810,173.5 808,174.3 806,175.4 804,177 802,178.8 800,181 798,183.5 796,186.1 794,189 792,191.9 790,194.9 788,197.8 786,200.7 784,203.4 782,206 780,208.3 778,210.4 776,212.1 774,213.4 772,214.4 770,215 768,215.1 766,214.8 764,214.1 762,213 760,211.6 758,209.7 756,207.6 754,205.2 752,202.6 750,199.8 748,196.9 746,193.9 744,190.9 742,188 740,185.3 738,182.7 736,180.3 734,178.2 732,176.4 730,175 728,174 726,173.3 724,173.1 722,173.3 720,173.9 718,174.9 716,176.3 714,178.1 712,180.2 710,182.5 708,185.1 706,187.9 704,190.8 702,193.7 700,196.7 698,199.6 696,202.4 694,205.1 692,207.5 690,209.6 688,211.5 686,213 684,214.1 682,214.8 680,215.1 678,215 676,214.4 674,213.5 672,212.2 670,210.5 668,208.4 666,206.1 664,203.6 662,200.8 660,198 658,195 656,192 654,189.1 652,186.3 650,183.6 648,181.1 646,178.9 644,177 642,175.5 640,174.3 638,173.5 636,173.1 634,173.2 632,173.6 630,174.5 628,175.8 626,177.4 624,179.4 622,181.6 620,184.1 618,186.8 616,189.7 614,192.6 612,195.6 610,198.5 608,201.4 606,204.1 604,206.6 602,208.9 600,210.8 598,212.4 596,213.7 594,214.6 592,215 590,215.1 588,214.7 586,213.9 584,212.7 582,211.1 580,209.2 578,207 576,204.6 574,201.9 572,199.1 570,196.1 568,193.2 566,190.2 564,187.3 562,184.6 560,182 558,179.7 556,177.7 554,176 552,174.7 550,173.8 548,173.2 546,173.1 544,173.4 542,174.1 540,175.3 538,176.7 536,178.6 534,180.7 532,183.2 530,185.8 528,188.6 526,191.5 524,194.5 522,197.4 520,200.3 518,203.1 516,205.7 514,208.1 512,210.1 510,211.9 508,213.3 506,214.3 504,214.9 502,215.1 500,214.9 498,214.2 496,213.2 494,211.8 492,210 490,207.9 488,205.5 486,202.9 484,200.1 482,197.2 480,194.3 478,191.3 476,188.4 474,185.6 472,183 470,180.6 468,178.4 466,176.6 464,175.2 462,174.1 460,173.4 458,173.1 456,173.3 454,173.8 452,174.8 450,176.1 448,177.9 446,179.9 444,182.2 442,184.8 440,187.5 438,190.4 436,193.4 434,196.3 432,199.3 430,202.1 428,204.7 426,207.2 424,209.4 422,211.3 420,212.8 418,214 416,214.7 414,215.1 412,215 410,214.5 408,213.6 406,212.3 404,210.7 402,208.7 400,206.4 398,203.9 396,201.2 394,198.3 392,195.4 390,192.4 388,189.5 386,186.6 384,183.9 382,181.4 380,179.2 378,177.3 376,175.7 374,174.4 372,173.6 370,173.2 368,173.1 366,173.6 364,174.4 362,175.6 360,177.2 358,179.1 356,181.3 354,183.8 352,186.5 350,189.3 348,192.3 346,195.2 344,198.2 342,201 340,203.8 338,206.3 336,208.6 334,210.6 332,212.3 330,213.6 328,214.5 326,215 324,215.1 322,214.8 320,214 318,212.9 316,211.3 314,209.5 312,207.3 310,204.9 308,202.2 306,199.4 304,196.5 302,193.5 300,190.6 298,187.7 296,184.9 294,182.4 292,180 290,178 288,176.2 286,174.8 284,173.9 282,173.3 280,173.1 278,173.4 276,174 274,175.1 272,176.5 270,178.3 268,180.5 266,182.8 264,185.5 262,188.3 260,191.2 258,194.1 256,197.1 254,200 252,202.8 250,205.4 248,207.8 246,209.9 244,211.7 242,213.1 240,214.2 238,214.9 236,215.1 234,214.9 232,214.3 230,213.3 228,212 226,210.2 224,208.2 222,205.8 220,203.2 218,200.5 216,197.6 214,194.6 212,191.7 210,188.8 208,185.9 206,183.3 204,180.9 202,178.7 200,176.8 198,175.3 196,174.2 194,173.4 192,173.1 190,173.2 188,173.7 186,174.6 184,176 182,177.6 180,179.6 178,181.9 176,184.5 174,187.2 172,190.1 170,193 168,196 166,198.9 164,201.7 162,204.4 160,206.9 158,209.1 156,211 154,212.6 152,213.8 150,214.7 148,215.1 146,215 144,214.6 142,213.8 140,212.5 138,210.9 136,209 134,206.7 132,204.2 130,201.5 128,198.7 126,195.8 124,192.8 122,189.8 120,187 118,184.3 116,181.7 114,179.5 112,177.5 110,175.8 108,174.6 106,173.7 104,173.2 102,173.1 100,173.5 98,174.3 96,175.4 94,177 92,178.8 90,181 88,183.5 86,186.1 84,189 82,191.9 80,194.9 78,197.8 76,200.7 74,203.4 72,206" fill="#0b840b" stroke="#0b840b" stroke-width="2.8" stroke-linejoin="round"/>
<polygon points="72,199 74,196.4 76,193.7 78,190.8 80,187.9 82,184.9 84,182 86,179.1 88,176.5 90,174 92,171.8 94,170 96,168.4 98,167.3 100,166.5 102,166.1 104,166.2 106,166.7 108,167.6 110,168.8 112,170.5 114,172.5 116,174.7 118,177.3 120,180 122,182.8 124,185.8 126,188.8 128,191.7 130,194.5 132,197.2 134,199.7 136,202 138,203.9 140,205.5 142,206.8 144,207.6 146,208 148,208.1 150,207.7 152,206.8 154,205.6 156,204 158,202.1 160,199.9 162,197.4 164,194.7 166,191.9 168,189 170,186 172,183.1 174,180.2 176,177.5 178,174.9 180,172.6 182,170.6 184,169 186,167.6 188,166.7 190,166.2 192,166.1 194,166.4 196,167.2 198,168.3 200,169.8 202,171.7 204,173.9 206,176.3 208,178.9 210,181.8 212,184.7 214,187.6 216,190.6 218,193.5 220,196.2 222,198.8 224,201.2 226,203.2 228,205 230,206.3 232,207.3 234,207.9 236,208.1 238,207.9 240,207.2 242,206.1 244,204.7 246,202.9 248,200.8 250,198.4 252,195.8 254,193 256,190.1 258,187.1 260,184.2 262,181.3 264,178.5 266,175.8 268,173.5 270,171.3 272,169.5 274,168.1 276,167 278,166.4 280,166.1 282,166.3 284,166.9 286,167.8 288,169.2 290,171 292,173 294,175.4 296,177.9 298,180.7 300,183.6 302,186.5 304,189.5 306,192.4 308,195.2 310,197.9 312,200.3 314,202.5 316,204.3 318,205.9 320,207 322,207.8 324,208.1 326,208 328,207.5 330,206.6 332,205.3 334,203.6 336,201.6 338,199.3 340,196.8 342,194 344,191.2 346,188.2 348,185.3 350,182.3 352,179.5 354,176.8 356,174.3 358,172.1 360,170.2 362,168.6 364,167.4 366,166.6 368,166.1 370,166.2 372,166.6 374,167.4 376,168.7 378,170.3 380,172.2 382,174.4 384,176.9 386,179.6 388,182.5 390,185.4 392,188.4 394,191.3 396,194.2 398,196.9 400,199.4 402,201.7 404,203.7 406,205.3 408,206.6 410,207.5 412,208 414,208.1 416,207.7 418,207 420,205.8 422,204.3 424,202.4 426,200.2 428,197.7 430,195.1 432,192.3 434,189.3 436,186.4 438,183.4 440,180.5 442,177.8 444,175.2 446,172.9 448,170.9 450,169.1 452,167.8 454,166.8 456,166.3 458,166.1 460,166.4 462,167.1 464,168.2 466,169.6 468,171.4 470,173.6 472,176 474,178.6 476,181.4 478,184.3 480,187.3 482,190.2 484,193.1 486,195.9 488,198.5 490,200.9 492,203 494,204.8 496,206.2 498,207.2 500,207.9 502,208.1 504,207.9 506,207.3 508,206.3 510,204.9 512,203.1 514,201.1 516,198.7 518,196.1 520,193.3 522,190.4 524,187.5 526,184.5 528,181.6 530,178.8 532,176.2 534,173.7 536,171.6 538,169.7 540,168.3 542,167.1 544,166.4 546,166.1 548,166.2 550,166.8 552,167.7 554,169 556,170.7 558,172.7 560,175 562,177.6 564,180.3 566,183.2 568,186.2 570,189.1 572,192.1 574,194.9 576,197.6 578,200 580,202.2 582,204.1 584,205.7 586,206.9 588,207.7 590,208.1 592,208 594,207.6 596,206.7 598,205.4 600,203.8 602,201.9 604,199.6 606,197.1 608,194.4 610,191.5 612,188.6 614,185.6 616,182.7 618,179.8 620,177.1 622,174.6 624,172.4 626,170.4 628,168.8 630,167.5 632,166.6 634,166.2 636,166.1 638,166.5 640,167.3 642,168.5 644,170 646,171.9 648,174.1 650,176.6 652,179.3 654,182.1 656,185 658,188 660,191 662,193.8 664,196.6 666,199.1 668,201.4 670,203.5 672,205.2 674,206.5 676,207.4 678,208 680,208.1 682,207.8 684,207.1 686,206 688,204.5 690,202.6 692,200.5 694,198.1 696,195.4 698,192.6 700,189.7 702,186.7 704,183.8 706,180.9 708,178.1 710,175.5 712,173.2 714,171.1 716,169.3 718,167.9 720,166.9 722,166.3 724,166.1 726,166.3 728,167 730,168 732,169.4 734,171.2 736,173.3 738,175.7 740,178.3 742,181 744,183.9 746,186.9 748,189.9 750,192.8 752,195.6 754,198.2 756,200.6 758,202.7 760,204.6 762,206 764,207.1 766,207.8 768,208.1 770,208 772,207.4 774,206.4 776,205.1 778,203.4 780,201.3 782,199 784,196.4 786,193.7 788,190.8 790,187.9 792,184.9 794,182 796,179.1 798,176.5 800,174 802,171.8 804,170 806,168.4 808,167.3 810,166.5 812,166.1 814,166.2 816,166.7 818,167.6 820,168.8 822,170.5 824,172.5 826,174.7 828,177.3 830,180 832,182.8 834,185.8 836,188.8 838,191.7 840,194.5 842,197.2 844,199.7 846,202 848,203.9 850,205.5 852,206.8 854,207.6 856,208 858,208.1 860,207.7 862,206.8 864,205.6 866,204 868,202.1 870,199.9 872,197.4 874,194.7 876,191.9 878,189 880,186 882,183.1 884,180.2 886,177.5 888,174.9 890,172.6 892,170.6 894,169 896,167.6 898,166.7 900,166.2 902,166.1 904,166.4 906,167.2 908,168.3 910,169.8 912,171.7 914,173.9 916,176.3 918,178.9 920,181.8 922,184.7 924,187.6 926,190.6 928,193.5 930,196.2 932,198.8 934,201.2 936,203.2 938,205 940,206.3 942,207.3 944,207.9 946,208.1 948,207.9 950,207.2 952,206.1 954,204.7 956,202.9 958,200.8 960,198.4 962,195.8 964,193 966,190.1 968,187.1 970,184.2 972,181.3 974,178.5 976,175.8 978,173.5 980,171.3 982,169.5 984,168.1 986,167 988,166.4 990,166.1 992,166.3 994,166.9 996,167.8 998,169.2 1000,171 1002,173 1004,175.4 1006,177.9 1008,180.7 1010,183.6 1012,186.5 1014,189.5 1016,192.4 1018,195.2 1020,197.9 1022,200.3 1024,202.5 1026,204.3 1028,205.9 1030,207 1032,207.8 1034,208.1 1036,208 1038,207.5 1040,206.6 1042,205.3 1044,203.6 1046,201.6 1048,199.3 1050,196.8 1052,194 1054,191.2 1056,188.2 1058,185.3 1060,182.3 1062,179.5 1064,176.8 1066,174.3 1068,172.1 1070,170.2 1072,168.6 1074,167.4 1076,166.6 1078,166.1 1080,166.2 1082,166.6 1084,167.4 1086,168.7 1088,170.3 1090,172.2 1092,174.4 1094,176.9 1096,179.6 1098,182.5 1100,185.4 1102,188.4 1104,191.3 1106,194.2 1108,196.9 1110,199.4 1112,201.7 1114,203.7 1116,205.3 1118,206.6 1120,207.5 1122,208 1124,208.1 1126,207.7 1128,207 1130,205.8 1132,204.3 1134,202.4 1136,200.2 1138,197.7 1140,195.1 1142,192.3 1144,189.3 1146,186.4 1148,183.4 1150,180.5 1152,177.8 1154,175.2 1156,172.9 1158,170.9 1160,169.1 1162,167.8 1164,166.8 1166,166.3 1168,166.1 1170,166.4 1172,167.1 1174,168.2 1176,169.6 1178,171.4 1180,173.6 1182,176 1184,178.6 1186,181.4 1188,184.3 1190,187.3 1192,190.2 1194,193.1 1196,195.9 1198,198.5 1200,200.9 1202,203 1204,204.8 1206,206.2 1208,207.2 1210,207.9 1212,208.1 1214,207.9 1216,207.3 1218,206.3 1220,204.9 1222,203.1 1224,201.1 1226,198.7 1228,196.1 1230,193.3 1232,190.4 1234,187.5 1236,184.5 1238,181.6 1240,178.8 1242,176.2 1244,173.7 1246,171.6 1248,169.7 1250,168.3 1252,167.1 1254,166.4 1256,166.1 1258,166.2 1260,166.8 1262,167.7 1264,169 1266,170.7 1268,172.7 1270,175 1272,177.6 1274,180.3 1276,183.2 1278,186.2 1280,189.1 1282,192.1 1284,194.9 1286,197.6 1288,200 1290,202.2 1292,204.1 1294,205.7 1296,206.9 1298,207.7 1300,208.1 1302,208 1304,207.6 1306,206.7 1308,205.4 1310,203.8 1312,201.9 1314,199.6 1316,197.1 1318,194.4 1320,191.5 1322,188.6 1324,185.6 1326,182.7 1328,179.8 1330,177.1 1332,174.6 1334,172.4 1336,170.4 1338,168.8 1340,167.5 1342,166.6 1344,166.2 1346,166.1 1348,166.5 1350,167.3 1352,168.5 1354,170 1356,171.9 1358,174.1 1360,176.6 1362,179.3 1364,182.1 1366,185 1368,188 1370,191 1372,193.8 1374,196.6 1376,199.1 1378,201.4 1380,203.5 1382,205.2 1384,206.5 1386,207.4 1388,208 1390,208.1 1392,207.8 1394,207.1 1396,206 1398,204.5 1400,202.6 1402,200.5 1404,198.1 1406,195.4 1408,192.6 1410,189.7 1412,186.7 1414,183.8 1416,180.9 1418,178.1 1420,175.5 1422,173.2 1424,171.1 1426,169.3 1428,167.9 1430,166.9 1432,166.3 1434,166.1 1436,166.3 1438,167 1440,168 1442,169.4 1444,171.2 1446,173.3 1448,175.7 1450,178.3 1452,181 1454,183.9 1456,186.9 1458,189.9 1460,192.8 1462,195.6 1464,198.2 1466,200.6 1468,202.7 1470,204.6 1472,206 1474,207.1 1476,207.8 1478,208.1 1480,208 1482,207.4 1484,206.4 1486,205.1 1488,203.4 1490,201.3 1492,199 1494,196.4 1496,193.7 1498,190.8 1500,187.9 1502,184.9 1504,182 1506,179.1 1508,176.5 1510,174 1512,171.8 1514,170 1516,168.4 1518,167.3 1520,166.5 1522,166.1 1524,166.2 1526,166.7 1528,167.6 1530,168.8 1532,170.5 1534,172.5 1536,174.7 1538,177.3 1540,180 1542,182.8 1544,185.8 1546,188.8 1548,191.7 1550,194.5 1552,197.2 1554,199.7 1556,202 1558,203.9 1560,205.5 1562,206.8 1564,207.6 1566,208 1568,208.1 1570,207.7 1572,206.8 1574,205.6 1576,204 1578,202.1 1580,199.9 1582,197.4 1584,194.7 1586,191.9 1588,189 1590,186 1592,183.1 1594,180.2 1596,177.5 1598,174.9 1600,172.6 1602,170.6 1604,169 1606,167.6 1608,166.7 1610,166.2 1612,166.1 1614,166.4 1616,167.2 1618,168.3 1620,169.8 1622,171.7 1624,173.9 1626,176.3 1628,178.9 1630,181.8 1632,184.7 1634,187.6 1636,190.6 1638,193.5 1640,196.2 1642,198.8 1644,201.2 1646,203.2 1648,205 1650,206.3 1652,207.3 1654,207.9 1656,208.1 1658,207.9 1660,207.2 1662,206.1 1664,204.7 1666,202.9 1668,200.8 1670,198.4 1672,195.8 1674,193 1676,190.1 1678,187.1 1680,184.2 1682,181.3 1684,178.5 1686,175.8 1688,173.5 1690,171.3 1692,169.5 1694,168.1 1696,167 1698,166.4 1700,166.1 1702,166.3 1704,166.9 1706,167.8 1708,169.2 1710,171 1712,173 1714,175.4 1716,177.9 1718,180.7 1720,183.6 1722,186.5 1724,189.5 1726,192.4 1728,195.2 1730,197.9 1732,200.3 1734,202.5 1736,204.3 1738,205.9 1740,207 1742,207.8 1744,208.1 1746,208 1748,207.5 1750,206.6 1752,205.3 1754,203.6 1756,201.6 1758,199.3 1760,196.8 1762,194 1764,191.2 1766,188.2 1768,185.3 1770,182.3 1772,179.5 1774,176.8 1776,174.3 1778,172.1 1780,170.2 1782,168.6 1784,167.4 1786,166.6 1788,166.1 1790,166.2 1792,166.6 1794,167.4 1796,168.7 1798,170.3 1800,172.2 1802,174.4 1804,176.9 1806,179.6 1808,182.5 1810,185.4 1812,188.4 1814,191.3 1816,194.2 1818,196.9 1820,199.4 1822,201.7 1824,203.7 1826,205.3 1828,206.6 1830,207.5 1832,208 1834,208.1 1836,207.7 1838,207 1840,205.8 1842,204.3 1844,202.4 1844,206.2 1842,208.1 1840,209.6 1838,210.8 1836,211.5 1834,211.9 1832,211.8 1830,211.3 1828,210.4 1826,209.1 1824,207.5 1822,205.5 1820,203.2 1818,200.7 1816,198 1814,195.1 1812,192.2 1810,189.2 1808,186.3 1806,183.4 1804,180.7 1802,178.2 1800,176 1798,174.1 1796,172.5 1794,171.2 1792,170.4 1790,170 1788,169.9 1786,170.4 1784,171.2 1782,172.4 1780,174 1778,175.9 1776,178.1 1774,180.6 1772,183.3 1770,186.1 1768,189.1 1766,192 1764,195 1762,197.8 1760,200.6 1758,203.1 1756,205.4 1754,207.4 1752,209.1 1750,210.4 1748,211.3 1746,211.8 1744,211.9 1742,211.6 1740,210.8 1738,209.7 1736,208.1 1734,206.3 1732,204.1 1730,201.7 1728,199 1726,196.2 1724,193.3 1722,190.3 1720,187.4 1718,184.5 1716,181.7 1714,179.2 1712,176.8 1710,174.8 1708,173 1706,171.6 1704,170.7 1702,170.1 1700,169.9 1698,170.2 1696,170.8 1694,171.9 1692,173.3 1690,175.1 1688,177.3 1686,179.6 1684,182.3 1682,185.1 1680,188 1678,190.9 1676,193.9 1674,196.8 1672,199.6 1670,202.2 1668,204.6 1666,206.7 1664,208.5 1662,209.9 1660,211 1658,211.7 1656,211.9 1654,211.7 1652,211.1 1650,210.1 1648,208.8 1646,207 1644,205 1642,202.6 1640,200 1638,197.3 1636,194.4 1634,191.4 1632,188.5 1630,185.6 1628,182.7 1626,180.1 1624,177.7 1622,175.5 1620,173.6 1618,172.1 1616,171 1614,170.2 1612,169.9 1610,170 1608,170.5 1606,171.4 1604,172.8 1602,174.4 1600,176.4 1598,178.7 1596,181.3 1594,184 1592,186.9 1590,189.8 1588,192.8 1586,195.7 1584,198.5 1582,201.2 1580,203.7 1578,205.9 1576,207.8 1574,209.4 1572,210.6 1570,211.5 1568,211.9 1566,211.8 1564,211.4 1562,210.6 1560,209.3 1558,207.7 1556,205.8 1554,203.5 1552,201 1550,198.3 1548,195.5 1546,192.6 1544,189.6 1542,186.6 1540,183.8 1538,181.1 1536,178.5 1534,176.3 1532,174.3 1530,172.6 1528,171.4 1526,170.5 1524,170 1522,169.9 1520,170.3 1518,171.1 1516,172.2 1514,173.8 1512,175.6 1510,177.8 1508,180.3 1506,182.9 1504,185.8 1502,188.7 1500,191.7 1498,194.6 1496,197.5 1494,200.2 1492,202.8 1490,205.1 1488,207.2 1486,208.9 1484,210.2 1482,211.2 1480,211.8 1478,211.9 1476,211.6 1474,210.9 1472,209.8 1470,208.4 1468,206.5 1466,204.4 1464,202 1462,199.4 1460,196.6 1458,193.7 1456,190.7 1454,187.7 1452,184.8 1450,182.1 1448,179.5 1446,177.1 1444,175 1442,173.2 1440,171.8 1438,170.8 1436,170.1 1434,169.9 1432,170.1 1430,170.7 1428,171.7 1426,173.1 1424,174.9 1422,177 1420,179.3 1418,181.9 1416,184.7 1414,187.6 1412,190.5 1410,193.5 1408,196.4 1406,199.2 1404,201.9 1402,204.3 1400,206.4 1398,208.3 1396,209.8 1394,210.9 1392,211.6 1390,211.9 1388,211.8 1386,211.2 1384,210.3 1382,209 1380,207.3 1378,205.2 1376,202.9 1374,200.4 1372,197.6 1370,194.8 1368,191.8 1366,188.8 1364,185.9 1362,183.1 1360,180.4 1358,177.9 1356,175.7 1354,173.8 1352,172.3 1350,171.1 1348,170.3 1346,169.9 1344,170 1342,170.4 1340,171.3 1338,172.6 1336,174.2 1334,176.2 1332,178.4 1330,180.9 1328,183.6 1326,186.5 1324,189.4 1322,192.4 1320,195.3 1318,198.2 1316,200.9 1314,203.4 1312,205.7 1310,207.6 1308,209.2 1306,210.5 1304,211.4 1302,211.8 1300,211.9 1298,211.5 1296,210.7 1294,209.5 1292,207.9 1290,206 1288,203.8 1286,201.4 1284,198.7 1282,195.9 1280,192.9 1278,190 1276,187 1274,184.1 1272,181.4 1270,178.8 1268,176.5 1266,174.5 1264,172.8 1262,171.5 1260,170.6 1258,170 1256,169.9 1254,170.2 1252,170.9 1250,172.1 1248,173.5 1246,175.4 1244,177.5 1242,180 1240,182.6 1238,185.4 1236,188.3 1234,191.3 1232,194.2 1230,197.1 1228,199.9 1226,202.5 1224,204.9 1222,206.9 1220,208.7 1218,210.1 1216,211.1 1214,211.7 1212,211.9 1210,211.7 1208,211 1206,210 1204,208.6 1202,206.8 1200,204.7 1198,202.3 1196,199.7 1194,196.9 1192,194 1190,191.1 1188,188.1 1186,185.2 1184,182.4 1182,179.8 1180,177.4 1178,175.2 1176,173.4 1174,172 1172,170.9 1170,170.2 1168,169.9 1166,170.1 1164,170.6 1162,171.6 1160,172.9 1158,174.7 1156,176.7 1154,179 1152,181.6 1150,184.3 1148,187.2 1146,190.2 1144,193.1 1142,196.1 1140,198.9 1138,201.5 1136,204 1134,206.2 1132,208.1 1130,209.6 1128,210.8 1126,211.5 1124,211.9 1122,211.8 1120,211.3 1118,210.4 1116,209.1 1114,207.5 1112,205.5 1110,203.2 1108,200.7 1106,198 1104,195.1 1102,192.2 1100,189.2 1098,186.3 1096,183.4 1094,180.7 1092,178.2 1090,176 1088,174.1 1086,172.5 1084,171.2 1082,170.4 1080,170 1078,169.9 1076,170.4 1074,171.2 1072,172.4 1070,174 1068,175.9 1066,178.1 1064,180.6 1062,183.3 1060,186.1 1058,189.1 1056,192 1054,195 1052,197.8 1050,200.6 1048,203.1 1046,205.4 1044,207.4 1042,209.1 1040,210.4 1038,211.3 1036,211.8 1034,211.9 1032,211.6 1030,210.8 1028,209.7 1026,208.1 1024,206.3 1022,204.1 1020,201.7 1018,199 1016,196.2 1014,193.3 1012,190.3 1010,187.4 1008,184.5 1006,181.7 1004,179.2 1002,176.8 1000,174.8 998,173 996,171.6 994,170.7 992,170.1 990,169.9 988,170.2 986,170.8 984,171.9 982,173.3 980,175.1 978,177.3 976,179.6 974,182.3 972,185.1 970,188 968,190.9 966,193.9 964,196.8 962,199.6 960,202.2 958,204.6 956,206.7 954,208.5 952,209.9 950,211 948,211.7 946,211.9 944,211.7 942,211.1 940,210.1 938,208.8 936,207 934,205 932,202.6 930,200 928,197.3 926,194.4 924,191.4 922,188.5 920,185.6 918,182.7 916,180.1 914,177.7 912,175.5 910,173.6 908,172.1 906,171 904,170.2 902,169.9 900,170 898,170.5 896,171.4 894,172.8 892,174.4 890,176.4 888,178.7 886,181.3 884,184 882,186.9 880,189.8 878,192.8 876,195.7 874,198.5 872,201.2 870,203.7 868,205.9 866,207.8 864,209.4 862,210.6 860,211.5 858,211.9 856,211.8 854,211.4 852,210.6 850,209.3 848,207.7 846,205.8 844,203.5 842,201 840,198.3 838,195.5 836,192.6 834,189.6 832,186.6 830,183.8 828,181.1 826,178.5 824,176.3 822,174.3 820,172.6 818,171.4 816,170.5 814,170 812,169.9 810,170.3 808,171.1 806,172.2 804,173.8 802,175.6 800,177.8 798,180.3 796,182.9 794,185.8 792,188.7 790,191.7 788,194.6 786,197.5 784,200.2 782,202.8 780,205.1 778,207.2 776,208.9 774,210.2 772,211.2 770,211.8 768,211.9 766,211.6 764,210.9 762,209.8 760,208.4 758,206.5 756,204.4 754,202 752,199.4 750,196.6 748,193.7 746,190.7 744,187.7 742,184.8 740,182.1 738,179.5 736,177.1 734,175 732,173.2 730,171.8 728,170.8 726,170.1 724,169.9 722,170.1 720,170.7 718,171.7 716,173.1 714,174.9 712,177 710,179.3 708,181.9 706,184.7 704,187.6 702,190.5 700,193.5 698,196.4 696,199.2 694,201.9 692,204.3 690,206.4 688,208.3 686,209.8 684,210.9 682,211.6 680,211.9 678,211.8 676,211.2 674,210.3 672,209 670,207.3 668,205.2 666,202.9 664,200.4 662,197.6 660,194.8 658,191.8 656,188.8 654,185.9 652,183.1 650,180.4 648,177.9 646,175.7 644,173.8 642,172.3 640,171.1 638,170.3 636,169.9 634,170 632,170.4 630,171.3 628,172.6 626,174.2 624,176.2 622,178.4 620,180.9 618,183.6 616,186.5 614,189.4 612,192.4 610,195.3 608,198.2 606,200.9 604,203.4 602,205.7 600,207.6 598,209.2 596,210.5 594,211.4 592,211.8 590,211.9 588,211.5 586,210.7 584,209.5 582,207.9 580,206 578,203.8 576,201.4 574,198.7 572,195.9 570,192.9 568,190 566,187 564,184.1 562,181.4 560,178.8 558,176.5 556,174.5 554,172.8 552,171.5 550,170.6 548,170 546,169.9 544,170.2 542,170.9 540,172.1 538,173.5 536,175.4 534,177.5 532,180 530,182.6 528,185.4 526,188.3 524,191.3 522,194.2 520,197.1 518,199.9 516,202.5 514,204.9 512,206.9 510,208.7 508,210.1 506,211.1 504,211.7 502,211.9 500,211.7 498,211 496,210 494,208.6 492,206.8 490,204.7 488,202.3 486,199.7 484,196.9 482,194 480,191.1 478,188.1 476,185.2 474,182.4 472,179.8 470,177.4 468,175.2 466,173.4 464,172 462,170.9 460,170.2 458,169.9 456,170.1 454,170.6 452,171.6 450,172.9 448,174.7 446,176.7 444,179 442,181.6 440,184.3 438,187.2 436,190.2 434,193.1 432,196.1 430,198.9 428,201.5 426,204 424,206.2 422,208.1 420,209.6 418,210.8 416,211.5 414,211.9 412,211.8 410,211.3 408,210.4 406,209.1 404,207.5 402,205.5 400,203.2 398,200.7 396,198 394,195.1 392,192.2 390,189.2 388,186.3 386,183.4 384,180.7 382,178.2 380,176 378,174.1 376,172.5 374,171.2 372,170.4 370,170 368,169.9 366,170.4 364,171.2 362,172.4 360,174 358,175.9 356,178.1 354,180.6 352,183.3 350,186.1 348,189.1 346,192 344,195 342,197.8 340,200.6 338,203.1 336,205.4 334,207.4 332,209.1 330,210.4 328,211.3 326,211.8 324,211.9 322,211.6 320,210.8 318,209.7 316,208.1 314,206.3 312,204.1 310,201.7 308,199 306,196.2 304,193.3 302,190.3 300,187.4 298,184.5 296,181.7 294,179.2 292,176.8 290,174.8 288,173 286,171.6 284,170.7 282,170.1 280,169.9 278,170.2 276,170.8 274,171.9 272,173.3 270,175.1 268,177.3 266,179.6 264,182.3 262,185.1 260,188 258,190.9 256,193.9 254,196.8 252,199.6 250,202.2 248,204.6 246,206.7 244,208.5 242,209.9 240,211 238,211.7 236,211.9 234,211.7 232,211.1 230,210.1 228,208.8 226,207 224,205 222,202.6 220,200 218,197.3 216,194.4 214,191.4 212,188.5 210,185.6 208,182.7 206,180.1 204,177.7 202,175.5 200,173.6 198,172.1 196,171 194,170.2 192,169.9 190,170 188,170.5 186,171.4 184,172.8 182,174.4 180,176.4 178,178.7 176,181.3 174,184 172,186.9 170,189.8 168,192.8 166,195.7 164,198.5 162,201.2 160,203.7 158,205.9 156,207.8 154,209.4 152,210.6 150,211.5 148,211.9 146,211.8 144,211.4 142,210.6 140,209.3 138,207.7 136,205.8 134,203.5 132,201 130,198.3 128,195.5 126,192.6 124,189.6 122,186.6 120,183.8 118,181.1 116,178.5 114,176.3 112,174.3 110,172.6 108,171.4 106,170.5 104,170 102,169.9 100,170.3 98,171.1 96,172.2 94,173.8 92,175.6 90,177.8 88,180.3 86,182.9 84,185.8 82,188.7 80,191.7 78,194.6 76,197.5 74,200.2 72,202.8" fill="#00e400" stroke="#00e400" stroke-width="0.8" stroke-linejoin="round"/>
<g fill="none" stroke-linejoin="round" stroke-linecap="butt">
<polyline points="72,719.5 74,723.5 76,726.7 78,728.9 80,730.1 82,730.5 84,729.9 86,728.4 88,726 90,722.6 92,718.4 94,713.3 96,707.3 98,700.6 100,693 102,684.7 104,675.7 106,666.1 108,655.8 110,645 112,633.7 114,621.9 116,609.7 118,597.3 120,584.5 122,571.6 124,558.5 126,545.3 128,532.2 130,519.1 132,506.1 134,493.3 136,480.8 138,468.6 140,456.8 142,445.4 144,434.5 146,424.2 148,414.4 150,405.4 152,397 154,389.3 156,382.5 158,376.4 160,371.2 162,366.9 164,363.4 166,360.9 168,359.2 170,358.5 172,358.8 174,359.9 176,362 178,365 180,368.9 182,373.7 184,379.3 186,385.8 188,393.1 190,401.1 192,409.8 194,419.2 196,429.3 198,439.9 200,451 202,462.6 204,474.7 206,487 208,499.7 210,512.6 212,525.6 214,538.7 216,551.9 218,565 220,578.1 222,590.9 224,603.5 226,615.9 228,627.8 230,639.4 232,650.5 234,661 236,671 238,680.3 240,689 242,696.9 244,704.1 246,710.4 248,715.9 250,720.6 252,724.4 254,727.3 256,729.3 258,730.3 260,730.4 262,729.6 264,727.9 266,725.2 268,721.6 270,717.2 272,711.9 274,705.7 276,698.8 278,691 280,682.5 282,673.4 284,663.6 286,653.2 288,642.2 290,630.8 292,618.9 294,606.7 296,594.1 298,581.3 300,568.3 302,555.2 304,542 306,528.9 308,515.8 310,502.9 312,490.2 314,477.7 316,465.6 318,453.9 320,442.6 322,431.9 324,421.7 326,412.1 328,403.2 330,395 332,387.5 334,380.9 336,375 338,370 340,365.9 342,362.7 344,360.4 346,359 348,358.5 350,359 352,360.4 354,362.7 356,365.9 358,370 360,375 362,380.9 364,387.5 366,395 368,403.2 370,412.1 372,421.7 374,431.9 376,442.6 378,453.9 380,465.6 382,477.7 384,490.2 386,502.9 388,515.8 390,528.9 392,542 394,555.2 396,568.3 398,581.3 400,594.1 402,606.7 404,618.9 406,630.8 408,642.2 410,653.2 412,663.6 414,673.4 416,682.5 418,691 420,698.8 422,705.7 424,711.9 426,717.2 428,721.6 430,725.2 432,727.9 434,729.6 436,730.4 438,730.3 440,729.3 442,727.3 444,724.4 446,720.6 448,715.9 450,710.4 452,704.1 454,696.9 456,689 458,680.3 460,671 462,661 464,650.5 466,639.4 468,627.8 470,615.9 472,603.5 474,590.9 476,578.1 478,565 480,551.9 482,538.7 484,525.6 486,512.6 488,499.7 490,487 492,474.7 494,462.6 496,451 498,439.9 500,429.3 502,419.2 504,409.8 506,401.1 508,393.1 510,385.8 512,379.3 514,373.7 516,368.9 518,365 520,362 522,359.9 524,358.8 526,358.5 528,359.2 530,360.9 532,363.4 534,366.9 536,371.2 538,376.4 540,382.5 542,389.3 544,397 546,405.4 548,414.4 550,424.2 552,434.5 554,445.4 556,456.8 558,468.6 560,480.8 562,493.3 564,506.1 566,519.1 568,532.2 570,545.3 572,558.5 574,571.6 576,584.5 578,597.3 580,609.7 582,621.9 584,633.7 586,645 588,655.8 590,666.1 592,675.7 594,684.7 596,693 598,700.6 600,707.3 602,713.3 604,718.4 606,722.6 608,726 610,728.4 612,729.9 614,730.5 616,730.1 618,728.9 620,726.7 622,723.5 624,719.5 626,714.6 628,708.9 630,702.3 632,695 634,686.9 636,678 638,668.6 640,658.4 642,647.8 644,636.5 646,624.9 648,612.8 650,600.4 652,587.7 654,574.8 656,561.8 658,548.6 660,535.5 662,522.3 664,509.3 666,496.5 668,483.9 670,471.6 672,459.7 674,448.2 676,437.2 678,426.7 680,416.8 682,407.6 684,399 686,391.2 688,384.1 690,377.8 692,372.4 694,367.9 696,364.2 698,361.4 700,359.5 702,358.6 704,358.6 706,359.5 708,361.4 710,364.2 712,367.9 714,372.4 716,377.8 718,384.1 720,391.2 722,399 724,407.6 726,416.8 728,426.7 730,437.2 732,448.2 734,459.7 736,471.6 738,483.9 740,496.5 742,509.3 744,522.3 746,535.5 748,548.6 750,561.8 752,574.8 754,587.7 756,600.4 758,612.8 760,624.9 762,636.5 764,647.8 766,658.4 768,668.6 770,678 772,686.9 774,695 776,702.3 778,708.9 780,714.6 782,719.5 784,723.5 786,726.7 788,728.9 790,730.1 792,730.5 794,729.9 796,728.4 798,726 800,722.6 802,718.4 804,713.3 806,707.3 808,700.6 810,693 812,684.7 814,675.7 816,666.1 818,655.8 820,645 822,633.7 824,621.9 826,609.7 828,597.3 830,584.5 832,571.6 834,558.5 836,545.3 838,532.2 840,519.1 842,506.1 844,493.3 846,480.8 848,468.6 850,456.8 852,445.4 854,434.5 856,424.2 858,414.4 860,405.4 862,397 864,389.3 866,382.5 868,376.4 870,371.2 872,366.9 874,363.4 876,360.9 878,359.2 880,358.5 882,358.8 884,359.9 886,362 888,365 890,368.9 892,373.7 894,379.3 896,385.8 898,393.1 900,401.1 902,409.8 904,419.2 906,429.3 908,439.9 910,451 912,462.6 914,474.7 916,487 918,499.7 920,512.6 922,525.6 924,538.7 926,551.9 928,565 930,578.1 932,590.9 934,603.5 936,615.9 938,627.8 940,639.4 942,650.5 944,661 946,671 948,680.3 950,689 952,696.9 954,704.1 956,710.4 958,715.9 960,720.6 962,724.4 964,727.3 966,729.3 968,730.3 970,730.4 972,729.6 974,727.9 976,725.2 978,721.6 980,717.2 982,711.9 984,705.7 986,698.8 988,691 990,682.5 992,673.4 994,663.6 996,653.2 998,642.2 1000,630.8 1002,618.9 1004,606.7 1006,594.1 1008,581.3 1010,568.3 1012,555.2 1014,542 1016,528.9 1018,515.8 1020,502.9 1022,490.2 1024,477.7 1026,465.6 1028,453.9 1030,442.6 1032,431.9 1034,421.7 1036,412.1 1038,403.2 1040,395 1042,387.5 1044,380.9 1046,375 1048,370 1050,365.9 1052,362.7 1054,360.4 1056,359 1058,358.5 1060,359 1062,360.4 1064,362.7 1066,365.9 1068,370 1070,375 1072,380.9 1074,387.5 1076,395 1078,403.2 1080,412.1 1082,421.7 1084,431.9 1086,442.6 1088,453.9 1090,465.6 1092,477.7 1094,490.2 1096,502.9 1098,515.8 1100,528.9 1102,542 1104,555.2 1106,568.3 1108,581.3 1110,594.1 1112,606.7 1114,618.9 1116,630.8 1118,642.2 1120,653.2 1122,663.6 1124,673.4 1126,682.5 1128,691 1130,698.8 1132,705.7 1134,711.9 1136,717.2 1138,721.6 1140,725.2 1142,727.9 1144,729.6 1146,730.4 1148,730.3 1150,729.3 1152,727.3 1154,724.4 1156,720.6 1158,715.9 1160,710.4 1162,704.1 1164,696.9 1166,689 1168,680.3 1170,671 1172,661 1174,650.5 1176,639.4 1178,627.8 1180,615.9 1182,603.5 1184,590.9 1186,578.1 1188,565 1190,551.9 1192,538.7 1194,525.6 1196,512.6 1198,499.7 1200,487 1202,474.7 1204,462.6 1206,451 1208,439.9 1210,429.3 1212,419.2 1214,409.8 1216,401.1 1218,393.1 1220,385.8 1222,379.3 1224,373.7 1226,368.9 1228,365 1230,362 1232,359.9 1234,358.8 1236,358.5 1238,359.2 1240,360.9 1242,363.4 1244,366.9 1246,371.2 1248,376.4 1250,382.5 1252,389.3 1254,397 1256,405.4 1258,414.4 1260,424.2 1262,434.5 1264,445.4 1266,456.8 1268,468.6 1270,480.8 1272,493.3 1274,506.1 1276,519.1 1278,532.2 1280,545.3 1282,558.5 1284,571.6 1286,584.5 1288,597.3 1290,609.7 1292,621.9 1294,633.7 1296,645 1298,655.8 1300,666.1 1302,675.7 1304,684.7 1306,693 1308,700.6 1310,707.3 1312,713.3 1314,718.4 1316,722.6 1318,726 1320,728.4 1322,729.9 1324,730.5 1326,730.1 1328,728.9 1330,726.7 1332,723.5 1334,719.5 1336,714.6 1338,708.9 1340,702.3 1342,695 1344,686.9 1346,678 1348,668.6 1350,658.4 1352,647.8 1354,636.5 1356,624.9 1358,612.8 1360,600.4 1362,587.7 1364,574.8 1366,561.8 1368,548.6 1370,535.5 1372,522.3 1374,509.3 1376,496.5 1378,483.9 1380,471.6 1382,459.7 1384,448.2 1386,437.2 1388,426.7 1390,416.8 1392,407.6 1394,399 1396,391.2 1398,384.1 1400,377.8 1402,372.4 1404,367.9 1406,364.2 1408,361.4 1410,359.5 1412,358.6 1414,358.6 1416,359.5 1418,361.4 1420,364.2 1422,367.9 1424,372.4 1426,377.8 1428,384.1 1430,391.2 1432,399 1434,407.6 1436,416.8 1438,426.7 1440,437.2 1442,448.2 1444,459.7 1446,471.6 1448,483.9 1450,496.5 1452,509.3 1454,522.3 1456,535.5 1458,548.6 1460,561.8 1462,574.8 1464,587.7 1466,600.4 1468,612.8 1470,624.9 1472,636.5 1474,647.8 1476,658.4 1478,668.6 1480,678 1482,686.9 1484,695 1486,702.3 1488,708.9 1490,714.6 1492,719.5 1494,723.5 1496,726.7 1498,728.9 1500,730.1 1502,730.5 1504,729.9 1506,728.4 1508,726 1510,722.6 1512,718.4 1514,713.3 1516,707.3 1518,700.6 1520,693 1522,684.7 1524,675.7 1526,666.1 1528,655.8 1530,645 1532,633.7 1534,621.9 1536,609.7 1538,597.3 1540,584.5 1542,571.6 1544,558.5 1546,545.3 1548,532.2 1550,519.1 1552,506.1 1554,493.3 1556,480.8 1558,468.6 1560,456.8 1562,445.4 1564,434.5 1566,424.2 1568,414.4 1570,405.4 1572,397 1574,389.3 1576,382.5 1578,376.4 1580,371.2 1582,366.9 1584,363.4 1586,360.9 1588,359.2 1590,358.5 1592,358.8 1594,359.9 1596,362 1598,365 1600,368.9 1602,373.7 1604,379.3 1606,385.8 1608,393.1 1610,401.1 1612,409.8 1614,419.2 1616,429.3 1618,439.9 1620,451 1622,462.6 1624,474.7 1626,487 1628,499.7 1630,512.6 1632,525.6 1634,538.7 1636,551.9 1638,565 1640,578.1 1642,590.9 1644,603.5 1646,615.9 1648,627.8 1650,639.4 1652,650.5 1654,661 1656,671 1658,680.3 1660,689 1662,696.9 1664,704.1 1666,710.4 1668,715.9 1670,720.6 1672,724.4 1674,727.3 1676,729.3 1678,730.3 1680,730.4 1682,729.6 1684,727.9 1686,725.2 1688,721.6 1690,717.2 1692,711.9 1694,705.7 1696,698.8 1698,691 1700,682.5 1702,673.4 1704,663.6 1706,653.2 1708,642.2 1710,630.8 1712,618.9 1714,606.7 1716,594.1 1718,581.3 1720,568.3 1722,555.2 1724,542 1726,528.9 1728,515.8 1730,502.9 1732,490.2 1734,477.7 1736,465.6 1738,453.9 1740,442.6 1742,431.9 1744,421.7 1746,412.1 1748,403.2 1750,395 1752,387.5 1754,380.9 1756,375 1758,370 1760,365.9 1762,362.7 1764,360.4 1766,359 1768,358.5 1770,359 1772,360.4 1774,362.7 1776,365.9 1778,370 1780,375 1782,380.9 1784,387.5 1786,395 1788,403.2 1790,412.1 1792,421.7 1794,431.9 1796,442.6 1798,453.9 1800,465.6 1802,477.7 1804,490.2 1806,502.9 1808,515.8 1810,528.9 1812,542 1814,555.2 1816,568.3 1818,581.3 1820,594.1 1822,606.7 1824,618.9 1826,630.8 1828,642.2 1830,653.2 1832,663.6 1834,673.4 1836,682.5 1838,691 1840,698.8 1842,705.7 1844,711.9" stroke="#1ce2e2" stroke-width="3.1"/>
<polyline points="72,722.5 74,726.5 76,729.7 78,731.9 80,733.1 82,733.5 84,732.9 86,731.4 88,729 90,725.6 92,721.4 94,716.3 96,710.3 98,703.6 100,696 102,687.7 104,678.7 106,669.1 108,658.8 110,648 112,636.7 114,624.9 116,612.7 118,600.3 120,587.5 122,574.6 124,561.5 126,548.3 128,535.2 130,522.1 132,509.1 134,496.3 136,483.8 138,471.6 140,459.8 142,448.4 144,437.5 146,427.2 148,417.4 150,408.4 152,400 154,392.3 156,385.5 158,379.4 160,374.2 162,369.9 164,366.4 166,363.9 168,362.2 170,361.5 172,361.8 174,362.9 176,365 178,368 180,371.9 182,376.7 184,382.3 186,388.8 188,396.1 190,404.1 192,412.8 194,422.2 196,432.3 198,442.9 200,454 202,465.6 204,477.7 206,490 208,502.7 210,515.6 212,528.6 214,541.7 216,554.9 218,568 220,581.1 222,593.9 224,606.5 226,618.9 228,630.8 230,642.4 232,653.5 234,664 236,674 238,683.3 240,692 242,699.9 244,707.1 246,713.4 248,718.9 250,723.6 252,727.4 254,730.3 256,732.3 258,733.3 260,733.4 262,732.6 264,730.9 266,728.2 268,724.6 270,720.2 272,714.9 274,708.7 276,701.8 278,694 280,685.5 282,676.4 284,666.6 286,656.2 288,645.2 290,633.8 292,621.9 294,609.7 296,597.1 298,584.3 300,571.3 302,558.2 304,545 306,531.9 308,518.8 310,505.9 312,493.2 314,480.7 316,468.6 318,456.9 320,445.6 322,434.9 324,424.7 326,415.1 328,406.2 330,398 332,390.5 334,383.9 336,378 338,373 340,368.9 342,365.7 344,363.4 346,362 348,361.5 350,362 352,363.4 354,365.7 356,368.9 358,373 360,378 362,383.9 364,390.5 366,398 368,406.2 370,415.1 372,424.7 374,434.9 376,445.6 378,456.9 380,468.6 382,480.7 384,493.2 386,505.9 388,518.8 390,531.9 392,545 394,558.2 396,571.3 398,584.3 400,597.1 402,609.7 404,621.9 406,633.8 408,645.2 410,656.2 412,666.6 414,676.4 416,685.5 418,694 420,701.8 422,708.7 424,714.9 426,720.2 428,724.6 430,728.2 432,730.9 434,732.6 436,733.4 438,733.3 440,732.3 442,730.3 444,727.4 446,723.6 448,718.9 450,713.4 452,707.1 454,699.9 456,692 458,683.3 460,674 462,664 464,653.5 466,642.4 468,630.8 470,618.9 472,606.5 474,593.9 476,581.1 478,568 480,554.9 482,541.7 484,528.6 486,515.6 488,502.7 490,490 492,477.7 494,465.6 496,454 498,442.9 500,432.3 502,422.2 504,412.8 506,404.1 508,396.1 510,388.8 512,382.3 514,376.7 516,371.9 518,368 520,365 522,362.9 524,361.8 526,361.5 528,362.2 530,363.9 532,366.4 534,369.9 536,374.2 538,379.4 540,385.5 542,392.3 544,400 546,408.4 548,417.4 550,427.2 552,437.5 554,448.4 556,459.8 558,471.6 560,483.8 562,496.3 564,509.1 566,522.1 568,535.2 570,548.3 572,561.5 574,574.6 576,587.5 578,600.3 580,612.7 582,624.9 584,636.7 586,648 588,658.8 590,669.1 592,678.7 594,687.7 596,696 598,703.6 600,710.3 602,716.3 604,721.4 606,725.6 608,729 610,731.4 612,732.9 614,733.5 616,733.1 618,731.9 620,729.7 622,726.5 624,722.5 626,717.6 628,711.9 630,705.3 632,698 634,689.9 636,681 638,671.6 640,661.4 642,650.8 644,639.5 646,627.9 648,615.8 650,603.4 652,590.7 654,577.8 656,564.8 658,551.6 660,538.5 662,525.3 664,512.3 666,499.5 668,486.9 670,474.6 672,462.7 674,451.2 676,440.2 678,429.7 680,419.8 682,410.6 684,402 686,394.2 688,387.1 690,380.8 692,375.4 694,370.9 696,367.2 698,364.4 700,362.5 702,361.6 704,361.6 706,362.5 708,364.4 710,367.2 712,370.9 714,375.4 716,380.8 718,387.1 720,394.2 722,402 724,410.6 726,419.8 728,429.7 730,440.2 732,451.2 734,462.7 736,474.6 738,486.9 740,499.5 742,512.3 744,525.3 746,538.5 748,551.6 750,564.8 752,577.8 754,590.7 756,603.4 758,615.8 760,627.9 762,639.5 764,650.8 766,661.4 768,671.6 770,681 772,689.9 774,698 776,705.3 778,711.9 780,717.6 782,722.5 784,726.5 786,729.7 788,731.9 790,733.1 792,733.5 794,732.9 796,731.4 798,729 800,725.6 802,721.4 804,716.3 806,710.3 808,703.6 810,696 812,687.7 814,678.7 816,669.1 818,658.8 820,648 822,636.7 824,624.9 826,612.7 828,600.3 830,587.5 832,574.6 834,561.5 836,548.3 838,535.2 840,522.1 842,509.1 844,496.3 846,483.8 848,471.6 850,459.8 852,448.4 854,437.5 856,427.2 858,417.4 860,408.4 862,400 864,392.3 866,385.5 868,379.4 870,374.2 872,369.9 874,366.4 876,363.9 878,362.2 880,361.5 882,361.8 884,362.9 886,365 888,368 890,371.9 892,376.7 894,382.3 896,388.8 898,396.1 900,404.1 902,412.8 904,422.2 906,432.3 908,442.9 910,454 912,465.6 914,477.7 916,490 918,502.7 920,515.6 922,528.6 924,541.7 926,554.9 928,568 930,581.1 932,593.9 934,606.5 936,618.9 938,630.8 940,642.4 942,653.5 944,664 946,674 948,683.3 950,692 952,699.9 954,707.1 956,713.4 958,718.9 960,723.6 962,727.4 964,730.3 966,732.3 968,733.3 970,733.4 972,732.6 974,730.9 976,728.2 978,724.6 980,720.2 982,714.9 984,708.7 986,701.8 988,694 990,685.5 992,676.4 994,666.6 996,656.2 998,645.2 1000,633.8 1002,621.9 1004,609.7 1006,597.1 1008,584.3 1010,571.3 1012,558.2 1014,545 1016,531.9 1018,518.8 1020,505.9 1022,493.2 1024,480.7 1026,468.6 1028,456.9 1030,445.6 1032,434.9 1034,424.7 1036,415.1 1038,406.2 1040,398 1042,390.5 1044,383.9 1046,378 1048,373 1050,368.9 1052,365.7 1054,363.4 1056,362 1058,361.5 1060,362 1062,363.4 1064,365.7 1066,368.9 1068,373 1070,378 1072,383.9 1074,390.5 1076,398 1078,406.2 1080,415.1 1082,424.7 1084,434.9 1086,445.6 1088,456.9 1090,468.6 1092,480.7 1094,493.2 1096,505.9 1098,518.8 1100,531.9 1102,545 1104,558.2 1106,571.3 1108,584.3 1110,597.1 1112,609.7 1114,621.9 1116,633.8 1118,645.2 1120,656.2 1122,666.6 1124,676.4 1126,685.5 1128,694 1130,701.8 1132,708.7 1134,714.9 1136,720.2 1138,724.6 1140,728.2 1142,730.9 1144,732.6 1146,733.4 1148,733.3 1150,732.3 1152,730.3 1154,727.4 1156,723.6 1158,718.9 1160,713.4 1162,707.1 1164,699.9 1166,692 1168,683.3 1170,674 1172,664 1174,653.5 1176,642.4 1178,630.8 1180,618.9 1182,606.5 1184,593.9 1186,581.1 1188,568 1190,554.9 1192,541.7 1194,528.6 1196,515.6 1198,502.7 1200,490 1202,477.7 1204,465.6 1206,454 1208,442.9 1210,432.3 1212,422.2 1214,412.8 1216,404.1 1218,396.1 1220,388.8 1222,382.3 1224,376.7 1226,371.9 1228,368 1230,365 1232,362.9 1234,361.8 1236,361.5 1238,362.2 1240,363.9 1242,366.4 1244,369.9 1246,374.2 1248,379.4 1250,385.5 1252,392.3 1254,400 1256,408.4 1258,417.4 1260,427.2 1262,437.5 1264,448.4 1266,459.8 1268,471.6 1270,483.8 1272,496.3 1274,509.1 1276,522.1 1278,535.2 1280,548.3 1282,561.5 1284,574.6 1286,587.5 1288,600.3 1290,612.7 1292,624.9 1294,636.7 1296,648 1298,658.8 1300,669.1 1302,678.7 1304,687.7 1306,696 1308,703.6 1310,710.3 1312,716.3 1314,721.4 1316,725.6 1318,729 1320,731.4 1322,732.9 1324,733.5 1326,733.1 1328,731.9 1330,729.7 1332,726.5 1334,722.5 1336,717.6 1338,711.9 1340,705.3 1342,698 1344,689.9 1346,681 1348,671.6 1350,661.4 1352,650.8 1354,639.5 1356,627.9 1358,615.8 1360,603.4 1362,590.7 1364,577.8 1366,564.8 1368,551.6 1370,538.5 1372,525.3 1374,512.3 1376,499.5 1378,486.9 1380,474.6 1382,462.7 1384,451.2 1386,440.2 1388,429.7 1390,419.8 1392,410.6 1394,402 1396,394.2 1398,387.1 1400,380.8 1402,375.4 1404,370.9 1406,367.2 1408,364.4 1410,362.5 1412,361.6 1414,361.6 1416,362.5 1418,364.4 1420,367.2 1422,370.9 1424,375.4 1426,380.8 1428,387.1 1430,394.2 1432,402 1434,410.6 1436,419.8 1438,429.7 1440,440.2 1442,451.2 1444,462.7 1446,474.6 1448,486.9 1450,499.5 1452,512.3 1454,525.3 1456,538.5 1458,551.6 1460,564.8 1462,577.8 1464,590.7 1466,603.4 1468,615.8 1470,627.9 1472,639.5 1474,650.8 1476,661.4 1478,671.6 1480,681 1482,689.9 1484,698 1486,705.3 1488,711.9 1490,717.6 1492,722.5 1494,726.5 1496,729.7 1498,731.9 1500,733.1 1502,733.5 1504,732.9 1506,731.4 1508,729 1510,725.6 1512,721.4 1514,716.3 1516,710.3 1518,703.6 1520,696 1522,687.7 1524,678.7 1526,669.1 1528,658.8 1530,648 1532,636.7 1534,624.9 1536,612.7 1538,600.3 1540,587.5 1542,574.6 1544,561.5 1546,548.3 1548,535.2 1550,522.1 1552,509.1 1554,496.3 1556,483.8 1558,471.6 1560,459.8 1562,448.4 1564,437.5 1566,427.2 1568,417.4 1570,408.4 1572,400 1574,392.3 1576,385.5 1578,379.4 1580,374.2 1582,369.9 1584,366.4 1586,363.9 1588,362.2 1590,361.5 1592,361.8 1594,362.9 1596,365 1598,368 1600,371.9 1602,376.7 1604,382.3 1606,388.8 1608,396.1 1610,404.1 1612,412.8 1614,422.2 1616,432.3 1618,442.9 1620,454 1622,465.6 1624,477.7 1626,490 1628,502.7 1630,515.6 1632,528.6 1634,541.7 1636,554.9 1638,568 1640,581.1 1642,593.9 1644,606.5 1646,618.9 1648,630.8 1650,642.4 1652,653.5 1654,664 1656,674 1658,683.3 1660,692 1662,699.9 1664,707.1 1666,713.4 1668,718.9 1670,723.6 1672,727.4 1674,730.3 1676,732.3 1678,733.3 1680,733.4 1682,732.6 1684,730.9 1686,728.2 1688,724.6 1690,720.2 1692,714.9 1694,708.7 1696,701.8 1698,694 1700,685.5 1702,676.4 1704,666.6 1706,656.2 1708,645.2 1710,633.8 1712,621.9 1714,609.7 1716,597.1 1718,584.3 1720,571.3 1722,558.2 1724,545 1726,531.9 1728,518.8 1730,505.9 1732,493.2 1734,480.7 1736,468.6 1738,456.9 1740,445.6 1742,434.9 1744,424.7 1746,415.1 1748,406.2 1750,398 1752,390.5 1754,383.9 1756,378 1758,373 1760,368.9 1762,365.7 1764,363.4 1766,362 1768,361.5 1770,362 1772,363.4 1774,365.7 1776,368.9 1778,373 1780,378 1782,383.9 1784,390.5 1786,398 1788,406.2 1790,415.1 1792,424.7 1794,434.9 1796,445.6 1798,456.9 1800,468.6 1802,480.7 1804,493.2 1806,505.9 1808,518.8 1810,531.9 1812,545 1814,558.2 1816,571.3 1818,584.3 1820,597.1 1822,609.7 1824,621.9 1826,633.8 1828,645.2 1830,656.2 1832,666.6 1834,676.4 1836,685.5 1838,694 1840,701.8 1842,708.7 1844,714.9" stroke="#1ce2e2" stroke-width="3.1"/>
<polyline points="72,721 74,725 76,728.2 78,730.4 80,731.6 82,732 84,731.4 86,729.9 88,727.5 90,724.1 92,719.9 94,714.8 96,708.8 98,702.1 100,694.5 102,686.2 104,677.2 106,667.6 108,657.3 110,646.5 112,635.2 114,623.4 116,611.2 118,598.8 120,586 122,573.1 124,560 126,546.8 128,533.7 130,520.6 132,507.6 134,494.8 136,482.3 138,470.1 140,458.3 142,446.9 144,436 146,425.7 148,415.9 150,406.9 152,398.5 154,390.8 156,384 158,377.9 160,372.7 162,368.4 164,364.9 166,362.4 168,360.7 170,360 172,360.3 174,361.4 176,363.5 178,366.5 180,370.4 182,375.2 184,380.8 186,387.3 188,394.6 190,402.6 192,411.3 194,420.7 196,430.8 198,441.4 200,452.5 202,464.1 204,476.2 206,488.5 208,501.2 210,514.1 212,527.1 214,540.2 216,553.4 218,566.5 220,579.6 222,592.4 224,605 226,617.4 228,629.3 230,640.9 232,652 234,662.5 236,672.5 238,681.8 240,690.5 242,698.4 244,705.6 246,711.9 248,717.4 250,722.1 252,725.9 254,728.8 256,730.8 258,731.8 260,731.9 262,731.1 264,729.4 266,726.7 268,723.1 270,718.7 272,713.4 274,707.2 276,700.3 278,692.5 280,684 282,674.9 284,665.1 286,654.7 288,643.7 290,632.3 292,620.4 294,608.2 296,595.6 298,582.8 300,569.8 302,556.7 304,543.5 306,530.4 308,517.3 310,504.4 312,491.7 314,479.2 316,467.1 318,455.4 320,444.1 322,433.4 324,423.2 326,413.6 328,404.7 330,396.5 332,389 334,382.4 336,376.5 338,371.5 340,367.4 342,364.2 344,361.9 346,360.5 348,360 350,360.5 352,361.9 354,364.2 356,367.4 358,371.5 360,376.5 362,382.4 364,389 366,396.5 368,404.7 370,413.6 372,423.2 374,433.4 376,444.1 378,455.4 380,467.1 382,479.2 384,491.7 386,504.4 388,517.3 390,530.4 392,543.5 394,556.7 396,569.8 398,582.8 400,595.6 402,608.2 404,620.4 406,632.3 408,643.7 410,654.7 412,665.1 414,674.9 416,684 418,692.5 420,700.3 422,707.2 424,713.4 426,718.7 428,723.1 430,726.7 432,729.4 434,731.1 436,731.9 438,731.8 440,730.8 442,728.8 444,725.9 446,722.1 448,717.4 450,711.9 452,705.6 454,698.4 456,690.5 458,681.8 460,672.5 462,662.5 464,652 466,640.9 468,629.3 470,617.4 472,605 474,592.4 476,579.6 478,566.5 480,553.4 482,540.2 484,527.1 486,514.1 488,501.2 490,488.5 492,476.2 494,464.1 496,452.5 498,441.4 500,430.8 502,420.7 504,411.3 506,402.6 508,394.6 510,387.3 512,380.8 514,375.2 516,370.4 518,366.5 520,363.5 522,361.4 524,360.3 526,360 528,360.7 530,362.4 532,364.9 534,368.4 536,372.7 538,377.9 540,384 542,390.8 544,398.5 546,406.9 548,415.9 550,425.7 552,436 554,446.9 556,458.3 558,470.1 560,482.3 562,494.8 564,507.6 566,520.6 568,533.7 570,546.8 572,560 574,573.1 576,586 578,598.8 580,611.2 582,623.4 584,635.2 586,646.5 588,657.3 590,667.6 592,677.2 594,686.2 596,694.5 598,702.1 600,708.8 602,714.8 604,719.9 606,724.1 608,727.5 610,729.9 612,731.4 614,732 616,731.6 618,730.4 620,728.2 622,725 624,721 626,716.1 628,710.4 630,703.8 632,696.5 634,688.4 636,679.5 638,670.1 640,659.9 642,649.3 644,638 646,626.4 648,614.3 650,601.9 652,589.2 654,576.3 656,563.3 658,550.1 660,537 662,523.8 664,510.8 666,498 668,485.4 670,473.1 672,461.2 674,449.7 676,438.7 678,428.2 680,418.3 682,409.1 684,400.5 686,392.7 688,385.6 690,379.3 692,373.9 694,369.4 696,365.7 698,362.9 700,361 702,360.1 704,360.1 706,361 708,362.9 710,365.7 712,369.4 714,373.9 716,379.3 718,385.6 720,392.7 722,400.5 724,409.1 726,418.3 728,428.2 730,438.7 732,449.7 734,461.2 736,473.1 738,485.4 740,498 742,510.8 744,523.8 746,537 748,550.1 750,563.3 752,576.3 754,589.2 756,601.9 758,614.3 760,626.4 762,638 764,649.3 766,659.9 768,670.1 770,679.5 772,688.4 774,696.5 776,703.8 778,710.4 780,716.1 782,721 784,725 786,728.2 788,730.4 790,731.6 792,732 794,731.4 796,729.9 798,727.5 800,724.1 802,719.9 804,714.8 806,708.8 808,702.1 810,694.5 812,686.2 814,677.2 816,667.6 818,657.3 820,646.5 822,635.2 824,623.4 826,611.2 828,598.8 830,586 832,573.1 834,560 836,546.8 838,533.7 840,520.6 842,507.6 844,494.8 846,482.3 848,470.1 850,458.3 852,446.9 854,436 856,425.7 858,415.9 860,406.9 862,398.5 864,390.8 866,384 868,377.9 870,372.7 872,368.4 874,364.9 876,362.4 878,360.7 880,360 882,360.3 884,361.4 886,363.5 888,366.5 890,370.4 892,375.2 894,380.8 896,387.3 898,394.6 900,402.6 902,411.3 904,420.7 906,430.8 908,441.4 910,452.5 912,464.1 914,476.2 916,488.5 918,501.2 920,514.1 922,527.1 924,540.2 926,553.4 928,566.5 930,579.6 932,592.4 934,605 936,617.4 938,629.3 940,640.9 942,652 944,662.5 946,672.5 948,681.8 950,690.5 952,698.4 954,705.6 956,711.9 958,717.4 960,722.1 962,725.9 964,728.8 966,730.8 968,731.8 970,731.9 972,731.1 974,729.4 976,726.7 978,723.1 980,718.7 982,713.4 984,707.2 986,700.3 988,692.5 990,684 992,674.9 994,665.1 996,654.7 998,643.7 1000,632.3 1002,620.4 1004,608.2 1006,595.6 1008,582.8 1010,569.8 1012,556.7 1014,543.5 1016,530.4 1018,517.3 1020,504.4 1022,491.7 1024,479.2 1026,467.1 1028,455.4 1030,444.1 1032,433.4 1034,423.2 1036,413.6 1038,404.7 1040,396.5 1042,389 1044,382.4 1046,376.5 1048,371.5 1050,367.4 1052,364.2 1054,361.9 1056,360.5 1058,360 1060,360.5 1062,361.9 1064,364.2 1066,367.4 1068,371.5 1070,376.5 1072,382.4 1074,389 1076,396.5 1078,404.7 1080,413.6 1082,423.2 1084,433.4 1086,444.1 1088,455.4 1090,467.1 1092,479.2 1094,491.7 1096,504.4 1098,517.3 1100,530.4 1102,543.5 1104,556.7 1106,569.8 1108,582.8 1110,595.6 1112,608.2 1114,620.4 1116,632.3 1118,643.7 1120,654.7 1122,665.1 1124,674.9 1126,684 1128,692.5 1130,700.3 1132,707.2 1134,713.4 1136,718.7 1138,723.1 1140,726.7 1142,729.4 1144,731.1 1146,731.9 1148,731.8 1150,730.8 1152,728.8 1154,725.9 1156,722.1 1158,717.4 1160,711.9 1162,705.6 1164,698.4 1166,690.5 1168,681.8 1170,672.5 1172,662.5 1174,652 1176,640.9 1178,629.3 1180,617.4 1182,605 1184,592.4 1186,579.6 1188,566.5 1190,553.4 1192,540.2 1194,527.1 1196,514.1 1198,501.2 1200,488.5 1202,476.2 1204,464.1 1206,452.5 1208,441.4 1210,430.8 1212,420.7 1214,411.3 1216,402.6 1218,394.6 1220,387.3 1222,380.8 1224,375.2 1226,370.4 1228,366.5 1230,363.5 1232,361.4 1234,360.3 1236,360 1238,360.7 1240,362.4 1242,364.9 1244,368.4 1246,372.7 1248,377.9 1250,384 1252,390.8 1254,398.5 1256,406.9 1258,415.9 1260,425.7 1262,436 1264,446.9 1266,458.3 1268,470.1 1270,482.3 1272,494.8 1274,507.6 1276,520.6 1278,533.7 1280,546.8 1282,560 1284,573.1 1286,586 1288,598.8 1290,611.2 1292,623.4 1294,635.2 1296,646.5 1298,657.3 1300,667.6 1302,677.2 1304,686.2 1306,694.5 1308,702.1 1310,708.8 1312,714.8 1314,719.9 1316,724.1 1318,727.5 1320,729.9 1322,731.4 1324,732 1326,731.6 1328,730.4 1330,728.2 1332,725 1334,721 1336,716.1 1338,710.4 1340,703.8 1342,696.5 1344,688.4 1346,679.5 1348,670.1 1350,659.9 1352,649.3 1354,638 1356,626.4 1358,614.3 1360,601.9 1362,589.2 1364,576.3 1366,563.3 1368,550.1 1370,537 1372,523.8 1374,510.8 1376,498 1378,485.4 1380,473.1 1382,461.2 1384,449.7 1386,438.7 1388,428.2 1390,418.3 1392,409.1 1394,400.5 1396,392.7 1398,385.6 1400,379.3 1402,373.9 1404,369.4 1406,365.7 1408,362.9 1410,361 1412,360.1 1414,360.1 1416,361 1418,362.9 1420,365.7 1422,369.4 1424,373.9 1426,379.3 1428,385.6 1430,392.7 1432,400.5 1434,409.1 1436,418.3 1438,428.2 1440,438.7 1442,449.7 1444,461.2 1446,473.1 1448,485.4 1450,498 1452,510.8 1454,523.8 1456,537 1458,550.1 1460,563.3 1462,576.3 1464,589.2 1466,601.9 1468,614.3 1470,626.4 1472,638 1474,649.3 1476,659.9 1478,670.1 1480,679.5 1482,688.4 1484,696.5 1486,703.8 1488,710.4 1490,716.1 1492,721 1494,725 1496,728.2 1498,730.4 1500,731.6 1502,732 1504,731.4 1506,729.9 1508,727.5 1510,724.1 1512,719.9 1514,714.8 1516,708.8 1518,702.1 1520,694.5 1522,686.2 1524,677.2 1526,667.6 1528,657.3 1530,646.5 1532,635.2 1534,623.4 1536,611.2 1538,598.8 1540,586 1542,573.1 1544,560 1546,546.8 1548,533.7 1550,520.6 1552,507.6 1554,494.8 1556,482.3 1558,470.1 1560,458.3 1562,446.9 1564,436 1566,425.7 1568,415.9 1570,406.9 1572,398.5 1574,390.8 1576,384 1578,377.9 1580,372.7 1582,368.4 1584,364.9 1586,362.4 1588,360.7 1590,360 1592,360.3 1594,361.4 1596,363.5 1598,366.5 1600,370.4 1602,375.2 1604,380.8 1606,387.3 1608,394.6 1610,402.6 1612,411.3 1614,420.7 1616,430.8 1618,441.4 1620,452.5 1622,464.1 1624,476.2 1626,488.5 1628,501.2 1630,514.1 1632,527.1 1634,540.2 1636,553.4 1638,566.5 1640,579.6 1642,592.4 1644,605 1646,617.4 1648,629.3 1650,640.9 1652,652 1654,662.5 1656,672.5 1658,681.8 1660,690.5 1662,698.4 1664,705.6 1666,711.9 1668,717.4 1670,722.1 1672,725.9 1674,728.8 1676,730.8 1678,731.8 1680,731.9 1682,731.1 1684,729.4 1686,726.7 1688,723.1 1690,718.7 1692,713.4 1694,707.2 1696,700.3 1698,692.5 1700,684 1702,674.9 1704,665.1 1706,654.7 1708,643.7 1710,632.3 1712,620.4 1714,608.2 1716,595.6 1718,582.8 1720,569.8 1722,556.7 1724,543.5 1726,530.4 1728,517.3 1730,504.4 1732,491.7 1734,479.2 1736,467.1 1738,455.4 1740,444.1 1742,433.4 1744,423.2 1746,413.6 1748,404.7 1750,396.5 1752,389 1754,382.4 1756,376.5 1758,371.5 1760,367.4 1762,364.2 1764,361.9 1766,360.5 1768,360 1770,360.5 1772,361.9 1774,364.2 1776,367.4 1778,371.5 1780,376.5 1782,382.4 1784,389 1786,396.5 1788,404.7 1790,413.6 1792,423.2 1794,433.4 1796,444.1 1798,455.4 1800,467.1 1802,479.2 1804,491.7 1806,504.4 1808,517.3 1810,530.4 1812,543.5 1814,556.7 1816,569.8 1818,582.8 1820,595.6 1822,608.2 1824,620.4 1826,632.3 1828,643.7 1830,654.7 1832,665.1 1834,674.9 1836,684 1838,692.5 1840,700.3 1842,707.2 1844,713.4" stroke="#126f6f" stroke-width="3.4" stroke-dasharray="3.2 8.2"/>
<polyline points="72,651.3 74,652.4 76,652.9 78,652.9 80,652.4 82,651.4 84,649.8 86,647.7 88,645.1 90,642 92,638.4 94,634.3 96,629.8 98,624.9 100,619.6 102,613.9 104,607.9 106,601.6 108,595 110,588.1 112,581 114,573.8 116,566.4 118,558.9 120,551.4 122,543.8 124,536.3 126,528.7 128,521.3 130,514 132,506.9 134,499.9 136,493.2 138,486.8 140,480.6 142,474.8 144,469.3 146,464.2 148,459.5 150,455.3 152,451.5 154,448.2 156,445.4 158,443.1 160,441.2 162,440 164,439.2 166,439 168,439.3 170,440.2 172,441.6 174,443.5 176,445.9 178,448.8 180,452.2 182,456.1 184,460.4 186,465.2 188,470.4 190,475.9 192,481.8 194,488 196,494.5 198,501.3 200,508.3 202,515.5 204,522.8 206,530.2 208,537.8 210,545.3 212,552.9 214,560.4 216,567.9 218,575.3 220,582.5 222,589.5 224,596.3 226,602.9 228,609.1 230,615.1 232,620.7 234,625.9 236,630.7 238,635.2 240,639.1 242,642.6 244,645.6 246,648.1 248,650.1 250,651.6 252,652.6 254,653 256,652.9 258,652.2 260,651 262,649.3 264,647.1 266,644.3 268,641.1 270,637.4 272,633.2 274,628.6 276,623.6 278,618.2 280,612.4 282,606.3 284,599.9 286,593.3 288,586.4 290,579.2 292,572 294,564.6 296,557.1 298,549.5 300,541.9 302,534.4 304,526.9 306,519.5 308,512.2 310,505.1 312,498.2 314,491.6 316,485.2 318,479.1 320,473.4 322,468 324,463 326,458.4 328,454.3 330,450.6 332,447.4 334,444.7 336,442.6 338,440.9 340,439.7 342,439.1 344,439 346,439.5 348,440.5 350,442 352,444 354,446.6 356,449.6 358,453.2 360,457.2 362,461.6 364,466.5 366,471.7 368,477.4 370,483.3 372,489.6 374,496.2 376,503 378,510.1 380,517.3 382,524.6 384,532.1 386,539.7 388,547.2 390,554.8 392,562.3 394,569.8 396,577.1 398,584.2 400,591.2 402,598 404,604.4 406,610.6 408,616.5 410,622 412,627.2 414,631.9 416,636.2 418,640 420,643.4 422,646.3 424,648.7 426,650.6 428,651.9 430,652.7 432,653 434,652.7 436,652 438,650.6 440,648.8 442,646.4 444,643.6 446,640.2 448,636.4 450,632.1 452,627.4 454,622.3 456,616.8 458,610.9 460,604.8 462,598.3 464,591.6 466,584.6 468,577.4 470,570.1 472,562.7 474,555.2 476,547.6 478,540 480,532.5 482,525 484,517.7 486,510.4 488,503.4 490,496.5 492,490 494,483.6 496,477.6 498,472 500,466.7 502,461.8 504,457.4 506,453.4 508,449.8 510,446.7 512,444.1 514,442.1 516,440.5 518,439.5 520,439 522,439.1 524,439.7 526,440.8 528,442.5 530,444.6 532,447.3 534,450.5 536,454.1 538,458.2 540,462.8 542,467.7 544,473.1 546,478.8 548,484.9 550,491.2 552,497.9 554,504.8 556,511.9 558,519.1 560,526.5 562,534 564,541.6 566,549.1 568,556.7 570,564.2 572,571.6 574,578.9 576,586 578,592.9 580,599.6 582,606 584,612.1 586,617.9 588,623.3 590,628.4 592,633 594,637.2 596,640.9 598,644.2 600,646.9 602,649.2 604,650.9 606,652.2 608,652.8 610,653 612,652.6 614,651.7 616,650.2 618,648.2 620,645.8 622,642.8 624,639.3 626,635.4 628,631 630,626.2 632,621 634,615.4 636,609.4 638,603.2 640,596.6 642,589.8 644,582.8 646,575.6 648,568.3 650,560.8 652,553.3 654,545.7 656,538.1 658,530.6 660,523.2 662,515.8 664,508.6 666,501.6 668,494.9 670,488.3 672,482.1 674,476.2 676,470.6 678,465.5 680,460.7 682,456.3 684,452.4 686,449 688,446 690,443.6 692,441.6 694,440.2 696,439.4 698,439 700,439.2 702,439.9 704,441.2 706,443 708,445.2 710,448 712,451.3 714,455.1 716,459.3 718,464 720,469 722,474.5 724,480.3 726,486.4 728,492.9 730,499.6 732,506.5 734,513.7 736,521 738,528.4 740,535.9 742,543.4 744,551 746,558.6 748,566 750,573.4 752,580.7 754,587.8 756,594.6 758,601.2 760,607.6 762,613.6 764,619.3 766,624.6 768,629.6 770,634.1 772,638.2 774,641.8 776,644.9 778,647.6 780,649.7 782,651.3 784,652.4 786,652.9 788,652.9 790,652.4 792,651.4 794,649.8 796,647.7 798,645.1 800,642 802,638.4 804,634.3 806,629.8 808,624.9 810,619.6 812,613.9 814,607.9 816,601.6 818,595 820,588.1 822,581 824,573.8 826,566.4 828,558.9 830,551.4 832,543.8 834,536.3 836,528.7 838,521.3 840,514 842,506.9 844,499.9 846,493.2 848,486.8 850,480.6 852,474.8 854,469.3 856,464.2 858,459.5 860,455.3 862,451.5 864,448.2 866,445.4 868,443.1 870,441.2 872,440 874,439.2 876,439 878,439.3 880,440.2 882,441.6 884,443.5 886,445.9 888,448.8 890,452.2 892,456.1 894,460.4 896,465.2 898,470.4 900,475.9 902,481.8 904,488 906,494.5 908,501.3 910,508.3 912,515.5 914,522.8 916,530.2 918,537.8 920,545.3 922,552.9 924,560.4 926,567.9 928,575.3 930,582.5 932,589.5 934,596.3 936,602.9 938,609.1 940,615.1 942,620.7 944,625.9 946,630.7 948,635.2 950,639.1 952,642.6 954,645.6 956,648.1 958,650.1 960,651.6 962,652.6 964,653 966,652.9 968,652.2 970,651 972,649.3 974,647.1 976,644.3 978,641.1 980,637.4 982,633.2 984,628.6 986,623.6 988,618.2 990,612.4 992,606.3 994,599.9 996,593.3 998,586.4 1000,579.2 1002,572 1004,564.6 1006,557.1 1008,549.5 1010,541.9 1012,534.4 1014,526.9 1016,519.5 1018,512.2 1020,505.1 1022,498.2 1024,491.6 1026,485.2 1028,479.1 1030,473.4 1032,468 1034,463 1036,458.4 1038,454.3 1040,450.6 1042,447.4 1044,444.7 1046,442.6 1048,440.9 1050,439.7 1052,439.1 1054,439 1056,439.5 1058,440.5 1060,442 1062,444 1064,446.6 1066,449.6 1068,453.2 1070,457.2 1072,461.6 1074,466.5 1076,471.7 1078,477.4 1080,483.3 1082,489.6 1084,496.2 1086,503 1088,510.1 1090,517.3 1092,524.6 1094,532.1 1096,539.7 1098,547.2 1100,554.8 1102,562.3 1104,569.8 1106,577.1 1108,584.2 1110,591.2 1112,598 1114,604.4 1116,610.6 1118,616.5 1120,622 1122,627.2 1124,631.9 1126,636.2 1128,640 1130,643.4 1132,646.3 1134,648.7 1136,650.6 1138,651.9 1140,652.7 1142,653 1144,652.7 1146,652 1148,650.6 1150,648.8 1152,646.4 1154,643.6 1156,640.2 1158,636.4 1160,632.1 1162,627.4 1164,622.3 1166,616.8 1168,610.9 1170,604.8 1172,598.3 1174,591.6 1176,584.6 1178,577.4 1180,570.1 1182,562.7 1184,555.2 1186,547.6 1188,540 1190,532.5 1192,525 1194,517.7 1196,510.4 1198,503.4 1200,496.5 1202,490 1204,483.6 1206,477.6 1208,472 1210,466.7 1212,461.8 1214,457.4 1216,453.4 1218,449.8 1220,446.7 1222,444.1 1224,442.1 1226,440.5 1228,439.5 1230,439 1232,439.1 1234,439.7 1236,440.8 1238,442.5 1240,444.6 1242,447.3 1244,450.5 1246,454.1 1248,458.2 1250,462.8 1252,467.7 1254,473.1 1256,478.8 1258,484.9 1260,491.2 1262,497.9 1264,504.8 1266,511.9 1268,519.1 1270,526.5 1272,534 1274,541.6 1276,549.1 1278,556.7 1280,564.2 1282,571.6 1284,578.9 1286,586 1288,592.9 1290,599.6 1292,606 1294,612.1 1296,617.9 1298,623.3 1300,628.4 1302,633 1304,637.2 1306,640.9 1308,644.2 1310,646.9 1312,649.2 1314,650.9 1316,652.2 1318,652.8 1320,653 1322,652.6 1324,651.7 1326,650.2 1328,648.2 1330,645.8 1332,642.8 1334,639.3 1336,635.4 1338,631 1340,626.2 1342,621 1344,615.4 1346,609.4 1348,603.2 1350,596.6 1352,589.8 1354,582.8 1356,575.6 1358,568.3 1360,560.8 1362,553.3 1364,545.7 1366,538.1 1368,530.6 1370,523.2 1372,515.8 1374,508.6 1376,501.6 1378,494.9 1380,488.3 1382,482.1 1384,476.2 1386,470.6 1388,465.5 1390,460.7 1392,456.3 1394,452.4 1396,449 1398,446 1400,443.6 1402,441.6 1404,440.2 1406,439.4 1408,439 1410,439.2 1412,439.9 1414,441.2 1416,443 1418,445.2 1420,448 1422,451.3 1424,455.1 1426,459.3 1428,464 1430,469 1432,474.5 1434,480.3 1436,486.4 1438,492.9 1440,499.6 1442,506.5 1444,513.7 1446,521 1448,528.4 1450,535.9 1452,543.4 1454,551 1456,558.6 1458,566 1460,573.4 1462,580.7 1464,587.8 1466,594.6 1468,601.2 1470,607.6 1472,613.6 1474,619.3 1476,624.6 1478,629.6 1480,634.1 1482,638.2 1484,641.8 1486,644.9 1488,647.6 1490,649.7 1492,651.3 1494,652.4 1496,652.9 1498,652.9 1500,652.4 1502,651.4 1504,649.8 1506,647.7 1508,645.1 1510,642 1512,638.4 1514,634.3 1516,629.8 1518,624.9 1520,619.6 1522,613.9 1524,607.9 1526,601.6 1528,595 1530,588.1 1532,581 1534,573.8 1536,566.4 1538,558.9 1540,551.4 1542,543.8 1544,536.3 1546,528.7 1548,521.3 1550,514 1552,506.9 1554,499.9 1556,493.2 1558,486.8 1560,480.6 1562,474.8 1564,469.3 1566,464.2 1568,459.5 1570,455.3 1572,451.5 1574,448.2 1576,445.4 1578,443.1 1580,441.2 1582,440 1584,439.2 1586,439 1588,439.3 1590,440.2 1592,441.6 1594,443.5 1596,445.9 1598,448.8 1600,452.2 1602,456.1 1604,460.4 1606,465.2 1608,470.4 1610,475.9 1612,481.8 1614,488 1616,494.5 1618,501.3 1620,508.3 1622,515.5 1624,522.8 1626,530.2 1628,537.8 1630,545.3 1632,552.9 1634,560.4 1636,567.9 1638,575.3 1640,582.5 1642,589.5 1644,596.3 1646,602.9 1648,609.1 1650,615.1 1652,620.7 1654,625.9 1656,630.7 1658,635.2 1660,639.1 1662,642.6 1664,645.6 1666,648.1 1668,650.1 1670,651.6 1672,652.6 1674,653 1676,652.9 1678,652.2 1680,651 1682,649.3 1684,647.1 1686,644.3 1688,641.1 1690,637.4 1692,633.2 1694,628.6 1696,623.6 1698,618.2 1700,612.4 1702,606.3 1704,599.9 1706,593.3 1708,586.4 1710,579.2 1712,572 1714,564.6 1716,557.1 1718,549.5 1720,541.9 1722,534.4 1724,526.9 1726,519.5 1728,512.2 1730,505.1 1732,498.2 1734,491.6 1736,485.2 1738,479.1 1740,473.4 1742,468 1744,463 1746,458.4 1748,454.3 1750,450.6 1752,447.4 1754,444.7 1756,442.6 1758,440.9 1760,439.7 1762,439.1 1764,439 1766,439.5 1768,440.5 1770,442 1772,444 1774,446.6 1776,449.6 1778,453.2 1780,457.2 1782,461.6 1784,466.5 1786,471.7 1788,477.4 1790,483.3 1792,489.6 1794,496.2 1796,503 1798,510.1 1800,517.3 1802,524.6 1804,532.1 1806,539.7 1808,547.2 1810,554.8 1812,562.3 1814,569.8 1816,577.1 1818,584.2 1820,591.2 1822,598 1824,604.4 1826,610.6 1828,616.5 1830,622 1832,627.2 1834,631.9 1836,636.2 1838,640 1840,643.4 1842,646.3 1844,648.7" stroke="#c400c4" stroke-width="4.7"/>
<polyline points="72,655.3 74,656.4 76,656.9 78,656.9 80,656.4 82,655.4 84,653.8 86,651.7 88,649.1 90,646 92,642.4 94,638.3 96,633.8 98,628.9 100,623.6 102,617.9 104,611.9 106,605.6 108,599 110,592.1 112,585 114,577.8 116,570.4 118,562.9 120,555.4 122,547.8 124,540.3 126,532.7 128,525.3 130,518 132,510.9 134,503.9 136,497.2 138,490.8 140,484.6 142,478.8 144,473.3 146,468.2 148,463.5 150,459.3 152,455.5 154,452.2 156,449.4 158,447.1 160,445.2 162,444 164,443.2 166,443 168,443.3 170,444.2 172,445.6 174,447.5 176,449.9 178,452.8 180,456.2 182,460.1 184,464.4 186,469.2 188,474.4 190,479.9 192,485.8 194,492 196,498.5 198,505.3 200,512.3 202,519.5 204,526.8 206,534.2 208,541.8 210,549.3 212,556.9 214,564.4 216,571.9 218,579.3 220,586.5 222,593.5 224,600.3 226,606.9 228,613.1 230,619.1 232,624.7 234,629.9 236,634.7 238,639.2 240,643.1 242,646.6 244,649.6 246,652.1 248,654.1 250,655.6 252,656.6 254,657 256,656.9 258,656.2 260,655 262,653.3 264,651.1 266,648.3 268,645.1 270,641.4 272,637.2 274,632.6 276,627.6 278,622.2 280,616.4 282,610.3 284,603.9 286,597.3 288,590.4 290,583.2 292,576 294,568.6 296,561.1 298,553.5 300,545.9 302,538.4 304,530.9 306,523.5 308,516.2 310,509.1 312,502.2 314,495.6 316,489.2 318,483.1 320,477.4 322,472 324,467 326,462.4 328,458.3 330,454.6 332,451.4 334,448.7 336,446.6 338,444.9 340,443.7 342,443.1 344,443 346,443.5 348,444.5 350,446 352,448 354,450.6 356,453.6 358,457.2 360,461.2 362,465.6 364,470.5 366,475.7 368,481.4 370,487.3 372,493.6 374,500.2 376,507 378,514.1 380,521.3 382,528.6 384,536.1 386,543.7 388,551.2 390,558.8 392,566.3 394,573.8 396,581.1 398,588.2 400,595.2 402,602 404,608.4 406,614.6 408,620.5 410,626 412,631.2 414,635.9 416,640.2 418,644 420,647.4 422,650.3 424,652.7 426,654.6 428,655.9 430,656.7 432,657 434,656.7 436,656 438,654.6 440,652.8 442,650.4 444,647.6 446,644.2 448,640.4 450,636.1 452,631.4 454,626.3 456,620.8 458,614.9 460,608.8 462,602.3 464,595.6 466,588.6 468,581.4 470,574.1 472,566.7 474,559.2 476,551.6 478,544 480,536.5 482,529 484,521.7 486,514.4 488,507.4 490,500.5 492,494 494,487.6 496,481.6 498,476 500,470.7 502,465.8 504,461.4 506,457.4 508,453.8 510,450.7 512,448.1 514,446.1 516,444.5 518,443.5 520,443 522,443.1 524,443.7 526,444.8 528,446.5 530,448.6 532,451.3 534,454.5 536,458.1 538,462.2 540,466.8 542,471.7 544,477.1 546,482.8 548,488.9 550,495.2 552,501.9 554,508.8 556,515.9 558,523.1 560,530.5 562,538 564,545.6 566,553.1 568,560.7 570,568.2 572,575.6 574,582.9 576,590 578,596.9 580,603.6 582,610 584,616.1 586,621.9 588,627.3 590,632.4 592,637 594,641.2 596,644.9 598,648.2 600,650.9 602,653.2 604,654.9 606,656.2 608,656.8 610,657 612,656.6 614,655.7 616,654.2 618,652.2 620,649.8 622,646.8 624,643.3 626,639.4 628,635 630,630.2 632,625 634,619.4 636,613.4 638,607.2 640,600.6 642,593.8 644,586.8 646,579.6 648,572.3 650,564.8 652,557.3 654,549.7 656,542.1 658,534.6 660,527.2 662,519.8 664,512.6 666,505.6 668,498.9 670,492.3 672,486.1 674,480.2 676,474.6 678,469.5 680,464.7 682,460.3 684,456.4 686,453 688,450 690,447.6 692,445.6 694,444.2 696,443.4 698,443 700,443.2 702,443.9 704,445.2 706,447 708,449.2 710,452 712,455.3 714,459.1 716,463.3 718,468 720,473 722,478.5 724,484.3 726,490.4 728,496.9 730,503.6 732,510.5 734,517.7 736,525 738,532.4 740,539.9 742,547.4 744,555 746,562.6 748,570 750,577.4 752,584.7 754,591.8 756,598.6 758,605.2 760,611.6 762,617.6 764,623.3 766,628.6 768,633.6 770,638.1 772,642.2 774,645.8 776,648.9 778,651.6 780,653.7 782,655.3 784,656.4 786,656.9 788,656.9 790,656.4 792,655.4 794,653.8 796,651.7 798,649.1 800,646 802,642.4 804,638.3 806,633.8 808,628.9 810,623.6 812,617.9 814,611.9 816,605.6 818,599 820,592.1 822,585 824,577.8 826,570.4 828,562.9 830,555.4 832,547.8 834,540.3 836,532.7 838,525.3 840,518 842,510.9 844,503.9 846,497.2 848,490.8 850,484.6 852,478.8 854,473.3 856,468.2 858,463.5 860,459.3 862,455.5 864,452.2 866,449.4 868,447.1 870,445.2 872,444 874,443.2 876,443 878,443.3 880,444.2 882,445.6 884,447.5 886,449.9 888,452.8 890,456.2 892,460.1 894,464.4 896,469.2 898,474.4 900,479.9 902,485.8 904,492 906,498.5 908,505.3 910,512.3 912,519.5 914,526.8 916,534.2 918,541.8 920,549.3 922,556.9 924,564.4 926,571.9 928,579.3 930,586.5 932,593.5 934,600.3 936,606.9 938,613.1 940,619.1 942,624.7 944,629.9 946,634.7 948,639.2 950,643.1 952,646.6 954,649.6 956,652.1 958,654.1 960,655.6 962,656.6 964,657 966,656.9 968,656.2 970,655 972,653.3 974,651.1 976,648.3 978,645.1 980,641.4 982,637.2 984,632.6 986,627.6 988,622.2 990,616.4 992,610.3 994,603.9 996,597.3 998,590.4 1000,583.2 1002,576 1004,568.6 1006,561.1 1008,553.5 1010,545.9 1012,538.4 1014,530.9 1016,523.5 1018,516.2 1020,509.1 1022,502.2 1024,495.6 1026,489.2 1028,483.1 1030,477.4 1032,472 1034,467 1036,462.4 1038,458.3 1040,454.6 1042,451.4 1044,448.7 1046,446.6 1048,444.9 1050,443.7 1052,443.1 1054,443 1056,443.5 1058,444.5 1060,446 1062,448 1064,450.6 1066,453.6 1068,457.2 1070,461.2 1072,465.6 1074,470.5 1076,475.7 1078,481.4 1080,487.3 1082,493.6 1084,500.2 1086,507 1088,514.1 1090,521.3 1092,528.6 1094,536.1 1096,543.7 1098,551.2 1100,558.8 1102,566.3 1104,573.8 1106,581.1 1108,588.2 1110,595.2 1112,602 1114,608.4 1116,614.6 1118,620.5 1120,626 1122,631.2 1124,635.9 1126,640.2 1128,644 1130,647.4 1132,650.3 1134,652.7 1136,654.6 1138,655.9 1140,656.7 1142,657 1144,656.7 1146,656 1148,654.6 1150,652.8 1152,650.4 1154,647.6 1156,644.2 1158,640.4 1160,636.1 1162,631.4 1164,626.3 1166,620.8 1168,614.9 1170,608.8 1172,602.3 1174,595.6 1176,588.6 1178,581.4 1180,574.1 1182,566.7 1184,559.2 1186,551.6 1188,544 1190,536.5 1192,529 1194,521.7 1196,514.4 1198,507.4 1200,500.5 1202,494 1204,487.6 1206,481.6 1208,476 1210,470.7 1212,465.8 1214,461.4 1216,457.4 1218,453.8 1220,450.7 1222,448.1 1224,446.1 1226,444.5 1228,443.5 1230,443 1232,443.1 1234,443.7 1236,444.8 1238,446.5 1240,448.6 1242,451.3 1244,454.5 1246,458.1 1248,462.2 1250,466.8 1252,471.7 1254,477.1 1256,482.8 1258,488.9 1260,495.2 1262,501.9 1264,508.8 1266,515.9 1268,523.1 1270,530.5 1272,538 1274,545.6 1276,553.1 1278,560.7 1280,568.2 1282,575.6 1284,582.9 1286,590 1288,596.9 1290,603.6 1292,610 1294,616.1 1296,621.9 1298,627.3 1300,632.4 1302,637 1304,641.2 1306,644.9 1308,648.2 1310,650.9 1312,653.2 1314,654.9 1316,656.2 1318,656.8 1320,657 1322,656.6 1324,655.7 1326,654.2 1328,652.2 1330,649.8 1332,646.8 1334,643.3 1336,639.4 1338,635 1340,630.2 1342,625 1344,619.4 1346,613.4 1348,607.2 1350,600.6 1352,593.8 1354,586.8 1356,579.6 1358,572.3 1360,564.8 1362,557.3 1364,549.7 1366,542.1 1368,534.6 1370,527.2 1372,519.8 1374,512.6 1376,505.6 1378,498.9 1380,492.3 1382,486.1 1384,480.2 1386,474.6 1388,469.5 1390,464.7 1392,460.3 1394,456.4 1396,453 1398,450 1400,447.6 1402,445.6 1404,444.2 1406,443.4 1408,443 1410,443.2 1412,443.9 1414,445.2 1416,447 1418,449.2 1420,452 1422,455.3 1424,459.1 1426,463.3 1428,468 1430,473 1432,478.5 1434,484.3 1436,490.4 1438,496.9 1440,503.6 1442,510.5 1444,517.7 1446,525 1448,532.4 1450,539.9 1452,547.4 1454,555 1456,562.6 1458,570 1460,577.4 1462,584.7 1464,591.8 1466,598.6 1468,605.2 1470,611.6 1472,617.6 1474,623.3 1476,628.6 1478,633.6 1480,638.1 1482,642.2 1484,645.8 1486,648.9 1488,651.6 1490,653.7 1492,655.3 1494,656.4 1496,656.9 1498,656.9 1500,656.4 1502,655.4 1504,653.8 1506,651.7 1508,649.1 1510,646 1512,642.4 1514,638.3 1516,633.8 1518,628.9 1520,623.6 1522,617.9 1524,611.9 1526,605.6 1528,599 1530,592.1 1532,585 1534,577.8 1536,570.4 1538,562.9 1540,555.4 1542,547.8 1544,540.3 1546,532.7 1548,525.3 1550,518 1552,510.9 1554,503.9 1556,497.2 1558,490.8 1560,484.6 1562,478.8 1564,473.3 1566,468.2 1568,463.5 1570,459.3 1572,455.5 1574,452.2 1576,449.4 1578,447.1 1580,445.2 1582,444 1584,443.2 1586,443 1588,443.3 1590,444.2 1592,445.6 1594,447.5 1596,449.9 1598,452.8 1600,456.2 1602,460.1 1604,464.4 1606,469.2 1608,474.4 1610,479.9 1612,485.8 1614,492 1616,498.5 1618,505.3 1620,512.3 1622,519.5 1624,526.8 1626,534.2 1628,541.8 1630,549.3 1632,556.9 1634,564.4 1636,571.9 1638,579.3 1640,586.5 1642,593.5 1644,600.3 1646,606.9 1648,613.1 1650,619.1 1652,624.7 1654,629.9 1656,634.7 1658,639.2 1660,643.1 1662,646.6 1664,649.6 1666,652.1 1668,654.1 1670,655.6 1672,656.6 1674,657 1676,656.9 1678,656.2 1680,655 1682,653.3 1684,651.1 1686,648.3 1688,645.1 1690,641.4 1692,637.2 1694,632.6 1696,627.6 1698,622.2 1700,616.4 1702,610.3 1704,603.9 1706,597.3 1708,590.4 1710,583.2 1712,576 1714,568.6 1716,561.1 1718,553.5 1720,545.9 1722,538.4 1724,530.9 1726,523.5 1728,516.2 1730,509.1 1732,502.2 1734,495.6 1736,489.2 1738,483.1 1740,477.4 1742,472 1744,467 1746,462.4 1748,458.3 1750,454.6 1752,451.4 1754,448.7 1756,446.6 1758,444.9 1760,443.7 1762,443.1 1764,443 1766,443.5 1768,444.5 1770,446 1772,448 1774,450.6 1776,453.6 1778,457.2 1780,461.2 1782,465.6 1784,470.5 1786,475.7 1788,481.4 1790,487.3 1792,493.6 1794,500.2 1796,507 1798,514.1 1800,521.3 1802,528.6 1804,536.1 1806,543.7 1808,551.2 1810,558.8 1812,566.3 1814,573.8 1816,581.1 1818,588.2 1820,595.2 1822,602 1824,608.4 1826,614.6 1828,620.5 1830,626 1832,631.2 1834,635.9 1836,640.2 1838,644 1840,647.4 1842,650.3 1844,652.7" stroke="#c400c4" stroke-width="4.7"/>
</g>
</g>
<path d="M1818.4 548.5L1833 534.3V546.5H1843V551.8H1833V563z" fill="#08e0e0"/>
<path d="M23 531 H52 L66.6 549 L52 567 H23z" fill="#787e78" stroke="#f08af0" stroke-width="3" stroke-linejoin="round" stroke-opacity="0.8"/>
<text transform="translate(37.5 563.6) scale(0.78 1)" font-size="41" text-anchor="middle" font-family="'Liberation Sans',Arial,sans-serif" fill="#d765d7">3</text>
<path d="M23 581 H52 L66.6 599.8 L52 618.5 H23z" fill="#d27070" stroke="#d88080" stroke-width="3" stroke-linejoin="round" stroke-opacity="0.8"/>
<text transform="translate(37.5 614.4) scale(0.78 1)" font-size="41" text-anchor="middle" font-family="'Liberation Sans',Arial,sans-serif" fill="#8c7c7c">M</text>
<path d="M23 654 H52 L66.6 672.5 L52 691 H23z" fill="#787e78" stroke="#86ee86" stroke-width="3" stroke-linejoin="round" stroke-opacity="0.8"/>
<text transform="translate(37.5 687.1) scale(0.78 1)" font-size="41" text-anchor="middle" font-family="'Liberation Sans',Arial,sans-serif" fill="#5fe35f">4</text>
<text class="s i" x="1234" y="124.6" font-size="70" textLength="38" lengthAdjust="spacingAndGlyphs" xml:space="preserve">V</text>
<text class="s i" x="1268.7" y="134.6" font-size="44" xml:space="preserve">dc</text>
<text class="s" x="1329" y="124.2" font-size="70" xml:space="preserve">:</text>
<text class="s" x="1366" y="124.2" font-size="70" textLength="320.5" lengthAdjust="spacingAndGlyphs" xml:space="preserve">[100 V/div]</text>
<text class="s i" x="265" y="325.7" font-size="70" xml:space="preserve">v</text>
<text class="s i" x="293.6" y="336" font-size="44" textLength="25.5" lengthAdjust="spacingAndGlyphs" xml:space="preserve">g</text>
<text class="s" x="334" y="325.7" font-size="70" xml:space="preserve">:</text>
<text class="s" x="372" y="325.7" font-size="70" textLength="320" lengthAdjust="spacingAndGlyphs" xml:space="preserve">[200 V/div]</text>
<text class="s i" x="1079.5" y="323.2" font-size="70" textLength="25.3" lengthAdjust="spacingAndGlyphs" xml:space="preserve">i</text>
<text class="s i" x="1100" y="333.5" font-size="44" textLength="25.5" lengthAdjust="spacingAndGlyphs" xml:space="preserve">g</text>
<text class="s" x="1140" y="323.2" font-size="70" xml:space="preserve">:</text>
<text class="s" x="1177" y="323.2" font-size="70" textLength="321" lengthAdjust="spacingAndGlyphs" xml:space="preserve">[100 A/div]</text>
<text class="s" x="1320" y="816.5" font-size="70" textLength="514.5" lengthAdjust="spacingAndGlyphs" xml:space="preserve">Time : [20 ms/div]</text>
<text class="s" x="349.6" y="864" font-size="70" textLength="858.4" lengthAdjust="spacingAndGlyphs" xml:space="preserve">FFT :[5 kHz/div] ,  [50 dB/div]</text>
<line x1="1688.2" y1="103.3" x2="1715.2" y2="130.6" stroke="#000" stroke-width="6.2"/>
<path d="M1762.7 178.7L1731.3 114L1699 147.1z" fill="#000"/>
<line x1="755.3" y1="322.3" x2="805" y2="373.4" stroke="#000" stroke-width="6.2"/>
<path d="M854.3 421.8L820.9 357.1L789.2 389.6z" fill="#000"/>
<line x1="1494" y1="361" x2="1522.5" y2="420.2" stroke="#000" stroke-width="6.2"/>
<path d="M1553 482.3L1543 410L1502 430.5z" fill="#000"/>
</svg></body></html>
